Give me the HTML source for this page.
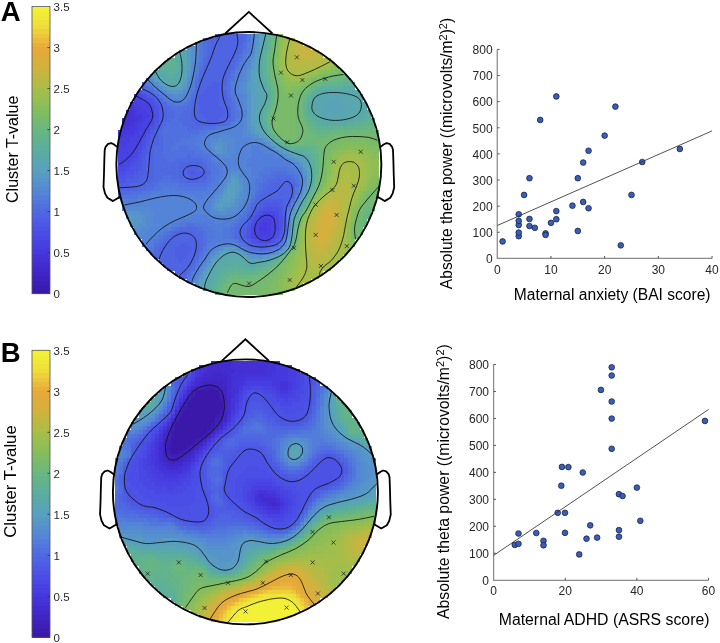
<!DOCTYPE html>
<html><head><meta charset="utf-8"><style>html,body{margin:0;padding:0;background:#fff;}svg{display:block;will-change:transform;}</style></head>
<body><svg width="720" height="643" viewBox="0 0 720 643"><text x="0.8" y="20.9" font-family="'Liberation Sans', sans-serif" font-size="27.5" font-weight="bold" fill="#000">A</text>
<text x="0.8" y="362.1" font-family="'Liberation Sans', sans-serif" font-size="27.5" font-weight="bold" fill="#000">B</text>
<rect x="32" y="289.21" width="18" height="4.99" fill="#3b18a9" shape-rendering="crispEdges"/>
<rect x="32" y="284.72" width="18" height="4.99" fill="#3c1bb0" shape-rendering="crispEdges"/>
<rect x="32" y="280.24" width="18" height="4.99" fill="#3d1eb6" shape-rendering="crispEdges"/>
<rect x="32" y="275.75" width="18" height="4.99" fill="#3f21bd" shape-rendering="crispEdges"/>
<rect x="32" y="271.26" width="18" height="4.99" fill="#4024c4" shape-rendering="crispEdges"/>
<rect x="32" y="266.77" width="18" height="4.99" fill="#4128c9" shape-rendering="crispEdges"/>
<rect x="32" y="262.29" width="18" height="4.99" fill="#432ccf" shape-rendering="crispEdges"/>
<rect x="32" y="257.80" width="18" height="4.99" fill="#4430d5" shape-rendering="crispEdges"/>
<rect x="32" y="253.31" width="18" height="4.99" fill="#4533da" shape-rendering="crispEdges"/>
<rect x="32" y="248.82" width="18" height="4.99" fill="#4638df" shape-rendering="crispEdges"/>
<rect x="32" y="244.34" width="18" height="4.99" fill="#473de0" shape-rendering="crispEdges"/>
<rect x="32" y="239.85" width="18" height="4.99" fill="#4842e2" shape-rendering="crispEdges"/>
<rect x="32" y="235.36" width="18" height="4.99" fill="#4948e4" shape-rendering="crispEdges"/>
<rect x="32" y="230.88" width="18" height="4.99" fill="#4a4de6" shape-rendering="crispEdges"/>
<rect x="32" y="226.39" width="18" height="4.99" fill="#4b52e5" shape-rendering="crispEdges"/>
<rect x="32" y="221.90" width="18" height="4.99" fill="#4c58e4" shape-rendering="crispEdges"/>
<rect x="32" y="217.41" width="18" height="4.99" fill="#4d5ee4" shape-rendering="crispEdges"/>
<rect x="32" y="212.93" width="18" height="4.99" fill="#4e64e3" shape-rendering="crispEdges"/>
<rect x="32" y="208.44" width="18" height="4.99" fill="#4f69e1" shape-rendering="crispEdges"/>
<rect x="32" y="203.95" width="18" height="4.99" fill="#5070df" shape-rendering="crispEdges"/>
<rect x="32" y="199.46" width="18" height="4.99" fill="#5177dc" shape-rendering="crispEdges"/>
<rect x="32" y="194.97" width="18" height="4.99" fill="#537dda" shape-rendering="crispEdges"/>
<rect x="32" y="190.49" width="18" height="4.99" fill="#5484d7" shape-rendering="crispEdges"/>
<rect x="32" y="186.00" width="18" height="4.99" fill="#558ad3" shape-rendering="crispEdges"/>
<rect x="32" y="181.51" width="18" height="4.99" fill="#558fce" shape-rendering="crispEdges"/>
<rect x="32" y="177.02" width="18" height="4.99" fill="#5694c9" shape-rendering="crispEdges"/>
<rect x="32" y="172.54" width="18" height="4.99" fill="#579ac4" shape-rendering="crispEdges"/>
<rect x="32" y="168.05" width="18" height="4.99" fill="#589fc0" shape-rendering="crispEdges"/>
<rect x="32" y="163.56" width="18" height="4.99" fill="#58a3b8" shape-rendering="crispEdges"/>
<rect x="32" y="159.07" width="18" height="4.99" fill="#59a6b2" shape-rendering="crispEdges"/>
<rect x="32" y="154.59" width="18" height="4.99" fill="#59a9aa" shape-rendering="crispEdges"/>
<rect x="32" y="150.10" width="18" height="4.99" fill="#5aaca3" shape-rendering="crispEdges"/>
<rect x="32" y="145.61" width="18" height="4.99" fill="#5caf9c" shape-rendering="crispEdges"/>
<rect x="32" y="141.12" width="18" height="4.99" fill="#5fb196" shape-rendering="crispEdges"/>
<rect x="32" y="136.64" width="18" height="4.99" fill="#62b28e" shape-rendering="crispEdges"/>
<rect x="32" y="132.15" width="18" height="4.99" fill="#65b488" shape-rendering="crispEdges"/>
<rect x="32" y="127.66" width="18" height="4.99" fill="#68b680" shape-rendering="crispEdges"/>
<rect x="32" y="123.17" width="18" height="4.99" fill="#6eb879" shape-rendering="crispEdges"/>
<rect x="32" y="118.69" width="18" height="4.99" fill="#74b971" shape-rendering="crispEdges"/>
<rect x="32" y="114.20" width="18" height="4.99" fill="#7abb69" shape-rendering="crispEdges"/>
<rect x="32" y="109.71" width="18" height="4.99" fill="#80bd61" shape-rendering="crispEdges"/>
<rect x="32" y="105.22" width="18" height="4.99" fill="#87be5a" shape-rendering="crispEdges"/>
<rect x="32" y="100.74" width="18" height="4.99" fill="#8fbe56" shape-rendering="crispEdges"/>
<rect x="32" y="96.25" width="18" height="4.99" fill="#97be52" shape-rendering="crispEdges"/>
<rect x="32" y="91.76" width="18" height="4.99" fill="#9ebe4d" shape-rendering="crispEdges"/>
<rect x="32" y="87.28" width="18" height="4.99" fill="#a6be49" shape-rendering="crispEdges"/>
<rect x="32" y="82.79" width="18" height="4.99" fill="#afbc46" shape-rendering="crispEdges"/>
<rect x="32" y="78.30" width="18" height="4.99" fill="#b7b944" shape-rendering="crispEdges"/>
<rect x="32" y="73.81" width="18" height="4.99" fill="#c0b742" shape-rendering="crispEdges"/>
<rect x="32" y="69.32" width="18" height="4.99" fill="#c8b440" shape-rendering="crispEdges"/>
<rect x="32" y="64.84" width="18" height="4.99" fill="#d0b23e" shape-rendering="crispEdges"/>
<rect x="32" y="60.35" width="18" height="4.99" fill="#d6af3d" shape-rendering="crispEdges"/>
<rect x="32" y="55.86" width="18" height="4.99" fill="#dbad3c" shape-rendering="crispEdges"/>
<rect x="32" y="51.38" width="18" height="4.99" fill="#e1ab3b" shape-rendering="crispEdges"/>
<rect x="32" y="46.89" width="18" height="4.99" fill="#e6a93a" shape-rendering="crispEdges"/>
<rect x="32" y="42.40" width="18" height="4.99" fill="#e9af3a" shape-rendering="crispEdges"/>
<rect x="32" y="37.91" width="18" height="4.99" fill="#eabb3a" shape-rendering="crispEdges"/>
<rect x="32" y="33.43" width="18" height="4.99" fill="#ebc63a" shape-rendering="crispEdges"/>
<rect x="32" y="28.94" width="18" height="4.99" fill="#edd13a" shape-rendering="crispEdges"/>
<rect x="32" y="24.45" width="18" height="4.99" fill="#eedc3a" shape-rendering="crispEdges"/>
<rect x="32" y="19.96" width="18" height="4.99" fill="#efe239" shape-rendering="crispEdges"/>
<rect x="32" y="15.48" width="18" height="4.99" fill="#f0e737" shape-rendering="crispEdges"/>
<rect x="32" y="10.99" width="18" height="4.99" fill="#f1ec36" shape-rendering="crispEdges"/>
<rect x="32" y="6.50" width="18" height="4.99" fill="#f2f135" shape-rendering="crispEdges"/>
<rect x="32" y="6.5" width="18" height="287.2" fill="none" stroke="#555" stroke-width="0.8"/>
<text x="53.6" y="298.30" font-family="'Liberation Sans', sans-serif" font-size="11.5" fill="#2a2a2a">0</text>
<line x1="47.4" y1="252.67" x2="50" y2="252.67" stroke="#333" stroke-width="0.8"/>
<text x="53.6" y="257.27" font-family="'Liberation Sans', sans-serif" font-size="11.5" fill="#2a2a2a">0.5</text>
<line x1="47.4" y1="211.64" x2="50" y2="211.64" stroke="#333" stroke-width="0.8"/>
<text x="53.6" y="216.24" font-family="'Liberation Sans', sans-serif" font-size="11.5" fill="#2a2a2a">1</text>
<line x1="47.4" y1="170.61" x2="50" y2="170.61" stroke="#333" stroke-width="0.8"/>
<text x="53.6" y="175.21" font-family="'Liberation Sans', sans-serif" font-size="11.5" fill="#2a2a2a">1.5</text>
<line x1="47.4" y1="129.59" x2="50" y2="129.59" stroke="#333" stroke-width="0.8"/>
<text x="53.6" y="134.19" font-family="'Liberation Sans', sans-serif" font-size="11.5" fill="#2a2a2a">2</text>
<line x1="47.4" y1="88.56" x2="50" y2="88.56" stroke="#333" stroke-width="0.8"/>
<text x="53.6" y="93.16" font-family="'Liberation Sans', sans-serif" font-size="11.5" fill="#2a2a2a">2.5</text>
<line x1="47.4" y1="47.53" x2="50" y2="47.53" stroke="#333" stroke-width="0.8"/>
<text x="53.6" y="52.13" font-family="'Liberation Sans', sans-serif" font-size="11.5" fill="#2a2a2a">3</text>
<text x="53.6" y="11.10" font-family="'Liberation Sans', sans-serif" font-size="11.5" fill="#2a2a2a">3.5</text>
<text transform="translate(17.6,149.3) rotate(-90)" text-anchor="middle" font-family="'Liberation Sans', sans-serif" font-size="16" fill="#000">Cluster T-value</text>
<rect x="32" y="632.82" width="18" height="4.98" fill="#3b18a9" shape-rendering="crispEdges"/>
<rect x="32" y="628.33" width="18" height="4.98" fill="#3c1bb0" shape-rendering="crispEdges"/>
<rect x="32" y="623.85" width="18" height="4.98" fill="#3d1eb6" shape-rendering="crispEdges"/>
<rect x="32" y="619.36" width="18" height="4.98" fill="#3f21bd" shape-rendering="crispEdges"/>
<rect x="32" y="614.88" width="18" height="4.98" fill="#4024c4" shape-rendering="crispEdges"/>
<rect x="32" y="610.39" width="18" height="4.98" fill="#4128c9" shape-rendering="crispEdges"/>
<rect x="32" y="605.91" width="18" height="4.98" fill="#432ccf" shape-rendering="crispEdges"/>
<rect x="32" y="601.42" width="18" height="4.98" fill="#4430d5" shape-rendering="crispEdges"/>
<rect x="32" y="596.94" width="18" height="4.98" fill="#4533da" shape-rendering="crispEdges"/>
<rect x="32" y="592.46" width="18" height="4.98" fill="#4638df" shape-rendering="crispEdges"/>
<rect x="32" y="587.97" width="18" height="4.98" fill="#473de0" shape-rendering="crispEdges"/>
<rect x="32" y="583.49" width="18" height="4.98" fill="#4842e2" shape-rendering="crispEdges"/>
<rect x="32" y="579.00" width="18" height="4.98" fill="#4948e4" shape-rendering="crispEdges"/>
<rect x="32" y="574.52" width="18" height="4.98" fill="#4a4de6" shape-rendering="crispEdges"/>
<rect x="32" y="570.03" width="18" height="4.98" fill="#4b52e5" shape-rendering="crispEdges"/>
<rect x="32" y="565.55" width="18" height="4.98" fill="#4c58e4" shape-rendering="crispEdges"/>
<rect x="32" y="561.07" width="18" height="4.98" fill="#4d5ee4" shape-rendering="crispEdges"/>
<rect x="32" y="556.58" width="18" height="4.98" fill="#4e64e3" shape-rendering="crispEdges"/>
<rect x="32" y="552.10" width="18" height="4.98" fill="#4f69e1" shape-rendering="crispEdges"/>
<rect x="32" y="547.61" width="18" height="4.98" fill="#5070df" shape-rendering="crispEdges"/>
<rect x="32" y="543.13" width="18" height="4.98" fill="#5177dc" shape-rendering="crispEdges"/>
<rect x="32" y="538.64" width="18" height="4.98" fill="#537dda" shape-rendering="crispEdges"/>
<rect x="32" y="534.16" width="18" height="4.98" fill="#5484d7" shape-rendering="crispEdges"/>
<rect x="32" y="529.67" width="18" height="4.98" fill="#558ad3" shape-rendering="crispEdges"/>
<rect x="32" y="525.19" width="18" height="4.98" fill="#558fce" shape-rendering="crispEdges"/>
<rect x="32" y="520.71" width="18" height="4.98" fill="#5694c9" shape-rendering="crispEdges"/>
<rect x="32" y="516.22" width="18" height="4.98" fill="#579ac4" shape-rendering="crispEdges"/>
<rect x="32" y="511.74" width="18" height="4.98" fill="#589fc0" shape-rendering="crispEdges"/>
<rect x="32" y="507.25" width="18" height="4.98" fill="#58a3b8" shape-rendering="crispEdges"/>
<rect x="32" y="502.77" width="18" height="4.98" fill="#59a6b2" shape-rendering="crispEdges"/>
<rect x="32" y="498.28" width="18" height="4.98" fill="#59a9aa" shape-rendering="crispEdges"/>
<rect x="32" y="493.80" width="18" height="4.98" fill="#5aaca3" shape-rendering="crispEdges"/>
<rect x="32" y="489.32" width="18" height="4.98" fill="#5caf9c" shape-rendering="crispEdges"/>
<rect x="32" y="484.83" width="18" height="4.98" fill="#5fb196" shape-rendering="crispEdges"/>
<rect x="32" y="480.35" width="18" height="4.98" fill="#62b28e" shape-rendering="crispEdges"/>
<rect x="32" y="475.86" width="18" height="4.98" fill="#65b488" shape-rendering="crispEdges"/>
<rect x="32" y="471.38" width="18" height="4.98" fill="#68b680" shape-rendering="crispEdges"/>
<rect x="32" y="466.89" width="18" height="4.98" fill="#6eb879" shape-rendering="crispEdges"/>
<rect x="32" y="462.41" width="18" height="4.98" fill="#74b971" shape-rendering="crispEdges"/>
<rect x="32" y="457.92" width="18" height="4.98" fill="#7abb69" shape-rendering="crispEdges"/>
<rect x="32" y="453.44" width="18" height="4.98" fill="#80bd61" shape-rendering="crispEdges"/>
<rect x="32" y="448.96" width="18" height="4.98" fill="#87be5a" shape-rendering="crispEdges"/>
<rect x="32" y="444.47" width="18" height="4.98" fill="#8fbe56" shape-rendering="crispEdges"/>
<rect x="32" y="439.99" width="18" height="4.98" fill="#97be52" shape-rendering="crispEdges"/>
<rect x="32" y="435.50" width="18" height="4.98" fill="#9ebe4d" shape-rendering="crispEdges"/>
<rect x="32" y="431.02" width="18" height="4.98" fill="#a6be49" shape-rendering="crispEdges"/>
<rect x="32" y="426.53" width="18" height="4.98" fill="#afbc46" shape-rendering="crispEdges"/>
<rect x="32" y="422.05" width="18" height="4.98" fill="#b7b944" shape-rendering="crispEdges"/>
<rect x="32" y="417.57" width="18" height="4.98" fill="#c0b742" shape-rendering="crispEdges"/>
<rect x="32" y="413.08" width="18" height="4.98" fill="#c8b440" shape-rendering="crispEdges"/>
<rect x="32" y="408.60" width="18" height="4.98" fill="#d0b23e" shape-rendering="crispEdges"/>
<rect x="32" y="404.11" width="18" height="4.98" fill="#d6af3d" shape-rendering="crispEdges"/>
<rect x="32" y="399.63" width="18" height="4.98" fill="#dbad3c" shape-rendering="crispEdges"/>
<rect x="32" y="395.14" width="18" height="4.98" fill="#e1ab3b" shape-rendering="crispEdges"/>
<rect x="32" y="390.66" width="18" height="4.98" fill="#e6a93a" shape-rendering="crispEdges"/>
<rect x="32" y="386.18" width="18" height="4.98" fill="#e9af3a" shape-rendering="crispEdges"/>
<rect x="32" y="381.69" width="18" height="4.98" fill="#eabb3a" shape-rendering="crispEdges"/>
<rect x="32" y="377.21" width="18" height="4.98" fill="#ebc63a" shape-rendering="crispEdges"/>
<rect x="32" y="372.72" width="18" height="4.98" fill="#edd13a" shape-rendering="crispEdges"/>
<rect x="32" y="368.24" width="18" height="4.98" fill="#eedc3a" shape-rendering="crispEdges"/>
<rect x="32" y="363.75" width="18" height="4.98" fill="#efe239" shape-rendering="crispEdges"/>
<rect x="32" y="359.27" width="18" height="4.98" fill="#f0e737" shape-rendering="crispEdges"/>
<rect x="32" y="354.78" width="18" height="4.98" fill="#f1ec36" shape-rendering="crispEdges"/>
<rect x="32" y="350.30" width="18" height="4.98" fill="#f2f135" shape-rendering="crispEdges"/>
<rect x="32" y="350.3" width="18" height="286.99999999999994" fill="none" stroke="#555" stroke-width="0.8"/>
<text x="53.6" y="641.90" font-family="'Liberation Sans', sans-serif" font-size="11.5" fill="#2a2a2a">0</text>
<line x1="47.4" y1="596.30" x2="50" y2="596.30" stroke="#333" stroke-width="0.8"/>
<text x="53.6" y="600.90" font-family="'Liberation Sans', sans-serif" font-size="11.5" fill="#2a2a2a">0.5</text>
<line x1="47.4" y1="555.30" x2="50" y2="555.30" stroke="#333" stroke-width="0.8"/>
<text x="53.6" y="559.90" font-family="'Liberation Sans', sans-serif" font-size="11.5" fill="#2a2a2a">1</text>
<line x1="47.4" y1="514.30" x2="50" y2="514.30" stroke="#333" stroke-width="0.8"/>
<text x="53.6" y="518.90" font-family="'Liberation Sans', sans-serif" font-size="11.5" fill="#2a2a2a">1.5</text>
<line x1="47.4" y1="473.30" x2="50" y2="473.30" stroke="#333" stroke-width="0.8"/>
<text x="53.6" y="477.90" font-family="'Liberation Sans', sans-serif" font-size="11.5" fill="#2a2a2a">2</text>
<line x1="47.4" y1="432.30" x2="50" y2="432.30" stroke="#333" stroke-width="0.8"/>
<text x="53.6" y="436.90" font-family="'Liberation Sans', sans-serif" font-size="11.5" fill="#2a2a2a">2.5</text>
<line x1="47.4" y1="391.30" x2="50" y2="391.30" stroke="#333" stroke-width="0.8"/>
<text x="53.6" y="395.90" font-family="'Liberation Sans', sans-serif" font-size="11.5" fill="#2a2a2a">3</text>
<text x="53.6" y="354.90" font-family="'Liberation Sans', sans-serif" font-size="11.5" fill="#2a2a2a">3.5</text>
<text transform="translate(16.0,481.5) rotate(-90)" text-anchor="middle" font-family="'Liberation Sans', sans-serif" font-size="16.8" fill="#000">Cluster T-value</text>
<path d="M497.25,49.40V258.4H712.05" fill="none" stroke="#8a8a8a" stroke-width="1.25"/>
<text x="492.65" y="263.20" text-anchor="end" font-family="'Liberation Sans', sans-serif" font-size="12" fill="#262626">0</text>
<line x1="497.25" y1="232.27" x2="499.65" y2="232.27" stroke="#555" stroke-width="1"/>
<text x="492.65" y="237.07" text-anchor="end" font-family="'Liberation Sans', sans-serif" font-size="12" fill="#262626">100</text>
<line x1="497.25" y1="206.15" x2="499.65" y2="206.15" stroke="#555" stroke-width="1"/>
<text x="492.65" y="210.95" text-anchor="end" font-family="'Liberation Sans', sans-serif" font-size="12" fill="#262626">200</text>
<line x1="497.25" y1="180.02" x2="499.65" y2="180.02" stroke="#555" stroke-width="1"/>
<text x="492.65" y="184.82" text-anchor="end" font-family="'Liberation Sans', sans-serif" font-size="12" fill="#262626">300</text>
<line x1="497.25" y1="153.90" x2="499.65" y2="153.90" stroke="#555" stroke-width="1"/>
<text x="492.65" y="158.70" text-anchor="end" font-family="'Liberation Sans', sans-serif" font-size="12" fill="#262626">400</text>
<line x1="497.25" y1="127.77" x2="499.65" y2="127.77" stroke="#555" stroke-width="1"/>
<text x="492.65" y="132.57" text-anchor="end" font-family="'Liberation Sans', sans-serif" font-size="12" fill="#262626">500</text>
<line x1="497.25" y1="101.65" x2="499.65" y2="101.65" stroke="#555" stroke-width="1"/>
<text x="492.65" y="106.45" text-anchor="end" font-family="'Liberation Sans', sans-serif" font-size="12" fill="#262626">600</text>
<line x1="497.25" y1="75.52" x2="499.65" y2="75.52" stroke="#555" stroke-width="1"/>
<text x="492.65" y="80.32" text-anchor="end" font-family="'Liberation Sans', sans-serif" font-size="12" fill="#262626">700</text>
<line x1="497.25" y1="49.40" x2="499.65" y2="49.40" stroke="#555" stroke-width="1"/>
<text x="492.65" y="54.20" text-anchor="end" font-family="'Liberation Sans', sans-serif" font-size="12" fill="#262626">800</text>
<text x="497.25" y="274.10" text-anchor="middle" font-family="'Liberation Sans', sans-serif" font-size="12" fill="#262626">0</text>
<line x1="550.95" y1="258.4" x2="550.95" y2="255.99999999999997" stroke="#555" stroke-width="1"/>
<text x="550.95" y="274.10" text-anchor="middle" font-family="'Liberation Sans', sans-serif" font-size="12" fill="#262626">10</text>
<line x1="604.65" y1="258.4" x2="604.65" y2="255.99999999999997" stroke="#555" stroke-width="1"/>
<text x="604.65" y="274.10" text-anchor="middle" font-family="'Liberation Sans', sans-serif" font-size="12" fill="#262626">20</text>
<line x1="658.35" y1="258.4" x2="658.35" y2="255.99999999999997" stroke="#555" stroke-width="1"/>
<text x="658.35" y="274.10" text-anchor="middle" font-family="'Liberation Sans', sans-serif" font-size="12" fill="#262626">30</text>
<line x1="712.05" y1="258.4" x2="712.05" y2="255.99999999999997" stroke="#555" stroke-width="1"/>
<text x="712.05" y="274.10" text-anchor="middle" font-family="'Liberation Sans', sans-serif" font-size="12" fill="#262626">40</text>
<circle cx="502.62" cy="241.42" r="2.85" fill="#3a5db8" stroke="#15203f" stroke-width="0.75"/>
<circle cx="518.73" cy="236.19" r="2.85" fill="#3a5db8" stroke="#15203f" stroke-width="0.75"/>
<circle cx="518.73" cy="232.54" r="2.85" fill="#3a5db8" stroke="#15203f" stroke-width="0.75"/>
<circle cx="518.73" cy="224.96" r="2.85" fill="#3a5db8" stroke="#15203f" stroke-width="0.75"/>
<circle cx="518.73" cy="220.78" r="2.85" fill="#3a5db8" stroke="#15203f" stroke-width="0.75"/>
<circle cx="518.73" cy="214.25" r="2.85" fill="#3a5db8" stroke="#15203f" stroke-width="0.75"/>
<circle cx="524.10" cy="194.92" r="2.85" fill="#3a5db8" stroke="#15203f" stroke-width="0.75"/>
<circle cx="529.47" cy="178.20" r="2.85" fill="#3a5db8" stroke="#15203f" stroke-width="0.75"/>
<circle cx="529.47" cy="218.95" r="2.85" fill="#3a5db8" stroke="#15203f" stroke-width="0.75"/>
<circle cx="529.47" cy="226.00" r="2.85" fill="#3a5db8" stroke="#15203f" stroke-width="0.75"/>
<circle cx="534.84" cy="227.83" r="2.85" fill="#3a5db8" stroke="#15203f" stroke-width="0.75"/>
<circle cx="540.21" cy="119.94" r="2.85" fill="#3a5db8" stroke="#15203f" stroke-width="0.75"/>
<circle cx="545.58" cy="233.32" r="2.85" fill="#3a5db8" stroke="#15203f" stroke-width="0.75"/>
<circle cx="545.58" cy="234.89" r="2.85" fill="#3a5db8" stroke="#15203f" stroke-width="0.75"/>
<circle cx="550.95" cy="222.87" r="2.85" fill="#3a5db8" stroke="#15203f" stroke-width="0.75"/>
<circle cx="556.32" cy="96.42" r="2.85" fill="#3a5db8" stroke="#15203f" stroke-width="0.75"/>
<circle cx="556.32" cy="211.11" r="2.85" fill="#3a5db8" stroke="#15203f" stroke-width="0.75"/>
<circle cx="556.32" cy="219.21" r="2.85" fill="#3a5db8" stroke="#15203f" stroke-width="0.75"/>
<circle cx="572.43" cy="205.63" r="2.85" fill="#3a5db8" stroke="#15203f" stroke-width="0.75"/>
<circle cx="577.80" cy="178.20" r="2.85" fill="#3a5db8" stroke="#15203f" stroke-width="0.75"/>
<circle cx="577.80" cy="230.97" r="2.85" fill="#3a5db8" stroke="#15203f" stroke-width="0.75"/>
<circle cx="583.17" cy="162.52" r="2.85" fill="#3a5db8" stroke="#15203f" stroke-width="0.75"/>
<circle cx="583.17" cy="201.97" r="2.85" fill="#3a5db8" stroke="#15203f" stroke-width="0.75"/>
<circle cx="588.54" cy="150.76" r="2.85" fill="#3a5db8" stroke="#15203f" stroke-width="0.75"/>
<circle cx="588.54" cy="208.24" r="2.85" fill="#3a5db8" stroke="#15203f" stroke-width="0.75"/>
<circle cx="604.65" cy="135.61" r="2.85" fill="#3a5db8" stroke="#15203f" stroke-width="0.75"/>
<circle cx="615.39" cy="106.61" r="2.85" fill="#3a5db8" stroke="#15203f" stroke-width="0.75"/>
<circle cx="620.76" cy="245.34" r="2.85" fill="#3a5db8" stroke="#15203f" stroke-width="0.75"/>
<circle cx="631.50" cy="194.92" r="2.85" fill="#3a5db8" stroke="#15203f" stroke-width="0.75"/>
<circle cx="642.24" cy="162.00" r="2.85" fill="#3a5db8" stroke="#15203f" stroke-width="0.75"/>
<circle cx="679.83" cy="148.94" r="2.85" fill="#3a5db8" stroke="#15203f" stroke-width="0.75"/>
<line x1="497.25" y1="225.51" x2="712.05" y2="130.91" stroke="#333" stroke-width="0.85"/>
<text x="612.2" y="299.9" text-anchor="middle" font-family="'Liberation Sans', sans-serif" font-size="15.6" fill="#000">Maternal anxiety (BAI score)</text>
<text transform="translate(452.4,153.5) rotate(-90)" text-anchor="middle" font-family="'Liberation Sans', sans-serif" font-size="15.6" fill="#000">Absolute theta power ((microvolts/m<tspan font-size="10.9" dy="-5">2</tspan><tspan dy="5">)</tspan><tspan font-size="10.9" dy="-5">2</tspan><tspan dy="5">)</tspan></text>
<path d="M493.6,364.49V580.25H708.52" fill="none" stroke="#8a8a8a" stroke-width="1.25"/>
<text x="489.0" y="584.85" text-anchor="end" font-family="'Liberation Sans', sans-serif" font-size="12" fill="#262626">0</text>
<line x1="493.6" y1="553.28" x2="496.0" y2="553.28" stroke="#555" stroke-width="1"/>
<text x="489.0" y="557.88" text-anchor="end" font-family="'Liberation Sans', sans-serif" font-size="12" fill="#262626">100</text>
<line x1="493.6" y1="526.31" x2="496.0" y2="526.31" stroke="#555" stroke-width="1"/>
<text x="489.0" y="530.91" text-anchor="end" font-family="'Liberation Sans', sans-serif" font-size="12" fill="#262626">200</text>
<line x1="493.6" y1="499.34" x2="496.0" y2="499.34" stroke="#555" stroke-width="1"/>
<text x="489.0" y="503.94" text-anchor="end" font-family="'Liberation Sans', sans-serif" font-size="12" fill="#262626">300</text>
<line x1="493.6" y1="472.37" x2="496.0" y2="472.37" stroke="#555" stroke-width="1"/>
<text x="489.0" y="476.97" text-anchor="end" font-family="'Liberation Sans', sans-serif" font-size="12" fill="#262626">400</text>
<line x1="493.6" y1="445.40" x2="496.0" y2="445.40" stroke="#555" stroke-width="1"/>
<text x="489.0" y="450.00" text-anchor="end" font-family="'Liberation Sans', sans-serif" font-size="12" fill="#262626">500</text>
<line x1="493.6" y1="418.43" x2="496.0" y2="418.43" stroke="#555" stroke-width="1"/>
<text x="489.0" y="423.03" text-anchor="end" font-family="'Liberation Sans', sans-serif" font-size="12" fill="#262626">600</text>
<line x1="493.6" y1="391.46" x2="496.0" y2="391.46" stroke="#555" stroke-width="1"/>
<text x="489.0" y="396.06" text-anchor="end" font-family="'Liberation Sans', sans-serif" font-size="12" fill="#262626">700</text>
<line x1="493.6" y1="364.49" x2="496.0" y2="364.49" stroke="#555" stroke-width="1"/>
<text x="489.0" y="369.09" text-anchor="end" font-family="'Liberation Sans', sans-serif" font-size="12" fill="#262626">800</text>
<text x="493.60" y="595.25" text-anchor="middle" font-family="'Liberation Sans', sans-serif" font-size="12" fill="#262626">0</text>
<line x1="565.24" y1="580.25" x2="565.24" y2="577.85" stroke="#555" stroke-width="1"/>
<text x="565.24" y="595.25" text-anchor="middle" font-family="'Liberation Sans', sans-serif" font-size="12" fill="#262626">20</text>
<line x1="636.88" y1="580.25" x2="636.88" y2="577.85" stroke="#555" stroke-width="1"/>
<text x="636.88" y="595.25" text-anchor="middle" font-family="'Liberation Sans', sans-serif" font-size="12" fill="#262626">40</text>
<line x1="708.52" y1="580.25" x2="708.52" y2="577.85" stroke="#555" stroke-width="1"/>
<text x="708.52" y="595.25" text-anchor="middle" font-family="'Liberation Sans', sans-serif" font-size="12" fill="#262626">60</text>
<circle cx="514.81" cy="544.89" r="2.85" fill="#3a5db8" stroke="#15203f" stroke-width="0.75"/>
<circle cx="518.49" cy="543.79" r="2.85" fill="#3a5db8" stroke="#15203f" stroke-width="0.75"/>
<circle cx="518.49" cy="533.51" r="2.85" fill="#3a5db8" stroke="#15203f" stroke-width="0.75"/>
<circle cx="536.30" cy="533.00" r="2.85" fill="#3a5db8" stroke="#15203f" stroke-width="0.75"/>
<circle cx="543.50" cy="540.79" r="2.85" fill="#3a5db8" stroke="#15203f" stroke-width="0.75"/>
<circle cx="543.50" cy="545.30" r="2.85" fill="#3a5db8" stroke="#15203f" stroke-width="0.75"/>
<circle cx="557.72" cy="512.80" r="2.85" fill="#3a5db8" stroke="#15203f" stroke-width="0.75"/>
<circle cx="564.99" cy="512.80" r="2.85" fill="#3a5db8" stroke="#15203f" stroke-width="0.75"/>
<circle cx="564.99" cy="532.81" r="2.85" fill="#3a5db8" stroke="#15203f" stroke-width="0.75"/>
<circle cx="561.30" cy="485.69" r="2.85" fill="#3a5db8" stroke="#15203f" stroke-width="0.75"/>
<circle cx="561.91" cy="466.90" r="2.85" fill="#3a5db8" stroke="#15203f" stroke-width="0.75"/>
<circle cx="568.39" cy="467.11" r="2.85" fill="#3a5db8" stroke="#15203f" stroke-width="0.75"/>
<circle cx="579.21" cy="554.41" r="2.85" fill="#3a5db8" stroke="#15203f" stroke-width="0.75"/>
<circle cx="582.79" cy="472.50" r="2.85" fill="#3a5db8" stroke="#15203f" stroke-width="0.75"/>
<circle cx="586.52" cy="538.69" r="2.85" fill="#3a5db8" stroke="#15203f" stroke-width="0.75"/>
<circle cx="590.21" cy="525.31" r="2.85" fill="#3a5db8" stroke="#15203f" stroke-width="0.75"/>
<circle cx="597.12" cy="537.61" r="2.85" fill="#3a5db8" stroke="#15203f" stroke-width="0.75"/>
<circle cx="600.92" cy="389.90" r="2.85" fill="#3a5db8" stroke="#15203f" stroke-width="0.75"/>
<circle cx="611.70" cy="367.29" r="2.85" fill="#3a5db8" stroke="#15203f" stroke-width="0.75"/>
<circle cx="611.70" cy="375.49" r="2.85" fill="#3a5db8" stroke="#15203f" stroke-width="0.75"/>
<circle cx="611.70" cy="401.49" r="2.85" fill="#3a5db8" stroke="#15203f" stroke-width="0.75"/>
<circle cx="611.70" cy="418.59" r="2.85" fill="#3a5db8" stroke="#15203f" stroke-width="0.75"/>
<circle cx="611.70" cy="448.80" r="2.85" fill="#3a5db8" stroke="#15203f" stroke-width="0.75"/>
<circle cx="618.90" cy="494.19" r="2.85" fill="#3a5db8" stroke="#15203f" stroke-width="0.75"/>
<circle cx="622.55" cy="496.00" r="2.85" fill="#3a5db8" stroke="#15203f" stroke-width="0.75"/>
<circle cx="618.97" cy="530.11" r="2.85" fill="#3a5db8" stroke="#15203f" stroke-width="0.75"/>
<circle cx="618.97" cy="536.69" r="2.85" fill="#3a5db8" stroke="#15203f" stroke-width="0.75"/>
<circle cx="636.88" cy="487.58" r="2.85" fill="#3a5db8" stroke="#15203f" stroke-width="0.75"/>
<circle cx="640.32" cy="520.81" r="2.85" fill="#3a5db8" stroke="#15203f" stroke-width="0.75"/>
<circle cx="704.94" cy="420.91" r="2.85" fill="#3a5db8" stroke="#15203f" stroke-width="0.75"/>
<line x1="493.60" y1="555.41" x2="708.52" y2="409.50" stroke="#333" stroke-width="0.85"/>
<text x="604.1" y="624.8" text-anchor="middle" font-family="'Liberation Sans', sans-serif" font-size="15.8" fill="#000">Maternal ADHD (ASRS score)</text>
<text transform="translate(448.8,481.6) rotate(-90)" text-anchor="middle" font-family="'Liberation Sans', sans-serif" font-size="15.8" fill="#000">Absolute theta power ((microvolts/m<tspan font-size="11.1" dy="-5">2</tspan><tspan dy="5">)</tspan><tspan font-size="11.1" dy="-5">2</tspan><tspan dy="5">)</tspan></text>
<g shape-rendering="crispEdges">
<path fill="#4430d5" d="M122.37 122.34H130.40V126.36H122.37zM122.37 118.33H130.40V122.34H122.37zM126.39 114.31H130.40V118.33H126.39z"/>
<path fill="#4533da" d="M122.37 126.36H130.40V130.37H122.37zM130.40 122.34H134.42V126.36H130.40zM130.40 118.33H138.43V122.34H130.40zM130.40 114.31H134.42V118.33H130.40zM126.39 110.30H134.42V114.31H126.39z"/>
<path fill="#4638df" d="M258.89 226.73H266.92V230.75H258.89zM262.90 222.72H266.92V226.73H262.90zM118.36 134.39H126.39V138.40H118.36zM118.36 130.37H134.42V134.39H118.36zM130.40 126.36H138.43V130.37H130.40zM134.42 122.34H138.43V126.36H134.42zM138.43 118.33H142.45V122.34H138.43zM134.42 114.31H142.45V118.33H134.42zM134.42 110.30H138.43V114.31H134.42zM130.40 106.28H134.42V110.30H130.40z"/>
<path fill="#473de0" d="M258.89 230.75H270.93V234.77H258.89zM266.92 226.73H270.93V230.75H266.92zM258.89 222.72H262.90V226.73H258.89zM266.92 222.72H270.93V226.73H266.92zM262.90 218.70H270.93V222.72H262.90zM118.36 142.42H126.39V146.43H118.36zM118.36 138.40H130.40V142.42H118.36zM126.39 134.39H134.42V138.40H126.39zM134.42 130.37H138.43V134.39H134.42zM138.43 126.36H142.45V130.37H138.43zM138.43 122.34H142.45V126.36H138.43zM142.45 118.33H146.46V122.34H142.45zM142.45 114.31H150.48V118.33H142.45zM138.43 110.30H146.46V114.31H138.43zM134.42 106.28H142.45V110.30H134.42zM130.40 102.27H138.43V106.28H130.40z"/>
<path fill="#4842e2" d="M254.87 234.77H270.93V238.78H254.87zM254.87 230.75H258.89V234.77H254.87zM270.93 230.75H274.95V234.77H270.93zM254.87 226.73H258.89V230.75H254.87zM270.93 226.73H274.95V230.75H270.93zM254.87 222.72H258.89V226.73H254.87zM270.93 222.72H274.95V226.73H270.93zM258.89 218.70H262.90V222.72H258.89zM270.93 218.70H274.95V222.72H270.93zM258.89 214.69H274.95V218.70H258.89zM118.36 162.49H122.37V166.51H118.36zM118.36 158.48H130.40V162.49H118.36zM118.36 154.46H134.42V158.48H118.36zM118.36 150.45H134.42V154.46H118.36zM118.36 146.43H138.43V150.45H118.36zM126.39 142.42H138.43V146.43H126.39zM130.40 138.40H142.45V142.42H130.40zM134.42 134.39H142.45V138.40H134.42zM138.43 130.37H146.46V134.39H138.43zM142.45 126.36H146.46V130.37H142.45zM142.45 122.34H150.48V126.36H142.45zM146.46 118.33H150.48V122.34H146.46zM150.48 114.31H154.49V118.33H150.48zM146.46 110.30H154.49V114.31H146.46zM142.45 106.28H150.48V110.30H142.45zM138.43 102.27H150.48V106.28H138.43zM134.42 98.25H142.45V102.27H134.42zM134.42 94.23H138.43V98.25H134.42z"/>
<path fill="#4948e4" d="M258.89 238.78H270.93V242.80H258.89zM250.86 234.77H254.87V238.78H250.86zM270.93 234.77H274.95V238.78H270.93zM250.86 230.75H254.87V234.77H250.86zM250.86 226.73H254.87V230.75H250.86zM274.95 226.73H278.96V230.75H274.95zM250.86 222.72H254.87V226.73H250.86zM274.95 222.72H278.96V226.73H274.95zM254.87 218.70H258.89V222.72H254.87zM274.95 218.70H278.96V222.72H274.95zM274.95 214.69H278.96V218.70H274.95zM262.90 210.67H274.95V214.69H262.90zM118.36 166.51H126.39V170.52H118.36zM122.37 162.49H130.40V166.51H122.37zM130.40 158.48H134.42V162.49H130.40zM134.42 154.46H138.43V158.48H134.42zM134.42 150.45H138.43V154.46H134.42zM138.43 146.43H142.45V150.45H138.43zM138.43 142.42H142.45V146.43H138.43zM142.45 134.39H146.46V138.40H142.45zM146.46 126.36H150.48V130.37H146.46zM150.48 122.34H154.49V126.36H150.48zM150.48 118.33H154.49V122.34H150.48zM150.48 106.28H154.49V110.30H150.48zM142.45 98.25H146.46V102.27H142.45zM138.43 94.23H142.45V98.25H138.43z"/>
<path fill="#4a4de6" d="M254.87 238.78H258.89V242.80H254.87zM274.95 230.75H278.96V234.77H274.95zM254.87 214.69H258.89V218.70H254.87zM258.89 210.67H262.90V214.69H258.89zM274.95 210.67H278.96V214.69H274.95zM266.92 206.66H270.93V210.67H266.92zM118.36 170.52H126.39V174.54H118.36zM126.39 166.51H130.40V170.52H126.39zM130.40 162.49H134.42V166.51H130.40zM134.42 158.48H138.43V162.49H134.42zM138.43 150.45H142.45V154.46H138.43zM142.45 142.42H146.46V146.43H142.45zM142.45 138.40H146.46V142.42H142.45zM146.46 130.37H150.48V134.39H146.46zM154.49 114.31H158.51V118.33H154.49zM150.48 102.27H154.49V106.28H150.48zM146.46 98.25H150.48V102.27H146.46zM142.45 94.23H146.46V98.25H142.45z"/>
<path fill="#4b52e5" d="M250.86 238.78H254.87V242.80H250.86zM270.93 238.78H274.95V242.80H270.93zM246.84 234.77H250.86V238.78H246.84zM274.95 234.77H278.96V238.78H274.95zM246.84 230.75H250.86V234.77H246.84zM246.84 226.73H250.86V230.75H246.84zM278.96 226.73H282.98V230.75H278.96zM278.96 222.72H282.98V226.73H278.96zM250.86 218.70H254.87V222.72H250.86zM278.96 218.70H282.98V222.72H278.96zM278.96 214.69H282.98V218.70H278.96zM262.90 206.66H266.92V210.67H262.90zM270.93 206.66H278.96V210.67H270.93zM118.36 174.54H126.39V178.55H118.36zM126.39 170.52H134.42V174.54H126.39zM130.40 166.51H138.43V170.52H130.40zM134.42 162.49H138.43V166.51H134.42zM138.43 158.48H142.45V162.49H138.43zM138.43 154.46H142.45V158.48H138.43zM142.45 146.43H146.46V150.45H142.45zM146.46 134.39H150.48V138.40H146.46zM150.48 126.36H154.49V130.37H150.48zM154.49 118.33H158.51V122.34H154.49zM154.49 110.30H158.51V114.31H154.49zM154.49 106.28H158.51V110.30H154.49zM150.48 98.25H154.49V102.27H150.48zM138.43 90.22H142.45V94.23H138.43z"/>
<path fill="#4c58e4" d="M254.87 242.80H266.92V246.81H254.87zM278.96 230.75H282.98V234.77H278.96zM246.84 222.72H250.86V226.73H246.84zM250.86 214.69H254.87V218.70H250.86zM254.87 210.67H258.89V214.69H254.87zM278.96 210.67H282.98V214.69H278.96zM258.89 206.66H262.90V210.67H258.89zM278.96 206.66H282.98V210.67H278.96zM262.90 202.64H278.96V206.66H262.90zM118.36 178.55H126.39V182.57H118.36zM126.39 174.54H134.42V178.55H126.39zM134.42 170.52H138.43V174.54H134.42zM190.63 170.52H194.65V174.54H190.63zM138.43 166.51H142.45V170.52H138.43zM138.43 162.49H142.45V166.51H138.43zM142.45 154.46H146.46V158.48H142.45zM142.45 150.45H146.46V154.46H142.45zM146.46 142.42H150.48V146.43H146.46zM146.46 138.40H150.48V142.42H146.46zM150.48 130.37H154.49V134.39H150.48zM154.49 122.34H158.51V126.36H154.49zM154.49 102.27H158.51V106.28H154.49zM146.46 94.23H150.48V98.25H146.46z"/>
<path fill="#4d5ee4" d="M178.58 258.86H182.60V262.87H178.58zM174.57 254.84H186.62V258.86H174.57zM174.57 250.83H186.62V254.84H174.57zM174.57 246.81H190.63V250.83H174.57zM178.58 242.80H186.62V246.81H178.58zM250.86 242.80H254.87V246.81H250.86zM266.92 242.80H270.93V246.81H266.92zM246.84 238.78H250.86V242.80H246.84zM274.95 238.78H278.96V242.80H274.95zM242.83 234.77H246.84V238.78H242.83zM278.96 234.77H282.98V238.78H278.96zM242.83 230.75H246.84V234.77H242.83zM242.83 226.73H246.84V230.75H242.83zM246.84 218.70H250.86V222.72H246.84zM254.87 206.66H258.89V210.67H254.87zM258.89 202.64H262.90V206.66H258.89zM278.96 202.64H282.98V206.66H278.96zM262.90 198.63H282.98V202.64H262.90zM118.36 182.57H130.40V186.58H118.36zM126.39 178.55H138.43V182.57H126.39zM134.42 174.54H142.45V178.55H134.42zM190.63 174.54H198.66V178.55H190.63zM138.43 170.52H146.46V174.54H138.43zM186.62 170.52H190.63V174.54H186.62zM194.65 170.52H202.68V174.54H194.65zM142.45 166.51H146.46V170.52H142.45zM186.62 166.51H198.66V170.52H186.62zM142.45 162.49H146.46V166.51H142.45zM142.45 158.48H146.46V162.49H142.45zM146.46 150.45H150.48V154.46H146.46zM146.46 146.43H150.48V150.45H146.46zM150.48 138.40H154.49V142.42H150.48zM150.48 134.39H154.49V138.40H150.48zM154.49 126.36H158.51V130.37H154.49zM158.51 118.33H162.52V122.34H158.51zM206.69 118.33H218.74V122.34H206.69zM158.51 114.31H162.52V118.33H158.51zM202.68 114.31H222.75V118.33H202.68zM158.51 110.30H162.52V114.31H158.51zM198.66 110.30H222.75V114.31H198.66zM158.51 106.28H162.52V110.30H158.51zM198.66 106.28H222.75V110.30H198.66zM198.66 102.27H218.74V106.28H198.66zM154.49 98.25H158.51V102.27H154.49zM198.66 98.25H218.74V102.27H198.66zM150.48 94.23H154.49V98.25H150.48zM198.66 94.23H218.74V98.25H198.66zM142.45 90.22H146.46V94.23H142.45zM202.68 90.22H218.74V94.23H202.68zM206.69 86.20H218.74V90.22H206.69zM210.71 82.19H218.74V86.20H210.71z"/>
<path fill="#4e64e3" d="M178.58 274.92H182.60V278.93H178.58zM174.57 270.90H186.62V274.92H174.57zM166.54 266.89H186.62V270.90H166.54zM162.52 262.87H190.63V266.89H162.52zM158.51 258.86H178.58V262.87H158.51zM182.60 258.86H194.65V262.87H182.60zM154.49 254.84H174.57V258.86H154.49zM186.62 254.84H194.65V258.86H186.62zM158.51 250.83H174.57V254.84H158.51zM186.62 250.83H198.66V254.84H186.62zM158.51 246.81H174.57V250.83H158.51zM190.63 246.81H198.66V250.83H190.63zM162.52 242.80H178.58V246.81H162.52zM186.62 242.80H198.66V246.81H186.62zM246.84 242.80H250.86V246.81H246.84zM270.93 242.80H274.95V246.81H270.93zM166.54 238.78H198.66V242.80H166.54zM242.83 238.78H246.84V242.80H242.83zM170.55 234.77H198.66V238.78H170.55zM238.81 234.77H242.83V238.78H238.81zM174.57 230.75H194.65V234.77H174.57zM238.81 230.75H242.83V234.77H238.81zM238.81 226.73H242.83V230.75H238.81zM242.83 222.72H246.84V226.73H242.83zM282.98 222.72H286.99V226.73H282.98zM282.98 218.70H286.99V222.72H282.98zM246.84 214.69H250.86V218.70H246.84zM282.98 214.69H286.99V218.70H282.98zM250.86 210.67H254.87V214.69H250.86zM282.98 210.67H286.99V214.69H282.98zM250.86 206.66H254.87V210.67H250.86zM282.98 206.66H286.99V210.67H282.98zM254.87 202.64H258.89V206.66H254.87zM282.98 202.64H286.99V206.66H282.98zM258.89 198.63H262.90V202.64H258.89zM282.98 198.63H291.01V202.64H282.98zM258.89 194.61H291.01V198.63H258.89zM262.90 190.60H291.01V194.61H262.90zM118.36 186.58H138.43V190.60H118.36zM266.92 186.58H295.02V190.60H266.92zM130.40 182.57H146.46V186.58H130.40zM270.93 182.57H295.02V186.58H270.93zM138.43 178.55H150.48V182.57H138.43zM186.62 178.55H198.66V182.57H186.62zM278.96 178.55H291.01V182.57H278.96zM142.45 174.54H154.49V178.55H142.45zM178.58 174.54H190.63V178.55H178.58zM198.66 174.54H206.69V178.55H198.66zM146.46 170.52H154.49V174.54H146.46zM178.58 170.52H186.62V174.54H178.58zM202.68 170.52H206.69V174.54H202.68zM146.46 166.51H154.49V170.52H146.46zM178.58 166.51H186.62V170.52H178.58zM198.66 166.51H206.69V170.52H198.66zM146.46 162.49H154.49V166.51H146.46zM178.58 162.49H202.68V166.51H178.58zM146.46 158.48H154.49V162.49H146.46zM146.46 154.46H154.49V158.48H146.46zM150.48 150.45H154.49V154.46H150.48zM150.48 146.43H154.49V150.45H150.48zM150.48 142.42H158.51V146.43H150.48zM154.49 138.40H158.51V142.42H154.49zM154.49 134.39H158.51V138.40H154.49zM154.49 130.37H158.51V134.39H154.49zM158.51 126.36H162.52V130.37H158.51zM158.51 122.34H162.52V126.36H158.51zM194.65 122.34H214.72V126.36H194.65zM162.52 118.33H166.54V122.34H162.52zM190.63 118.33H206.69V122.34H190.63zM218.74 118.33H226.77V122.34H218.74zM162.52 114.31H166.54V118.33H162.52zM190.63 114.31H202.68V118.33H190.63zM222.75 114.31H230.78V118.33H222.75zM162.52 110.30H166.54V114.31H162.52zM190.63 110.30H198.66V114.31H190.63zM222.75 110.30H230.78V114.31H222.75zM162.52 106.28H166.54V110.30H162.52zM190.63 106.28H198.66V110.30H190.63zM222.75 106.28H230.78V110.30H222.75zM158.51 102.27H162.52V106.28H158.51zM194.65 102.27H198.66V106.28H194.65zM218.74 102.27H226.77V106.28H218.74zM194.65 98.25H198.66V102.27H194.65zM218.74 98.25H226.77V102.27H218.74zM194.65 94.23H198.66V98.25H194.65zM218.74 94.23H226.77V98.25H218.74zM146.46 90.22H150.48V94.23H146.46zM198.66 90.22H202.68V94.23H198.66zM218.74 90.22H226.77V94.23H218.74zM198.66 86.20H206.69V90.22H198.66zM218.74 86.20H222.75V90.22H218.74zM198.66 82.19H210.71V86.20H198.66zM218.74 82.19H226.77V86.20H218.74zM198.66 78.17H226.77V82.19H198.66zM202.68 74.16H226.77V78.17H202.68zM202.68 70.14H226.77V74.16H202.68zM202.68 66.13H230.78V70.14H202.68zM206.69 62.11H230.78V66.13H206.69zM206.69 58.10H234.80V62.11H206.69zM206.69 54.08H234.80V58.10H206.69zM210.71 50.07H238.81V54.08H210.71zM210.71 46.05H238.81V50.07H210.71zM210.71 42.04H242.83V46.05H210.71zM210.71 38.02H242.83V42.04H210.71zM214.72 34.01H242.83V38.02H214.72z"/>
<path fill="#4f69e1" d="M182.60 274.92H186.62V278.93H182.60zM186.62 266.89H190.63V270.90H186.62zM190.63 262.87H194.65V266.89H190.63zM194.65 254.84H198.66V258.86H194.65zM154.49 250.83H158.51V254.84H154.49zM154.49 246.81H158.51V250.83H154.49zM198.66 246.81H202.68V250.83H198.66zM258.89 246.81H266.92V250.83H258.89zM158.51 242.80H162.52V246.81H158.51zM198.66 242.80H202.68V246.81H198.66zM274.95 242.80H278.96V246.81H274.95zM162.52 238.78H166.54V242.80H162.52zM198.66 238.78H202.68V242.80H198.66zM238.81 238.78H242.83V242.80H238.81zM278.96 238.78H282.98V242.80H278.96zM166.54 234.77H170.55V238.78H166.54zM198.66 234.77H202.68V238.78H198.66zM234.80 234.77H238.81V238.78H234.80zM170.55 230.75H174.57V234.77H170.55zM194.65 230.75H202.68V234.77H194.65zM234.80 230.75H238.81V234.77H234.80zM178.58 226.73H198.66V230.75H178.58zM234.80 226.73H238.81V230.75H234.80zM282.98 226.73H286.99V230.75H282.98zM238.81 222.72H242.83V226.73H238.81zM242.83 218.70H246.84V222.72H242.83zM246.84 210.67H250.86V214.69H246.84zM250.86 202.64H254.87V206.66H250.86zM286.99 202.64H291.01V206.66H286.99zM254.87 198.63H258.89V202.64H254.87zM254.87 194.61H258.89V198.63H254.87zM291.01 194.61H295.02V198.63H291.01zM118.36 190.60H130.40V194.61H118.36zM258.89 190.60H262.90V194.61H258.89zM291.01 190.60H295.02V194.61H291.01zM138.43 186.58H146.46V190.60H138.43zM262.90 186.58H266.92V190.60H262.90zM146.46 182.57H154.49V186.58H146.46zM262.90 182.57H270.93V186.58H262.90zM150.48 178.55H158.51V182.57H150.48zM178.58 178.55H186.62V182.57H178.58zM198.66 178.55H206.69V182.57H198.66zM266.92 178.55H278.96V182.57H266.92zM291.01 178.55H295.02V182.57H291.01zM154.49 174.54H162.52V178.55H154.49zM170.55 174.54H178.58V178.55H170.55zM274.95 174.54H291.01V178.55H274.95zM154.49 170.52H178.58V174.54H154.49zM206.69 170.52H210.71V174.54H206.69zM154.49 166.51H178.58V170.52H154.49zM154.49 162.49H178.58V166.51H154.49zM202.68 162.49H206.69V166.51H202.68zM154.49 158.48H166.54V162.49H154.49zM174.57 158.48H202.68V162.49H174.57zM154.49 154.46H162.52V158.48H154.49zM186.62 154.46H190.63V158.48H186.62zM154.49 150.45H162.52V154.46H154.49zM154.49 146.43H162.52V150.45H154.49zM158.51 142.42H162.52V146.43H158.51zM158.51 138.40H162.52V142.42H158.51zM158.51 134.39H162.52V138.40H158.51zM158.51 130.37H162.52V134.39H158.51zM186.62 126.36H202.68V130.37H186.62zM162.52 122.34H166.54V126.36H162.52zM182.60 122.34H194.65V126.36H182.60zM214.72 122.34H226.77V126.36H214.72zM166.54 118.33H170.55V122.34H166.54zM178.58 118.33H190.63V122.34H178.58zM226.77 118.33H230.78V122.34H226.77zM166.54 114.31H174.57V118.33H166.54zM178.58 114.31H190.63V118.33H178.58zM166.54 110.30H174.57V114.31H166.54zM182.60 110.30H190.63V114.31H182.60zM166.54 106.28H170.55V110.30H166.54zM186.62 106.28H190.63V110.30H186.62zM162.52 102.27H166.54V106.28H162.52zM190.63 102.27H194.65V106.28H190.63zM226.77 102.27H230.78V106.28H226.77zM158.51 98.25H162.52V102.27H158.51zM190.63 98.25H194.65V102.27H190.63zM226.77 98.25H230.78V102.27H226.77zM154.49 94.23H158.51V98.25H154.49zM150.48 90.22H154.49V94.23H150.48zM194.65 90.22H198.66V94.23H194.65zM142.45 86.20H146.46V90.22H142.45zM194.65 86.20H198.66V90.22H194.65zM222.75 86.20H226.77V90.22H222.75zM198.66 74.16H202.68V78.17H198.66zM226.77 74.16H230.78V78.17H226.77zM198.66 70.14H202.68V74.16H198.66zM226.77 70.14H230.78V74.16H226.77zM230.78 66.13H234.80V70.14H230.78zM202.68 62.11H206.69V66.13H202.68zM230.78 62.11H234.80V66.13H230.78zM202.68 58.10H206.69V62.11H202.68zM234.80 58.10H238.81V62.11H234.80zM234.80 54.08H238.81V58.10H234.80zM206.69 50.07H210.71V54.08H206.69zM238.81 50.07H242.83V54.08H238.81zM206.69 46.05H210.71V50.07H206.69zM238.81 46.05H242.83V50.07H238.81zM206.69 42.04H210.71V46.05H206.69zM206.69 38.02H210.71V42.04H206.69zM242.83 38.02H246.84V42.04H242.83zM242.83 34.01H246.84V38.02H242.83z"/>
<path fill="#5070df" d="M186.62 270.90H190.63V274.92H186.62zM190.63 266.89H194.65V270.90H190.63zM194.65 258.86H198.66V262.87H194.65zM150.48 250.83H154.49V254.84H150.48zM198.66 250.83H202.68V254.84H198.66zM250.86 246.81H258.89V250.83H250.86zM266.92 246.81H270.93V250.83H266.92zM154.49 242.80H158.51V246.81H154.49zM202.68 242.80H206.69V246.81H202.68zM242.83 242.80H246.84V246.81H242.83zM158.51 238.78H162.52V242.80H158.51zM202.68 238.78H206.69V242.80H202.68zM162.52 234.77H166.54V238.78H162.52zM202.68 234.77H206.69V238.78H202.68zM230.78 234.77H234.80V238.78H230.78zM166.54 230.75H170.55V234.77H166.54zM202.68 230.75H206.69V234.77H202.68zM230.78 230.75H234.80V234.77H230.78zM282.98 230.75H286.99V234.77H282.98zM174.57 226.73H178.58V230.75H174.57zM198.66 226.73H202.68V230.75H198.66zM230.78 226.73H234.80V230.75H230.78zM186.62 222.72H194.65V226.73H186.62zM234.80 222.72H238.81V226.73H234.80zM238.81 218.70H242.83V222.72H238.81zM242.83 214.69H246.84V218.70H242.83zM246.84 206.66H250.86V210.67H246.84zM250.86 198.63H254.87V202.64H250.86zM118.36 194.61H122.37V198.63H118.36zM130.40 190.60H142.45V194.61H130.40zM254.87 190.60H258.89V194.61H254.87zM146.46 186.58H154.49V190.60H146.46zM258.89 186.58H262.90V190.60H258.89zM154.49 182.57H158.51V186.58H154.49zM178.58 182.57H206.69V186.58H178.58zM258.89 182.57H262.90V186.58H258.89zM295.02 182.57H299.04V186.58H295.02zM158.51 178.55H178.58V182.57H158.51zM206.69 178.55H210.71V182.57H206.69zM262.90 178.55H266.92V182.57H262.90zM162.52 174.54H170.55V178.55H162.52zM206.69 174.54H210.71V178.55H206.69zM262.90 174.54H274.95V178.55H262.90zM291.01 174.54H295.02V178.55H291.01zM270.93 170.52H286.99V174.54H270.93zM206.69 166.51H210.71V170.52H206.69zM206.69 162.49H210.71V166.51H206.69zM166.54 158.48H174.57V162.49H166.54zM202.68 158.48H206.69V162.49H202.68zM162.52 154.46H186.62V158.48H162.52zM190.63 154.46H202.68V158.48H190.63zM162.52 150.45H194.65V154.46H162.52zM162.52 146.43H170.55V150.45H162.52zM178.58 146.43H186.62V150.45H178.58zM162.52 142.42H174.57V146.43H162.52zM162.52 138.40H178.58V142.42H162.52zM162.52 134.39H190.63V138.40H162.52zM162.52 130.37H198.66V134.39H162.52zM162.52 126.36H186.62V130.37H162.52zM202.68 126.36H214.72V130.37H202.68zM166.54 122.34H182.60V126.36H166.54zM226.77 122.34H230.78V126.36H226.77zM170.55 118.33H178.58V122.34H170.55zM230.78 118.33H234.80V122.34H230.78zM174.57 114.31H178.58V118.33H174.57zM230.78 114.31H234.80V118.33H230.78zM174.57 110.30H182.60V114.31H174.57zM230.78 110.30H234.80V114.31H230.78zM170.55 106.28H186.62V110.30H170.55zM230.78 106.28H234.80V110.30H230.78zM186.62 102.27H190.63V106.28H186.62zM230.78 102.27H234.80V106.28H230.78zM190.63 94.23H194.65V98.25H190.63zM226.77 94.23H230.78V98.25H226.77zM226.77 90.22H230.78V94.23H226.77zM146.46 86.20H150.48V90.22H146.46zM226.77 86.20H230.78V90.22H226.77zM142.45 82.19H146.46V86.20H142.45zM194.65 82.19H198.66V86.20H194.65zM226.77 82.19H230.78V86.20H226.77zM194.65 78.17H198.66V82.19H194.65zM226.77 78.17H230.78V82.19H226.77zM230.78 70.14H234.80V74.16H230.78zM198.66 66.13H202.68V70.14H198.66zM234.80 62.11H238.81V66.13H234.80zM202.68 54.08H206.69V58.10H202.68zM238.81 54.08H242.83V58.10H238.81zM202.68 50.07H206.69V54.08H202.68zM202.68 46.05H206.69V50.07H202.68zM242.83 46.05H246.84V50.07H242.83zM202.68 42.04H206.69V46.05H202.68zM242.83 42.04H246.84V46.05H242.83zM202.68 38.02H206.69V42.04H202.68z"/>
<path fill="#5177dc" d="M186.62 278.93H190.63V282.95H186.62zM186.62 274.92H190.63V278.93H186.62zM194.65 262.87H198.66V266.89H194.65zM198.66 254.84H202.68V258.86H198.66zM150.48 246.81H154.49V250.83H150.48zM202.68 246.81H206.69V250.83H202.68zM246.84 246.81H250.86V250.83H246.84zM270.93 246.81H274.95V250.83H270.93zM238.81 242.80H242.83V246.81H238.81zM278.96 242.80H282.98V246.81H278.96zM154.49 238.78H158.51V242.80H154.49zM206.69 238.78H210.71V242.80H206.69zM234.80 238.78H238.81V242.80H234.80zM158.51 234.77H162.52V238.78H158.51zM206.69 234.77H214.72V238.78H206.69zM222.75 234.77H230.78V238.78H222.75zM282.98 234.77H286.99V238.78H282.98zM162.52 230.75H166.54V234.77H162.52zM206.69 230.75H214.72V234.77H206.69zM222.75 230.75H230.78V234.77H222.75zM170.55 226.73H174.57V230.75H170.55zM202.68 226.73H210.71V230.75H202.68zM222.75 226.73H230.78V230.75H222.75zM178.58 222.72H186.62V226.73H178.58zM194.65 222.72H206.69V226.73H194.65zM230.78 222.72H234.80V226.73H230.78zM234.80 218.70H238.81V222.72H234.80zM238.81 214.69H242.83V218.70H238.81zM242.83 210.67H246.84V214.69H242.83zM286.99 206.66H291.01V210.67H286.99zM246.84 202.64H250.86V206.66H246.84zM291.01 198.63H295.02V202.64H291.01zM122.37 194.61H138.43V198.63H122.37zM250.86 194.61H254.87V198.63H250.86zM142.45 190.60H150.48V194.61H142.45zM295.02 190.60H299.04V194.61H295.02zM154.49 186.58H162.52V190.60H154.49zM174.57 186.58H206.69V190.60H174.57zM254.87 186.58H258.89V190.60H254.87zM295.02 186.58H299.04V190.60H295.02zM158.51 182.57H178.58V186.58H158.51zM206.69 182.57H210.71V186.58H206.69zM254.87 182.57H258.89V186.58H254.87zM210.71 178.55H214.72V182.57H210.71zM254.87 178.55H262.90V182.57H254.87zM295.02 178.55H299.04V182.57H295.02zM210.71 174.54H214.72V178.55H210.71zM258.89 174.54H262.90V178.55H258.89zM295.02 174.54H299.04V178.55H295.02zM210.71 170.52H218.74V174.54H210.71zM258.89 170.52H270.93V174.54H258.89zM286.99 170.52H295.02V174.54H286.99zM210.71 166.51H218.74V170.52H210.71zM262.90 166.51H286.99V170.52H262.90zM210.71 162.49H214.72V166.51H210.71zM206.69 158.48H210.71V162.49H206.69zM202.68 154.46H210.71V158.48H202.68zM194.65 150.45H202.68V154.46H194.65zM170.55 146.43H178.58V150.45H170.55zM186.62 146.43H198.66V150.45H186.62zM174.57 142.42H194.65V146.43H174.57zM178.58 138.40H194.65V142.42H178.58zM190.63 134.39H198.66V138.40H190.63zM198.66 130.37H206.69V134.39H198.66zM214.72 126.36H222.75V130.37H214.72zM234.80 114.31H238.81V118.33H234.80zM234.80 110.30H238.81V114.31H234.80zM166.54 102.27H174.57V106.28H166.54zM182.60 102.27H186.62V106.28H182.60zM162.52 98.25H166.54V102.27H162.52zM186.62 98.25H190.63V102.27H186.62zM230.78 98.25H234.80V102.27H230.78zM158.51 94.23H162.52V98.25H158.51zM230.78 94.23H234.80V98.25H230.78zM154.49 90.22H158.51V94.23H154.49zM190.63 90.22H194.65V94.23H190.63zM150.48 86.20H154.49V90.22H150.48zM230.78 78.17H234.80V82.19H230.78zM194.65 74.16H198.66V78.17H194.65zM230.78 74.16H234.80V78.17H230.78zM234.80 66.13H238.81V70.14H234.80zM198.66 62.11H202.68V66.13H198.66zM198.66 58.10H202.68V62.11H198.66zM238.81 58.10H242.83V62.11H238.81zM198.66 54.08H202.68V58.10H198.66zM198.66 50.07H202.68V54.08H198.66zM242.83 50.07H246.84V54.08H242.83zM198.66 46.05H202.68V50.07H198.66zM198.66 42.04H202.68V46.05H198.66zM246.84 38.02H250.86V42.04H246.84zM246.84 34.01H250.86V38.02H246.84z"/>
<path fill="#537dda" d="M190.63 274.92H194.65V278.93H190.63zM190.63 270.90H194.65V274.92H190.63zM194.65 266.89H198.66V270.90H194.65zM198.66 258.86H202.68V262.87H198.66zM202.68 254.84H206.69V258.86H202.68zM202.68 250.83H206.69V254.84H202.68zM254.87 250.83H266.92V254.84H254.87zM146.46 246.81H150.48V250.83H146.46zM206.69 246.81H210.71V250.83H206.69zM242.83 246.81H246.84V250.83H242.83zM274.95 246.81H278.96V250.83H274.95zM146.46 242.80H154.49V246.81H146.46zM206.69 242.80H214.72V246.81H206.69zM150.48 238.78H154.49V242.80H150.48zM210.71 238.78H234.80V242.80H210.71zM154.49 234.77H158.51V238.78H154.49zM214.72 234.77H222.75V238.78H214.72zM158.51 230.75H162.52V234.77H158.51zM214.72 230.75H222.75V234.77H214.72zM162.52 226.73H170.55V230.75H162.52zM210.71 226.73H222.75V230.75H210.71zM170.55 222.72H178.58V226.73H170.55zM206.69 222.72H230.78V226.73H206.69zM178.58 218.70H214.72V222.72H178.58zM222.75 218.70H234.80V222.72H222.75zM190.63 214.69H206.69V218.70H190.63zM234.80 214.69H238.81V218.70H234.80zM238.81 210.67H242.83V214.69H238.81zM286.99 210.67H291.01V214.69H286.99zM242.83 206.66H246.84V210.67H242.83zM122.37 198.63H138.43V202.64H122.37zM246.84 198.63H250.86V202.64H246.84zM138.43 194.61H150.48V198.63H138.43zM194.65 194.61H202.68V198.63H194.65zM295.02 194.61H299.04V198.63H295.02zM150.48 190.60H210.71V194.61H150.48zM250.86 190.60H254.87V194.61H250.86zM162.52 186.58H174.57V190.60H162.52zM206.69 186.58H214.72V190.60H206.69zM250.86 186.58H254.87V190.60H250.86zM210.71 182.57H218.74V186.58H210.71zM250.86 182.57H254.87V186.58H250.86zM299.04 182.57H303.05V186.58H299.04zM214.72 178.55H218.74V182.57H214.72zM250.86 178.55H254.87V182.57H250.86zM299.04 178.55H303.05V182.57H299.04zM214.72 174.54H222.75V178.55H214.72zM250.86 174.54H258.89V178.55H250.86zM218.74 170.52H222.75V174.54H218.74zM250.86 170.52H258.89V174.54H250.86zM295.02 170.52H299.04V174.54H295.02zM218.74 166.51H222.75V170.52H218.74zM250.86 166.51H262.90V170.52H250.86zM286.99 166.51H295.02V170.52H286.99zM214.72 162.49H222.75V166.51H214.72zM246.84 162.49H291.01V166.51H246.84zM210.71 158.48H214.72V162.49H210.71zM246.84 158.48H282.98V162.49H246.84zM210.71 154.46H214.72V158.48H210.71zM250.86 154.46H274.95V158.48H250.86zM202.68 150.45H210.71V154.46H202.68zM250.86 150.45H262.90V154.46H250.86zM198.66 146.43H202.68V150.45H198.66zM250.86 146.43H258.89V150.45H250.86zM194.65 142.42H202.68V146.43H194.65zM194.65 138.40H202.68V142.42H194.65zM198.66 134.39H206.69V138.40H198.66zM206.69 130.37H214.72V134.39H206.69zM222.75 126.36H230.78V130.37H222.75zM230.78 122.34H234.80V126.36H230.78zM234.80 118.33H238.81V122.34H234.80zM238.81 114.31H242.83V118.33H238.81zM238.81 110.30H242.83V114.31H238.81zM234.80 106.28H238.81V110.30H234.80zM174.57 102.27H182.60V106.28H174.57zM234.80 102.27H238.81V106.28H234.80zM166.54 98.25H170.55V102.27H166.54zM234.80 98.25H238.81V102.27H234.80zM162.52 94.23H166.54V98.25H162.52zM186.62 94.23H190.63V98.25H186.62zM230.78 90.22H234.80V94.23H230.78zM190.63 86.20H194.65V90.22H190.63zM230.78 86.20H234.80V90.22H230.78zM146.46 82.19H150.48V86.20H146.46zM190.63 82.19H194.65V86.20H190.63zM230.78 82.19H234.80V86.20H230.78zM234.80 74.16H238.81V78.17H234.80zM194.65 70.14H198.66V74.16H194.65zM234.80 70.14H238.81V74.16H234.80zM194.65 66.13H198.66V70.14H194.65zM238.81 66.13H242.83V70.14H238.81zM194.65 62.11H198.66V66.13H194.65zM238.81 62.11H242.83V66.13H238.81zM242.83 58.10H246.84V62.11H242.83zM242.83 54.08H246.84V58.10H242.83zM246.84 50.07H250.86V54.08H246.84zM246.84 46.05H250.86V50.07H246.84zM246.84 42.04H250.86V46.05H246.84z"/>
<path fill="#5484d7" d="M190.63 278.93H194.65V282.95H190.63zM194.65 270.90H198.66V274.92H194.65zM198.66 262.87H202.68V266.89H198.66zM202.68 258.86H206.69V262.87H202.68zM206.69 250.83H210.71V254.84H206.69zM250.86 250.83H254.87V254.84H250.86zM266.92 250.83H270.93V254.84H266.92zM210.71 246.81H214.72V250.83H210.71zM142.45 242.80H146.46V246.81H142.45zM214.72 242.80H226.77V246.81H214.72zM234.80 242.80H238.81V246.81H234.80zM142.45 238.78H150.48V242.80H142.45zM282.98 238.78H286.99V242.80H282.98zM142.45 234.77H154.49V238.78H142.45zM146.46 230.75H158.51V234.77H146.46zM150.48 226.73H162.52V230.75H150.48zM154.49 222.72H170.55V226.73H154.49zM154.49 218.70H178.58V222.72H154.49zM214.72 218.70H222.75V222.72H214.72zM154.49 214.69H190.63V218.70H154.49zM206.69 214.69H234.80V218.70H206.69zM286.99 214.69H291.01V218.70H286.99zM154.49 210.67H210.71V214.69H154.49zM234.80 210.67H238.81V214.69H234.80zM150.48 206.66H210.71V210.67H150.48zM238.81 206.66H242.83V210.67H238.81zM122.37 202.64H210.71V206.66H122.37zM242.83 202.64H246.84V206.66H242.83zM291.01 202.64H295.02V206.66H291.01zM138.43 198.63H210.71V202.64H138.43zM242.83 198.63H246.84V202.64H242.83zM150.48 194.61H194.65V198.63H150.48zM202.68 194.61H214.72V198.63H202.68zM246.84 194.61H250.86V198.63H246.84zM210.71 190.60H214.72V194.61H210.71zM246.84 190.60H250.86V194.61H246.84zM214.72 186.58H218.74V190.60H214.72zM246.84 186.58H250.86V190.60H246.84zM299.04 186.58H303.05V190.60H299.04zM218.74 182.57H222.75V186.58H218.74zM246.84 182.57H250.86V186.58H246.84zM218.74 178.55H222.75V182.57H218.74zM246.84 178.55H250.86V182.57H246.84zM222.75 174.54H226.77V178.55H222.75zM242.83 174.54H250.86V178.55H242.83zM299.04 174.54H303.05V178.55H299.04zM222.75 170.52H226.77V174.54H222.75zM242.83 170.52H250.86V174.54H242.83zM299.04 170.52H303.05V174.54H299.04zM222.75 166.51H230.78V170.52H222.75zM234.80 166.51H250.86V170.52H234.80zM295.02 166.51H299.04V170.52H295.02zM222.75 162.49H246.84V166.51H222.75zM291.01 162.49H295.02V166.51H291.01zM214.72 158.48H246.84V162.49H214.72zM282.98 158.48H286.99V162.49H282.98zM214.72 154.46H218.74V158.48H214.72zM230.78 154.46H250.86V158.48H230.78zM274.95 154.46H282.98V158.48H274.95zM234.80 150.45H250.86V154.46H234.80zM262.90 150.45H274.95V154.46H262.90zM202.68 146.43H210.71V150.45H202.68zM234.80 146.43H250.86V150.45H234.80zM258.89 146.43H270.93V150.45H258.89zM202.68 142.42H210.71V146.43H202.68zM234.80 142.42H262.90V146.43H234.80zM202.68 138.40H210.71V142.42H202.68zM234.80 138.40H250.86V142.42H234.80zM206.69 134.39H218.74V138.40H206.69zM230.78 134.39H242.83V138.40H230.78zM214.72 130.37H242.83V134.39H214.72zM230.78 126.36H242.83V130.37H230.78zM234.80 122.34H242.83V126.36H234.80zM238.81 118.33H242.83V122.34H238.81zM242.83 114.31H246.84V118.33H242.83zM242.83 110.30H246.84V114.31H242.83zM238.81 106.28H242.83V110.30H238.81zM238.81 102.27H242.83V106.28H238.81zM170.55 98.25H186.62V102.27H170.55zM238.81 98.25H242.83V102.27H238.81zM166.54 94.23H170.55V98.25H166.54zM182.60 94.23H186.62V98.25H182.60zM234.80 94.23H242.83V98.25H234.80zM158.51 90.22H162.52V94.23H158.51zM186.62 90.22H190.63V94.23H186.62zM234.80 90.22H238.81V94.23H234.80zM154.49 86.20H158.51V90.22H154.49zM186.62 86.20H190.63V90.22H186.62zM234.80 86.20H238.81V90.22H234.80zM150.48 82.19H154.49V86.20H150.48zM234.80 82.19H238.81V86.20H234.80zM146.46 78.17H150.48V82.19H146.46zM190.63 78.17H194.65V82.19H190.63zM234.80 78.17H242.83V82.19H234.80zM190.63 74.16H194.65V78.17H190.63zM238.81 74.16H242.83V78.17H238.81zM238.81 70.14H242.83V74.16H238.81zM242.83 66.13H246.84V70.14H242.83zM242.83 62.11H246.84V66.13H242.83zM194.65 58.10H198.66V62.11H194.65zM194.65 54.08H198.66V58.10H194.65zM246.84 54.08H250.86V58.10H246.84zM194.65 50.07H198.66V54.08H194.65zM194.65 46.05H198.66V50.07H194.65zM194.65 42.04H198.66V46.05H194.65zM250.86 42.04H254.87V46.05H250.86zM250.86 38.02H254.87V42.04H250.86zM250.86 34.01H254.87V38.02H250.86z"/>
<path fill="#558ad3" d="M194.65 274.92H198.66V278.93H194.65zM198.66 266.89H202.68V270.90H198.66zM202.68 262.87H206.69V266.89H202.68zM206.69 254.84H210.71V258.86H206.69zM210.71 250.83H214.72V254.84H210.71zM246.84 250.83H250.86V254.84H246.84zM270.93 250.83H274.95V254.84H270.93zM214.72 246.81H218.74V250.83H214.72zM238.81 246.81H242.83V250.83H238.81zM278.96 246.81H282.98V250.83H278.96zM226.77 242.80H234.80V246.81H226.77zM138.43 234.77H142.45V238.78H138.43zM138.43 230.75H146.46V234.77H138.43zM142.45 226.73H150.48V230.75H142.45zM146.46 222.72H154.49V226.73H146.46zM286.99 222.72H291.01V226.73H286.99zM146.46 218.70H154.49V222.72H146.46zM286.99 218.70H291.01V222.72H286.99zM146.46 214.69H154.49V218.70H146.46zM142.45 210.67H154.49V214.69H142.45zM210.71 210.67H218.74V214.69H210.71zM226.77 210.67H234.80V214.69H226.77zM122.37 206.66H150.48V210.67H122.37zM234.80 206.66H238.81V210.67H234.80zM238.81 202.64H242.83V206.66H238.81zM210.71 198.63H214.72V202.64H210.71zM238.81 198.63H242.83V202.64H238.81zM242.83 194.61H246.84V198.63H242.83zM214.72 190.60H218.74V194.61H214.72zM242.83 190.60H246.84V194.61H242.83zM299.04 190.60H303.05V194.61H299.04zM218.74 186.58H222.75V190.60H218.74zM242.83 186.58H246.84V190.60H242.83zM242.83 182.57H246.84V186.58H242.83zM222.75 178.55H226.77V182.57H222.75zM242.83 178.55H246.84V182.57H242.83zM238.81 174.54H242.83V178.55H238.81zM226.77 170.52H230.78V174.54H226.77zM238.81 170.52H242.83V174.54H238.81zM230.78 166.51H234.80V170.52H230.78zM299.04 166.51H303.05V170.52H299.04zM295.02 162.49H299.04V166.51H295.02zM286.99 158.48H291.01V162.49H286.99zM218.74 154.46H230.78V158.48H218.74zM210.71 150.45H214.72V154.46H210.71zM226.77 150.45H234.80V154.46H226.77zM274.95 150.45H278.96V154.46H274.95zM226.77 146.43H234.80V150.45H226.77zM226.77 142.42H234.80V146.43H226.77zM262.90 142.42H266.92V146.43H262.90zM210.71 138.40H218.74V142.42H210.71zM222.75 138.40H234.80V142.42H222.75zM250.86 138.40H258.89V142.42H250.86zM218.74 134.39H230.78V138.40H218.74zM242.83 134.39H250.86V138.40H242.83zM242.83 130.37H246.84V134.39H242.83zM242.83 126.36H246.84V130.37H242.83zM242.83 122.34H246.84V126.36H242.83zM242.83 118.33H246.84V122.34H242.83zM242.83 106.28H246.84V110.30H242.83zM242.83 102.27H246.84V106.28H242.83zM242.83 98.25H246.84V102.27H242.83zM170.55 94.23H174.57V98.25H170.55zM178.58 94.23H182.60V98.25H178.58zM242.83 94.23H246.84V98.25H242.83zM162.52 90.22H166.54V94.23H162.52zM182.60 90.22H186.62V94.23H182.60zM238.81 90.22H242.83V94.23H238.81zM238.81 86.20H242.83V90.22H238.81zM186.62 82.19H190.63V86.20H186.62zM238.81 82.19H242.83V86.20H238.81zM242.83 78.17H246.84V82.19H242.83zM242.83 74.16H246.84V78.17H242.83zM190.63 70.14H194.65V74.16H190.63zM242.83 70.14H246.84V74.16H242.83zM190.63 66.13H194.65V70.14H190.63zM190.63 62.11H194.65V66.13H190.63zM246.84 62.11H250.86V66.13H246.84zM246.84 58.10H250.86V62.11H246.84zM250.86 50.07H254.87V54.08H250.86zM250.86 46.05H254.87V50.07H250.86z"/>
<path fill="#558fce" d="M194.65 278.93H198.66V282.95H194.65zM198.66 270.90H202.68V274.92H198.66zM206.69 258.86H210.71V262.87H206.69zM218.74 246.81H222.75V250.83H218.74zM282.98 242.80H286.99V246.81H282.98zM134.42 230.75H138.43V234.77H134.42zM134.42 226.73H142.45V230.75H134.42zM286.99 226.73H291.01V230.75H286.99zM138.43 222.72H146.46V226.73H138.43zM142.45 218.70H146.46V222.72H142.45zM142.45 214.69H146.46V218.70H142.45zM138.43 210.67H142.45V214.69H138.43zM218.74 210.67H226.77V214.69H218.74zM210.71 206.66H214.72V210.67H210.71zM226.77 206.66H234.80V210.67H226.77zM291.01 206.66H295.02V210.67H291.01zM210.71 202.64H214.72V206.66H210.71zM234.80 202.64H238.81V206.66H234.80zM234.80 198.63H238.81V202.64H234.80zM295.02 198.63H299.04V202.64H295.02zM214.72 194.61H218.74V198.63H214.72zM238.81 194.61H242.83V198.63H238.81zM218.74 190.60H222.75V194.61H218.74zM238.81 190.60H242.83V194.61H238.81zM222.75 182.57H226.77V186.58H222.75zM238.81 178.55H242.83V182.57H238.81zM303.05 178.55H307.07V182.57H303.05zM226.77 174.54H230.78V178.55H226.77zM303.05 174.54H307.07V178.55H303.05zM230.78 170.52H238.81V174.54H230.78zM291.01 158.48H295.02V162.49H291.01zM282.98 154.46H286.99V158.48H282.98zM222.75 150.45H226.77V154.46H222.75zM210.71 146.43H214.72V150.45H210.71zM222.75 146.43H226.77V150.45H222.75zM270.93 146.43H274.95V150.45H270.93zM210.71 142.42H214.72V146.43H210.71zM222.75 142.42H226.77V146.43H222.75zM218.74 138.40H222.75V142.42H218.74zM258.89 138.40H262.90V142.42H258.89zM250.86 134.39H254.87V138.40H250.86zM246.84 130.37H250.86V134.39H246.84zM174.57 94.23H178.58V98.25H174.57zM242.83 90.22H246.84V94.23H242.83zM158.51 86.20H162.52V90.22H158.51zM242.83 86.20H246.84V90.22H242.83zM154.49 82.19H158.51V86.20H154.49zM242.83 82.19H246.84V86.20H242.83zM150.48 78.17H154.49V82.19H150.48zM186.62 78.17H190.63V82.19H186.62zM246.84 66.13H250.86V70.14H246.84zM190.63 58.10H194.65V62.11H190.63zM190.63 54.08H194.65V58.10H190.63zM250.86 54.08H254.87V58.10H250.86zM190.63 50.07H194.65V54.08H190.63zM190.63 46.05H194.65V50.07H190.63zM254.87 34.01H258.89V38.02H254.87z"/>
<path fill="#5694c9" d="M194.65 282.95H198.66V286.96H194.65zM198.66 274.92H202.68V278.93H198.66zM202.68 266.89H206.69V270.90H202.68zM210.71 254.84H214.72V258.86H210.71zM250.86 254.84H262.90V258.86H250.86zM214.72 250.83H218.74V254.84H214.72zM242.83 250.83H246.84V254.84H242.83zM274.95 250.83H278.96V254.84H274.95zM234.80 246.81H238.81V250.83H234.80zM286.99 234.77H291.01V238.78H286.99zM286.99 230.75H291.01V234.77H286.99zM130.40 222.72H138.43V226.73H130.40zM134.42 218.70H142.45V222.72H134.42zM134.42 214.69H142.45V218.70H134.42zM126.39 210.67H138.43V214.69H126.39zM214.72 206.66H218.74V210.67H214.72zM222.75 206.66H226.77V210.67H222.75zM230.78 202.64H234.80V206.66H230.78zM214.72 198.63H218.74V202.64H214.72zM218.74 194.61H222.75V198.63H218.74zM234.80 194.61H238.81V198.63H234.80zM299.04 194.61H303.05V198.63H299.04zM222.75 186.58H226.77V190.60H222.75zM238.81 186.58H242.83V190.60H238.81zM238.81 182.57H242.83V186.58H238.81zM303.05 182.57H307.07V186.58H303.05zM226.77 178.55H230.78V182.57H226.77zM234.80 174.54H238.81V178.55H234.80zM303.05 170.52H307.07V174.54H303.05zM299.04 162.49H303.05V166.51H299.04zM214.72 150.45H222.75V154.46H214.72zM278.96 150.45H282.98V154.46H278.96zM218.74 146.43H222.75V150.45H218.74zM214.72 142.42H222.75V146.43H214.72zM266.92 142.42H270.93V146.43H266.92zM254.87 134.39H258.89V138.40H254.87zM246.84 126.36H250.86V130.37H246.84zM246.84 122.34H250.86V126.36H246.84zM246.84 118.33H250.86V122.34H246.84zM246.84 114.31H250.86V118.33H246.84zM246.84 110.30H250.86V114.31H246.84zM246.84 106.28H250.86V110.30H246.84zM246.84 102.27H250.86V106.28H246.84zM246.84 98.25H250.86V102.27H246.84zM246.84 94.23H250.86V98.25H246.84zM166.54 90.22H170.55V94.23H166.54zM178.58 90.22H182.60V94.23H178.58zM246.84 90.22H250.86V94.23H246.84zM182.60 86.20H186.62V90.22H182.60zM246.84 78.17H250.86V82.19H246.84zM186.62 74.16H190.63V78.17H186.62zM246.84 74.16H250.86V78.17H246.84zM186.62 70.14H190.63V74.16H186.62zM246.84 70.14H250.86V74.16H246.84zM250.86 58.10H254.87V62.11H250.86zM186.62 46.05H190.63V50.07H186.62zM254.87 42.04H258.89V46.05H254.87zM254.87 38.02H258.89V42.04H254.87z"/>
<path fill="#579ac4" d="M206.69 262.87H210.71V266.89H206.69zM246.84 254.84H250.86V258.86H246.84zM262.90 254.84H270.93V258.86H262.90zM222.75 246.81H234.80V250.83H222.75zM130.40 218.70H134.42V222.72H130.40zM126.39 214.69H134.42V218.70H126.39zM291.01 210.67H295.02V214.69H291.01zM218.74 206.66H222.75V210.67H218.74zM214.72 202.64H218.74V206.66H214.72zM222.75 202.64H230.78V206.66H222.75zM295.02 202.64H299.04V206.66H295.02zM218.74 198.63H222.75V202.64H218.74zM230.78 198.63H234.80V202.64H230.78zM222.75 190.60H226.77V194.61H222.75zM234.80 190.60H238.81V194.61H234.80zM234.80 186.58H238.81V190.60H234.80zM303.05 186.58H307.07V190.60H303.05zM226.77 182.57H230.78V186.58H226.77zM234.80 182.57H238.81V186.58H234.80zM234.80 178.55H238.81V182.57H234.80zM230.78 174.54H234.80V178.55H230.78zM303.05 166.51H307.07V170.52H303.05zM295.02 158.48H299.04V162.49H295.02zM286.99 154.46H291.01V158.48H286.99zM214.72 146.43H218.74V150.45H214.72zM262.90 138.40H266.92V142.42H262.90zM250.86 130.37H254.87V134.39H250.86zM250.86 126.36H254.87V130.37H250.86zM170.55 90.22H178.58V94.23H170.55zM162.52 86.20H166.54V90.22H162.52zM246.84 86.20H250.86V90.22H246.84zM182.60 82.19H186.62V86.20H182.60zM246.84 82.19H250.86V86.20H246.84zM186.62 66.13H190.63V70.14H186.62zM250.86 66.13H254.87V70.14H250.86zM186.62 62.11H190.63V66.13H186.62zM250.86 62.11H254.87V66.13H250.86zM186.62 58.10H190.63V62.11H186.62zM186.62 54.08H190.63V58.10H186.62zM186.62 50.07H190.63V54.08H186.62zM254.87 50.07H258.89V54.08H254.87zM254.87 46.05H258.89V50.07H254.87z"/>
<path fill="#589fc0" d="M198.66 278.93H202.68V282.95H198.66zM202.68 270.90H206.69V274.92H202.68zM210.71 258.86H214.72V262.87H210.71zM214.72 254.84H218.74V258.86H214.72zM218.74 250.83H222.75V254.84H218.74zM238.81 250.83H242.83V254.84H238.81zM282.98 246.81H286.99V250.83H282.98zM286.99 238.78H291.01V242.80H286.99zM291.01 214.69H295.02V218.70H291.01zM218.74 202.64H222.75V206.66H218.74zM222.75 198.63H230.78V202.64H222.75zM222.75 194.61H234.80V198.63H222.75zM230.78 190.60H234.80V194.61H230.78zM226.77 186.58H234.80V190.60H226.77zM230.78 182.57H234.80V186.58H230.78zM230.78 178.55H234.80V182.57H230.78zM303.05 162.49H307.07V166.51H303.05zM291.01 154.46H295.02V158.48H291.01zM282.98 150.45H286.99V154.46H282.98zM274.95 146.43H278.96V150.45H274.95zM258.89 134.39H262.90V138.40H258.89zM254.87 130.37H258.89V134.39H254.87zM250.86 122.34H254.87V126.36H250.86zM250.86 118.33H254.87V122.34H250.86zM250.86 114.31H254.87V118.33H250.86zM250.86 110.30H254.87V114.31H250.86zM250.86 106.28H254.87V110.30H250.86zM250.86 102.27H254.87V106.28H250.86zM250.86 98.25H254.87V102.27H250.86zM250.86 94.23H254.87V98.25H250.86zM250.86 90.22H254.87V94.23H250.86zM178.58 86.20H182.60V90.22H178.58zM250.86 86.20H254.87V90.22H250.86zM158.51 82.19H162.52V86.20H158.51zM250.86 82.19H254.87V86.20H250.86zM154.49 78.17H158.51V82.19H154.49zM182.60 78.17H186.62V82.19H182.60zM250.86 78.17H254.87V82.19H250.86zM150.48 74.16H154.49V78.17H150.48zM250.86 74.16H254.87V78.17H250.86zM250.86 70.14H254.87V74.16H250.86zM254.87 54.08H258.89V58.10H254.87zM258.89 34.01H262.90V38.02H258.89z"/>
<path fill="#58a3b8" d="M198.66 282.95H202.68V286.96H198.66zM202.68 274.92H206.69V278.93H202.68zM206.69 266.89H210.71V270.90H206.69zM250.86 258.86H254.87V262.87H250.86zM270.93 254.84H274.95V258.86H270.93zM278.96 250.83H282.98V254.84H278.96zM295.02 206.66H299.04V210.67H295.02zM299.04 198.63H303.05V202.64H299.04zM226.77 190.60H230.78V194.61H226.77zM303.05 190.60H307.07V194.61H303.05zM307.07 178.55H311.08V182.57H307.07zM307.07 174.54H311.08V178.55H307.07zM307.07 170.52H311.08V174.54H307.07zM299.04 158.48H303.05V162.49H299.04zM270.93 142.42H274.95V146.43H270.93zM266.92 138.40H270.93V142.42H266.92zM254.87 126.36H258.89V130.37H254.87zM331.16 110.30H343.21V114.31H331.16zM254.87 106.28H258.89V110.30H254.87zM327.15 106.28H343.21V110.30H327.15zM254.87 102.27H258.89V106.28H254.87zM327.15 102.27H343.21V106.28H327.15zM254.87 98.25H258.89V102.27H254.87zM331.16 98.25H339.19V102.27H331.16zM254.87 94.23H258.89V98.25H254.87zM254.87 90.22H258.89V94.23H254.87zM166.54 86.20H178.58V90.22H166.54zM254.87 86.20H258.89V90.22H254.87zM182.60 74.16H186.62V78.17H182.60zM182.60 70.14H186.62V74.16H182.60zM182.60 66.13H186.62V70.14H182.60zM254.87 66.13H258.89V70.14H254.87zM254.87 62.11H258.89V66.13H254.87zM254.87 58.10H258.89V62.11H254.87zM182.60 54.08H186.62V58.10H182.60zM182.60 50.07H186.62V54.08H182.60zM258.89 42.04H262.90V46.05H258.89zM258.89 38.02H262.90V42.04H258.89z"/>
<path fill="#59a6b2" d="M202.68 282.95H206.69V286.96H202.68zM202.68 278.93H206.69V282.95H202.68zM206.69 270.90H210.71V274.92H206.69zM210.71 262.87H214.72V266.89H210.71zM214.72 258.86H218.74V262.87H214.72zM246.84 258.86H250.86V262.87H246.84zM254.87 258.86H266.92V262.87H254.87zM218.74 254.84H222.75V258.86H218.74zM242.83 254.84H246.84V258.86H242.83zM222.75 250.83H238.81V254.84H222.75zM286.99 242.80H291.01V246.81H286.99zM291.01 218.70H295.02V222.72H291.01zM307.07 182.57H311.08V186.58H307.07zM307.07 166.51H311.08V170.52H307.07zM307.07 162.49H311.08V166.51H307.07zM303.05 158.48H307.07V162.49H303.05zM295.02 154.46H303.05V158.48H295.02zM286.99 150.45H291.01V154.46H286.99zM278.96 146.43H282.98V150.45H278.96zM262.90 134.39H266.92V138.40H262.90zM258.89 130.37H262.90V134.39H258.89zM254.87 122.34H258.89V126.36H254.87zM254.87 118.33H258.89V122.34H254.87zM254.87 114.31H258.89V118.33H254.87zM323.13 114.31H347.22V118.33H323.13zM254.87 110.30H258.89V114.31H254.87zM319.12 110.30H331.16V114.31H319.12zM343.21 110.30H351.24V114.31H343.21zM315.10 106.28H327.15V110.30H315.10zM343.21 106.28H355.25V110.30H343.21zM258.89 102.27H262.90V106.28H258.89zM315.10 102.27H327.15V106.28H315.10zM343.21 102.27H355.25V106.28H343.21zM258.89 98.25H262.90V102.27H258.89zM315.10 98.25H331.16V102.27H315.10zM339.19 98.25H351.24V102.27H339.19zM258.89 94.23H262.90V98.25H258.89zM323.13 94.23H347.22V98.25H323.13zM258.89 90.22H262.90V94.23H258.89zM258.89 86.20H262.90V90.22H258.89zM162.52 82.19H166.54V86.20H162.52zM178.58 82.19H182.60V86.20H178.58zM254.87 82.19H258.89V86.20H254.87zM158.51 78.17H162.52V82.19H158.51zM178.58 78.17H182.60V82.19H178.58zM254.87 78.17H258.89V82.19H254.87zM154.49 74.16H158.51V78.17H154.49zM254.87 74.16H258.89V78.17H254.87zM254.87 70.14H258.89V74.16H254.87zM182.60 62.11H186.62V66.13H182.60zM182.60 58.10H186.62V62.11H182.60zM178.58 50.07H182.60V54.08H178.58zM258.89 50.07H262.90V54.08H258.89zM258.89 46.05H262.90V50.07H258.89z"/>
<path fill="#59a9aa" d="M202.68 286.96H206.69V290.98H202.68zM206.69 282.95H210.71V286.96H206.69zM206.69 278.93H210.71V282.95H206.69zM206.69 274.92H214.72V278.93H206.69zM210.71 270.90H214.72V274.92H210.71zM210.71 266.89H218.74V270.90H210.71zM214.72 262.87H222.75V266.89H214.72zM246.84 262.87H254.87V266.89H246.84zM218.74 258.86H226.77V262.87H218.74zM238.81 258.86H246.84V262.87H238.81zM266.92 258.86H270.93V262.87H266.92zM222.75 254.84H242.83V258.86H222.75zM274.95 254.84H278.96V258.86H274.95zM291.01 222.72H295.02V226.73H291.01zM299.04 202.64H303.05V206.66H299.04zM303.05 194.61H307.07V198.63H303.05zM307.07 186.58H311.08V190.60H307.07zM307.07 158.48H311.08V162.49H307.07zM303.05 154.46H307.07V158.48H303.05zM291.01 150.45H295.02V154.46H291.01zM274.95 142.42H278.96V146.43H274.95zM262.90 130.37H266.92V134.39H262.90zM258.89 126.36H262.90V130.37H258.89zM258.89 122.34H262.90V126.36H258.89zM258.89 118.33H262.90V122.34H258.89zM319.12 118.33H355.25V122.34H319.12zM258.89 114.31H262.90V118.33H258.89zM315.10 114.31H323.13V118.33H315.10zM347.22 114.31H363.28V118.33H347.22zM258.89 110.30H262.90V114.31H258.89zM311.08 110.30H319.12V114.31H311.08zM351.24 110.30H367.30V114.31H351.24zM258.89 106.28H262.90V110.30H258.89zM311.08 106.28H315.10V110.30H311.08zM355.25 106.28H367.30V110.30H355.25zM262.90 102.27H266.92V106.28H262.90zM311.08 102.27H315.10V106.28H311.08zM355.25 102.27H367.30V106.28H355.25zM262.90 98.25H266.92V102.27H262.90zM311.08 98.25H315.10V102.27H311.08zM351.24 98.25H363.28V102.27H351.24zM262.90 94.23H266.92V98.25H262.90zM315.10 94.23H323.13V98.25H315.10zM347.22 94.23H363.28V98.25H347.22zM262.90 90.22H266.92V94.23H262.90zM323.13 90.22H359.27V94.23H323.13zM262.90 86.20H266.92V90.22H262.90zM166.54 82.19H178.58V86.20H166.54zM258.89 82.19H262.90V86.20H258.89zM162.52 78.17H178.58V82.19H162.52zM258.89 78.17H262.90V82.19H258.89zM158.51 74.16H166.54V78.17H158.51zM174.57 74.16H182.60V78.17H174.57zM258.89 74.16H262.90V78.17H258.89zM154.49 70.14H158.51V74.16H154.49zM178.58 70.14H182.60V74.16H178.58zM178.58 66.13H182.60V70.14H178.58zM178.58 62.11H182.60V66.13H178.58zM178.58 58.10H182.60V62.11H178.58zM258.89 58.10H262.90V62.11H258.89zM178.58 54.08H182.60V58.10H178.58zM258.89 54.08H262.90V58.10H258.89zM262.90 38.02H266.92V42.04H262.90zM262.90 34.01H266.92V38.02H262.90z"/>
<path fill="#5aaca3" d="M206.69 286.96H210.71V290.98H206.69zM210.71 278.93H214.72V282.95H210.71zM214.72 270.90H218.74V274.92H214.72zM218.74 266.89H222.75V270.90H218.74zM222.75 262.87H230.78V266.89H222.75zM238.81 262.87H246.84V266.89H238.81zM254.87 262.87H262.90V266.89H254.87zM226.77 258.86H238.81V262.87H226.77zM291.01 226.73H295.02V230.75H291.01zM295.02 210.67H299.04V214.69H295.02zM311.08 166.51H315.10V170.52H311.08zM307.07 154.46H311.08V158.48H307.07zM295.02 150.45H303.05V154.46H295.02zM282.98 146.43H286.99V150.45H282.98zM270.93 138.40H274.95V142.42H270.93zM266.92 134.39H270.93V138.40H266.92zM262.90 126.36H266.92V130.37H262.90zM319.12 122.34H347.22V126.36H319.12zM315.10 118.33H319.12V122.34H315.10zM355.25 118.33H363.28V122.34H355.25zM311.08 114.31H315.10V118.33H311.08zM363.28 114.31H367.30V118.33H363.28zM307.07 110.30H311.08V114.31H307.07zM367.30 110.30H371.31V114.31H367.30zM262.90 106.28H266.92V110.30H262.90zM307.07 106.28H311.08V110.30H307.07zM307.07 102.27H311.08V106.28H307.07zM266.92 94.23H270.93V98.25H266.92zM311.08 94.23H315.10V98.25H311.08zM319.12 90.22H323.13V94.23H319.12zM343.21 86.20H355.25V90.22H343.21zM262.90 82.19H266.92V86.20H262.90zM166.54 74.16H174.57V78.17H166.54zM158.51 70.14H166.54V74.16H158.51zM174.57 70.14H178.58V74.16H174.57zM258.89 70.14H262.90V74.16H258.89zM258.89 66.13H262.90V70.14H258.89zM258.89 62.11H262.90V66.13H258.89zM174.57 58.10H178.58V62.11H174.57zM174.57 54.08H178.58V58.10H174.57zM262.90 46.05H266.92V50.07H262.90zM262.90 42.04H266.92V46.05H262.90z"/>
<path fill="#5caf9c" d="M210.71 286.96H214.72V290.98H210.71zM210.71 282.95H214.72V286.96H210.71zM214.72 278.93H218.74V282.95H214.72zM214.72 274.92H218.74V278.93H214.72zM218.74 270.90H222.75V274.92H218.74zM222.75 266.89H226.77V270.90H222.75zM242.83 266.89H254.87V270.90H242.83zM230.78 262.87H238.81V266.89H230.78zM262.90 262.87H266.92V266.89H262.90zM270.93 258.86H274.95V262.87H270.93zM282.98 250.83H286.99V254.84H282.98zM291.01 230.75H295.02V234.77H291.01zM299.04 206.66H303.05V210.67H299.04zM303.05 198.63H307.07V202.64H303.05zM307.07 190.60H311.08V194.61H307.07zM311.08 178.55H315.10V182.57H311.08zM311.08 174.54H315.10V178.55H311.08zM311.08 170.52H315.10V174.54H311.08zM311.08 162.49H315.10V166.51H311.08zM311.08 158.48H315.10V162.49H311.08zM303.05 150.45H307.07V154.46H303.05zM262.90 122.34H266.92V126.36H262.90zM315.10 122.34H319.12V126.36H315.10zM347.22 122.34H355.25V126.36H347.22zM311.08 118.33H315.10V122.34H311.08zM363.28 118.33H367.30V122.34H363.28zM307.07 114.31H311.08V118.33H307.07zM367.30 114.31H371.31V118.33H367.30zM262.90 110.30H266.92V114.31H262.90zM266.92 98.25H270.93V102.27H266.92zM307.07 98.25H311.08V102.27H307.07zM266.92 90.22H270.93V94.23H266.92zM315.10 90.22H319.12V94.23H315.10zM323.13 86.20H343.21V90.22H323.13zM351.24 82.19H355.25V86.20H351.24zM262.90 78.17H266.92V82.19H262.90zM166.54 70.14H174.57V74.16H166.54zM158.51 66.13H162.52V70.14H158.51zM174.57 66.13H178.58V70.14H174.57zM174.57 62.11H178.58V66.13H174.57zM262.90 50.07H266.92V54.08H262.90z"/>
<path fill="#5fb196" d="M214.72 282.95H218.74V286.96H214.72zM218.74 274.92H222.75V278.93H218.74zM222.75 270.90H226.77V274.92H222.75zM226.77 266.89H242.83V270.90H226.77zM254.87 266.89H258.89V270.90H254.87zM266.92 262.87H270.93V266.89H266.92zM278.96 254.84H282.98V258.86H278.96zM286.99 246.81H291.01V250.83H286.99zM291.01 234.77H295.02V238.78H291.01zM295.02 214.69H299.04V218.70H295.02zM311.08 182.57H315.10V186.58H311.08zM311.08 154.46H315.10V158.48H311.08zM307.07 150.45H311.08V154.46H307.07zM286.99 146.43H291.01V150.45H286.99zM278.96 142.42H282.98V146.43H278.96zM266.92 130.37H270.93V134.39H266.92zM319.12 126.36H335.18V130.37H319.12zM311.08 122.34H315.10V126.36H311.08zM355.25 122.34H363.28V126.36H355.25zM262.90 118.33H266.92V122.34H262.90zM367.30 118.33H375.33V122.34H367.30zM262.90 114.31H266.92V118.33H262.90zM266.92 102.27H270.93V106.28H266.92zM307.07 94.23H311.08V98.25H307.07zM311.08 90.22H315.10V94.23H311.08zM266.92 86.20H270.93V90.22H266.92zM319.12 86.20H323.13V90.22H319.12zM343.21 82.19H351.24V86.20H343.21zM262.90 74.16H266.92V78.17H262.90zM262.90 70.14H266.92V74.16H262.90zM162.52 66.13H174.57V70.14H162.52zM262.90 66.13H266.92V70.14H262.90zM162.52 62.11H166.54V66.13H162.52zM170.55 62.11H174.57V66.13H170.55zM262.90 62.11H266.92V66.13H262.90zM170.55 58.10H174.57V62.11H170.55zM262.90 58.10H266.92V62.11H262.90zM262.90 54.08H266.92V58.10H262.90zM266.92 38.02H270.93V42.04H266.92zM266.92 34.01H270.93V38.02H266.92z"/>
<path fill="#62b28e" d="M214.72 286.96H218.74V290.98H214.72zM218.74 278.93H222.75V282.95H218.74zM222.75 274.92H226.77V278.93H222.75zM226.77 270.90H234.80V274.92H226.77zM238.81 270.90H250.86V274.92H238.81zM258.89 266.89H262.90V270.90H258.89zM274.95 258.86H278.96V262.87H274.95zM291.01 238.78H295.02V242.80H291.01zM303.05 202.64H307.07V206.66H303.05zM307.07 194.61H311.08V198.63H307.07zM311.08 186.58H315.10V190.60H311.08zM311.08 150.45H315.10V154.46H311.08zM291.01 146.43H311.08V150.45H291.01zM274.95 138.40H278.96V142.42H274.95zM270.93 134.39H274.95V138.40H270.93zM315.10 126.36H319.12V130.37H315.10zM335.18 126.36H355.25V130.37H335.18zM363.28 122.34H371.31V126.36H363.28zM307.07 118.33H311.08V122.34H307.07zM303.05 110.30H307.07V114.31H303.05zM266.92 106.28H270.93V110.30H266.92zM303.05 106.28H307.07V110.30H303.05zM303.05 102.27H307.07V106.28H303.05zM315.10 86.20H319.12V90.22H315.10zM266.92 82.19H270.93V86.20H266.92zM331.16 82.19H343.21V86.20H331.16zM166.54 62.11H170.55V66.13H166.54zM166.54 58.10H170.55V62.11H166.54zM266.92 46.05H270.93V50.07H266.92zM266.92 42.04H270.93V46.05H266.92z"/>
<path fill="#65b488" d="M214.72 290.98H218.74V294.99H214.72zM218.74 282.95H222.75V286.96H218.74zM222.75 278.93H226.77V282.95H222.75zM226.77 274.92H230.78V278.93H226.77zM234.80 270.90H238.81V274.92H234.80zM250.86 270.90H258.89V274.92H250.86zM262.90 266.89H266.92V270.90H262.90zM270.93 262.87H274.95V266.89H270.93zM295.02 218.70H299.04V222.72H295.02zM367.30 214.69H371.31V218.70H367.30zM299.04 210.67H303.05V214.69H299.04zM367.30 210.67H371.31V214.69H367.30zM315.10 170.52H319.12V174.54H315.10zM315.10 166.51H319.12V170.52H315.10zM315.10 162.49H319.12V166.51H315.10zM315.10 158.48H319.12V162.49H315.10zM315.10 154.46H319.12V158.48H315.10zM311.08 146.43H315.10V150.45H311.08zM315.10 130.37H331.16V134.39H315.10zM266.92 126.36H270.93V130.37H266.92zM311.08 126.36H315.10V130.37H311.08zM355.25 126.36H367.30V130.37H355.25zM307.07 122.34H311.08V126.36H307.07zM371.31 122.34H375.33V126.36H371.31zM303.05 114.31H307.07V118.33H303.05zM266.92 110.30H270.93V114.31H266.92zM270.93 98.25H274.95V102.27H270.93zM303.05 98.25H307.07V102.27H303.05zM270.93 94.23H274.95V98.25H270.93zM270.93 90.22H274.95V94.23H270.93zM323.13 82.19H331.16V86.20H323.13zM266.92 78.17H270.93V82.19H266.92zM343.21 78.17H351.24V82.19H343.21zM266.92 74.16H270.93V78.17H266.92zM266.92 50.07H270.93V54.08H266.92z"/>
<path fill="#68b680" d="M218.74 290.98H222.75V294.99H218.74zM218.74 286.96H222.75V290.98H218.74zM230.78 274.92H250.86V278.93H230.78zM258.89 270.90H262.90V274.92H258.89zM266.92 266.89H270.93V270.90H266.92zM291.01 242.80H295.02V246.81H291.01zM295.02 222.72H299.04V226.73H295.02zM363.28 222.72H367.30V226.73H363.28zM363.28 218.70H367.30V222.72H363.28zM363.28 214.69H367.30V218.70H363.28zM363.28 210.67H367.30V214.69H363.28zM367.30 206.66H375.33V210.67H367.30zM307.07 198.63H311.08V202.64H307.07zM311.08 190.60H315.10V194.61H311.08zM315.10 178.55H319.12V182.57H315.10zM315.10 174.54H319.12V178.55H315.10zM315.10 150.45H319.12V154.46H315.10zM315.10 146.43H319.12V150.45H315.10zM282.98 142.42H286.99V146.43H282.98zM303.05 142.42H315.10V146.43H303.05zM315.10 134.39H327.15V138.40H315.10zM311.08 130.37H315.10V134.39H311.08zM331.16 130.37H351.24V134.39H331.16zM307.07 126.36H311.08V130.37H307.07zM367.30 126.36H375.33V130.37H367.30zM266.92 122.34H270.93V126.36H266.92zM266.92 118.33H270.93V122.34H266.92zM303.05 118.33H307.07V122.34H303.05zM266.92 114.31H270.93V118.33H266.92zM270.93 102.27H274.95V106.28H270.93zM303.05 94.23H307.07V98.25H303.05zM307.07 90.22H311.08V94.23H307.07zM270.93 86.20H274.95V90.22H270.93zM311.08 86.20H315.10V90.22H311.08zM319.12 82.19H323.13V86.20H319.12zM335.18 78.17H343.21V82.19H335.18zM266.92 70.14H270.93V74.16H266.92zM266.92 66.13H270.93V70.14H266.92zM266.92 62.11H270.93V66.13H266.92zM266.92 58.10H270.93V62.11H266.92zM266.92 54.08H270.93V58.10H266.92zM270.93 38.02H274.95V42.04H270.93zM270.93 34.01H274.95V38.02H270.93z"/>
<path fill="#6eb879" d="M222.75 286.96H226.77V290.98H222.75zM222.75 282.95H226.77V286.96H222.75zM226.77 278.93H234.80V282.95H226.77zM242.83 278.93H246.84V282.95H242.83zM250.86 274.92H258.89V278.93H250.86zM262.90 270.90H266.92V274.92H262.90zM274.95 262.87H278.96V266.89H274.95zM278.96 258.86H282.98V262.87H278.96zM282.98 254.84H286.99V258.86H282.98zM359.27 230.75H363.28V234.77H359.27zM295.02 226.73H299.04V230.75H295.02zM359.27 226.73H363.28V230.75H359.27zM359.27 222.72H363.28V226.73H359.27zM359.27 218.70H363.28V222.72H359.27zM359.27 214.69H363.28V218.70H359.27zM303.05 206.66H307.07V210.67H303.05zM363.28 206.66H367.30V210.67H363.28zM367.30 202.64H375.33V206.66H367.30zM315.10 182.57H319.12V186.58H315.10zM319.12 162.49H323.13V166.51H319.12zM319.12 158.48H323.13V162.49H319.12zM319.12 154.46H323.13V158.48H319.12zM319.12 150.45H323.13V154.46H319.12zM286.99 142.42H303.05V146.43H286.99zM315.10 142.42H319.12V146.43H315.10zM278.96 138.40H282.98V142.42H278.96zM303.05 138.40H323.13V142.42H303.05zM274.95 134.39H278.96V138.40H274.95zM307.07 134.39H315.10V138.40H307.07zM327.15 134.39H335.18V138.40H327.15zM270.93 130.37H274.95V134.39H270.93zM307.07 130.37H311.08V134.39H307.07zM351.24 130.37H379.34V134.39H351.24zM303.05 122.34H307.07V126.36H303.05zM299.04 114.31H303.05V118.33H299.04zM299.04 110.30H303.05V114.31H299.04zM270.93 106.28H274.95V110.30H270.93zM299.04 106.28H303.05V110.30H299.04zM299.04 102.27H303.05V106.28H299.04zM299.04 98.25H303.05V102.27H299.04zM303.05 90.22H307.07V94.23H303.05zM307.07 86.20H311.08V90.22H307.07zM270.93 82.19H274.95V86.20H270.93zM315.10 82.19H319.12V86.20H315.10zM270.93 78.17H274.95V82.19H270.93zM323.13 78.17H335.18V82.19H323.13zM343.21 74.16H347.22V78.17H343.21zM270.93 46.05H274.95V50.07H270.93zM270.93 42.04H274.95V46.05H270.93z"/>
<path fill="#74b971" d="M222.75 290.98H258.89V294.99H222.75zM226.77 286.96H258.89V290.98H226.77zM226.77 282.95H262.90V286.96H226.77zM234.80 278.93H242.83V282.95H234.80zM246.84 278.93H266.92V282.95H246.84zM258.89 274.92H270.93V278.93H258.89zM266.92 270.90H274.95V274.92H266.92zM270.93 266.89H278.96V270.90H270.93zM286.99 250.83H291.01V254.84H286.99zM291.01 246.81H295.02V250.83H291.01zM355.25 234.77H359.27V238.78H355.25zM295.02 230.75H299.04V234.77H295.02zM355.25 230.75H359.27V234.77H355.25zM355.25 226.73H359.27V230.75H355.25zM355.25 222.72H359.27V226.73H355.25zM355.25 218.70H359.27V222.72H355.25zM299.04 214.69H303.05V218.70H299.04zM355.25 214.69H359.27V218.70H355.25zM359.27 210.67H363.28V214.69H359.27zM359.27 206.66H363.28V210.67H359.27zM363.28 202.64H367.30V206.66H363.28zM363.28 198.63H375.33V202.64H363.28zM311.08 194.61H315.10V198.63H311.08zM367.30 194.61H379.34V198.63H367.30zM371.31 190.60H379.34V194.61H371.31zM315.10 186.58H319.12V190.60H315.10zM375.33 186.58H379.34V190.60H375.33zM319.12 174.54H323.13V178.55H319.12zM319.12 170.52H323.13V174.54H319.12zM319.12 166.51H323.13V170.52H319.12zM323.13 150.45H327.15V154.46H323.13zM319.12 146.43H327.15V150.45H319.12zM319.12 142.42H331.16V146.43H319.12zM282.98 138.40H303.05V142.42H282.98zM323.13 138.40H339.19V142.42H323.13zM371.31 138.40H379.34V142.42H371.31zM278.96 134.39H282.98V138.40H278.96zM295.02 134.39H307.07V138.40H295.02zM335.18 134.39H379.34V138.40H335.18zM274.95 130.37H278.96V134.39H274.95zM295.02 130.37H307.07V134.39H295.02zM270.93 126.36H274.95V130.37H270.93zM295.02 126.36H307.07V130.37H295.02zM270.93 122.34H274.95V126.36H270.93zM295.02 122.34H303.05V126.36H295.02zM270.93 118.33H274.95V122.34H270.93zM295.02 118.33H303.05V122.34H295.02zM270.93 114.31H274.95V118.33H270.93zM295.02 114.31H299.04V118.33H295.02zM270.93 110.30H278.96V114.31H270.93zM295.02 110.30H299.04V114.31H295.02zM274.95 106.28H278.96V110.30H274.95zM295.02 106.28H299.04V110.30H295.02zM274.95 102.27H278.96V106.28H274.95zM295.02 102.27H299.04V106.28H295.02zM274.95 98.25H278.96V102.27H274.95zM295.02 98.25H299.04V102.27H295.02zM274.95 94.23H278.96V98.25H274.95zM299.04 94.23H303.05V98.25H299.04zM274.95 90.22H278.96V94.23H274.95zM299.04 90.22H303.05V94.23H299.04zM274.95 86.20H278.96V90.22H274.95zM303.05 86.20H307.07V90.22H303.05zM274.95 82.19H278.96V86.20H274.95zM311.08 82.19H315.10V86.20H311.08zM319.12 78.17H323.13V82.19H319.12zM270.93 74.16H274.95V78.17H270.93zM331.16 74.16H343.21V78.17H331.16zM270.93 70.14H274.95V74.16H270.93zM270.93 66.13H274.95V70.14H270.93zM270.93 62.11H274.95V66.13H270.93zM270.93 58.10H274.95V62.11H270.93zM270.93 54.08H274.95V58.10H270.93zM270.93 50.07H274.95V54.08H270.93z"/>
<path fill="#7abb69" d="M258.89 290.98H270.93V294.99H258.89zM258.89 286.96H270.93V290.98H258.89zM262.90 282.95H270.93V286.96H262.90zM266.92 278.93H274.95V282.95H266.92zM270.93 274.92H278.96V278.93H270.93zM274.95 270.90H278.96V274.92H274.95zM278.96 266.89H282.98V270.90H278.96zM278.96 262.87H282.98V266.89H278.96zM282.98 258.86H286.99V262.87H282.98zM295.02 238.78H299.04V242.80H295.02zM295.02 234.77H299.04V238.78H295.02zM351.24 234.77H355.25V238.78H351.24zM351.24 230.75H355.25V234.77H351.24zM351.24 226.73H355.25V230.75H351.24zM351.24 222.72H355.25V226.73H351.24zM299.04 218.70H303.05V222.72H299.04zM303.05 210.67H307.07V214.69H303.05zM355.25 210.67H359.27V214.69H355.25zM307.07 202.64H311.08V206.66H307.07zM359.27 202.64H363.28V206.66H359.27zM363.28 194.61H367.30V198.63H363.28zM367.30 190.60H371.31V194.61H367.30zM371.31 186.58H375.33V190.60H371.31zM319.12 182.57H323.13V186.58H319.12zM375.33 182.57H379.34V186.58H375.33zM319.12 178.55H323.13V182.57H319.12zM323.13 170.52H327.15V174.54H323.13zM323.13 166.51H327.15V170.52H323.13zM323.13 162.49H327.15V166.51H323.13zM323.13 158.48H327.15V162.49H323.13zM323.13 154.46H327.15V158.48H323.13zM327.15 150.45H331.16V154.46H327.15zM327.15 146.43H335.18V150.45H327.15zM331.16 142.42H343.21V146.43H331.16zM367.30 142.42H379.34V146.43H367.30zM339.19 138.40H371.31V142.42H339.19zM282.98 134.39H295.02V138.40H282.98zM278.96 130.37H295.02V134.39H278.96zM274.95 126.36H295.02V130.37H274.95zM274.95 122.34H295.02V126.36H274.95zM274.95 118.33H295.02V122.34H274.95zM274.95 114.31H295.02V118.33H274.95zM278.96 110.30H295.02V114.31H278.96zM278.96 106.28H295.02V110.30H278.96zM278.96 102.27H295.02V106.28H278.96zM278.96 98.25H295.02V102.27H278.96zM278.96 94.23H299.04V98.25H278.96zM278.96 90.22H282.98V94.23H278.96zM295.02 90.22H299.04V94.23H295.02zM278.96 86.20H282.98V90.22H278.96zM299.04 86.20H303.05V90.22H299.04zM307.07 82.19H311.08V86.20H307.07zM274.95 78.17H278.96V82.19H274.95zM311.08 78.17H319.12V82.19H311.08zM274.95 74.16H278.96V78.17H274.95zM323.13 74.16H331.16V78.17H323.13zM335.18 70.14H343.21V74.16H335.18zM274.95 42.04H278.96V46.05H274.95zM274.95 38.02H278.96V42.04H274.95zM274.95 34.01H278.96V38.02H274.95z"/>
<path fill="#80bd61" d="M270.93 290.98H278.96V294.99H270.93zM270.93 286.96H278.96V290.98H270.93zM270.93 282.95H278.96V286.96H270.93zM274.95 278.93H278.96V282.95H274.95zM278.96 274.92H282.98V278.93H278.96zM278.96 270.90H282.98V274.92H278.96zM282.98 266.89H286.99V270.90H282.98zM282.98 262.87H286.99V266.89H282.98zM286.99 258.86H291.01V262.87H286.99zM286.99 254.84H291.01V258.86H286.99zM291.01 250.83H295.02V254.84H291.01zM295.02 242.80H299.04V246.81H295.02zM351.24 238.78H355.25V242.80H351.24zM299.04 222.72H303.05V226.73H299.04zM351.24 218.70H355.25V222.72H351.24zM355.25 206.66H359.27V210.67H355.25zM359.27 198.63H363.28V202.64H359.27zM315.10 190.60H319.12V194.61H315.10zM363.28 190.60H367.30V194.61H363.28zM319.12 186.58H323.13V190.60H319.12zM367.30 186.58H371.31V190.60H367.30zM371.31 182.57H375.33V186.58H371.31zM323.13 178.55H327.15V182.57H323.13zM375.33 178.55H379.34V182.57H375.33zM323.13 174.54H327.15V178.55H323.13zM327.15 158.48H331.16V162.49H327.15zM327.15 154.46H331.16V158.48H327.15zM331.16 150.45H335.18V154.46H331.16zM375.33 150.45H379.34V154.46H375.33zM335.18 146.43H343.21V150.45H335.18zM367.30 146.43H379.34V150.45H367.30zM343.21 142.42H367.30V146.43H343.21zM282.98 90.22H295.02V94.23H282.98zM282.98 86.20H286.99V90.22H282.98zM291.01 86.20H299.04V90.22H291.01zM278.96 82.19H282.98V86.20H278.96zM303.05 82.19H307.07V86.20H303.05zM278.96 78.17H282.98V82.19H278.96zM319.12 74.16H323.13V78.17H319.12zM274.95 70.14H278.96V74.16H274.95zM331.16 70.14H335.18V74.16H331.16zM274.95 66.13H278.96V70.14H274.95zM274.95 54.08H278.96V58.10H274.95zM274.95 50.07H278.96V54.08H274.95zM274.95 46.05H278.96V50.07H274.95z"/>
<path fill="#87be5a" d="M278.96 290.98H282.98V294.99H278.96zM278.96 286.96H282.98V290.98H278.96zM278.96 282.95H282.98V286.96H278.96zM278.96 278.93H282.98V282.95H278.96zM282.98 274.92H286.99V278.93H282.98zM282.98 270.90H286.99V274.92H282.98zM286.99 266.89H291.01V270.90H286.99zM286.99 262.87H291.01V266.89H286.99zM291.01 254.84H295.02V258.86H291.01zM295.02 246.81H299.04V250.83H295.02zM351.24 242.80H355.25V246.81H351.24zM299.04 226.73H303.05V230.75H299.04zM351.24 214.69H355.25V218.70H351.24zM351.24 210.67H355.25V214.69H351.24zM307.07 206.66H311.08V210.67H307.07zM355.25 202.64H359.27V206.66H355.25zM311.08 198.63H315.10V202.64H311.08zM359.27 194.61H363.28V198.63H359.27zM323.13 182.57H327.15V186.58H323.13zM367.30 182.57H371.31V186.58H367.30zM371.31 178.55H375.33V182.57H371.31zM371.31 174.54H379.34V178.55H371.31zM327.15 170.52H331.16V174.54H327.15zM375.33 170.52H379.34V174.54H375.33zM327.15 166.51H331.16V170.52H327.15zM327.15 162.49H331.16V166.51H327.15zM331.16 154.46H335.18V158.48H331.16zM371.31 154.46H379.34V158.48H371.31zM335.18 150.45H339.19V154.46H335.18zM367.30 150.45H375.33V154.46H367.30zM343.21 146.43H367.30V150.45H343.21zM286.99 86.20H291.01V90.22H286.99zM282.98 82.19H286.99V86.20H282.98zM299.04 82.19H303.05V86.20H299.04zM307.07 78.17H311.08V82.19H307.07zM278.96 74.16H282.98V78.17H278.96zM315.10 74.16H319.12V78.17H315.10zM323.13 70.14H331.16V74.16H323.13zM335.18 66.13H339.19V70.14H335.18zM274.95 62.11H278.96V66.13H274.95zM274.95 58.10H278.96V62.11H274.95zM278.96 34.01H282.98V38.02H278.96z"/>
<path fill="#8fbe56" d="M282.98 286.96H286.99V290.98H282.98zM282.98 282.95H286.99V286.96H282.98zM282.98 278.93H286.99V282.95H282.98zM286.99 270.90H291.01V274.92H286.99zM291.01 262.87H295.02V266.89H291.01zM291.01 258.86H295.02V262.87H291.01zM295.02 250.83H299.04V254.84H295.02zM299.04 238.78H303.05V242.80H299.04zM347.22 238.78H351.24V242.80H347.22zM299.04 234.77H303.05V238.78H299.04zM347.22 234.77H351.24V238.78H347.22zM299.04 230.75H303.05V234.77H299.04zM347.22 230.75H351.24V234.77H347.22zM347.22 226.73H351.24V230.75H347.22zM347.22 222.72H351.24V226.73H347.22zM303.05 214.69H307.07V218.70H303.05zM351.24 206.66H355.25V210.67H351.24zM355.25 198.63H359.27V202.64H355.25zM315.10 194.61H319.12V198.63H315.10zM319.12 190.60H323.13V194.61H319.12zM359.27 190.60H363.28V194.61H359.27zM363.28 186.58H367.30V190.60H363.28zM327.15 178.55H331.16V182.57H327.15zM367.30 178.55H371.31V182.57H367.30zM327.15 174.54H331.16V178.55H327.15zM371.31 170.52H375.33V174.54H371.31zM371.31 166.51H379.34V170.52H371.31zM371.31 162.49H379.34V166.51H371.31zM331.16 158.48H335.18V162.49H331.16zM371.31 158.48H379.34V162.49H371.31zM335.18 154.46H339.19V158.48H335.18zM367.30 154.46H371.31V158.48H367.30zM339.19 150.45H347.22V154.46H339.19zM355.25 150.45H367.30V154.46H355.25zM286.99 82.19H299.04V86.20H286.99zM282.98 78.17H286.99V82.19H282.98zM303.05 78.17H307.07V82.19H303.05zM311.08 74.16H315.10V78.17H311.08zM278.96 70.14H282.98V74.16H278.96zM319.12 70.14H323.13V74.16H319.12zM331.16 66.13H335.18V70.14H331.16zM278.96 46.05H282.98V50.07H278.96zM278.96 42.04H282.98V46.05H278.96zM278.96 38.02H282.98V42.04H278.96z"/>
<path fill="#97be52" d="M286.99 286.96H291.01V290.98H286.99zM286.99 282.95H291.01V286.96H286.99zM286.99 278.93H291.01V282.95H286.99zM286.99 274.92H291.01V278.93H286.99zM291.01 270.90H295.02V274.92H291.01zM291.01 266.89H295.02V270.90H291.01zM295.02 262.87H299.04V266.89H295.02zM295.02 258.86H299.04V262.87H295.02zM295.02 254.84H299.04V258.86H295.02zM299.04 250.83H303.05V254.84H299.04zM299.04 246.81H303.05V250.83H299.04zM347.22 246.81H351.24V250.83H347.22zM299.04 242.80H303.05V246.81H299.04zM347.22 242.80H351.24V246.81H347.22zM303.05 218.70H307.07V222.72H303.05zM347.22 218.70H351.24V222.72H347.22zM311.08 202.64H315.10V206.66H311.08zM351.24 202.64H355.25V206.66H351.24zM355.25 194.61H359.27V198.63H355.25zM323.13 186.58H327.15V190.60H323.13zM359.27 186.58H363.28V190.60H359.27zM327.15 182.57H331.16V186.58H327.15zM363.28 182.57H367.30V186.58H363.28zM363.28 178.55H367.30V182.57H363.28zM367.30 174.54H371.31V178.55H367.30zM331.16 170.52H335.18V174.54H331.16zM367.30 170.52H371.31V174.54H367.30zM331.16 166.51H335.18V170.52H331.16zM367.30 166.51H371.31V170.52H367.30zM331.16 162.49H335.18V166.51H331.16zM367.30 162.49H371.31V166.51H367.30zM335.18 158.48H339.19V162.49H335.18zM363.28 158.48H371.31V162.49H363.28zM339.19 154.46H343.21V158.48H339.19zM359.27 154.46H367.30V158.48H359.27zM347.22 150.45H355.25V154.46H347.22zM286.99 78.17H291.01V82.19H286.99zM299.04 78.17H303.05V82.19H299.04zM282.98 74.16H286.99V78.17H282.98zM307.07 74.16H311.08V78.17H307.07zM278.96 66.13H282.98V70.14H278.96zM327.15 66.13H331.16V70.14H327.15zM278.96 62.11H282.98V66.13H278.96zM278.96 58.10H282.98V62.11H278.96zM278.96 54.08H282.98V58.10H278.96zM278.96 50.07H282.98V54.08H278.96z"/>
<path fill="#9ebe4d" d="M291.01 278.93H295.02V282.95H291.01zM291.01 274.92H295.02V278.93H291.01zM295.02 270.90H299.04V274.92H295.02zM295.02 266.89H299.04V270.90H295.02zM299.04 262.87H303.05V266.89H299.04zM299.04 258.86H303.05V262.87H299.04zM299.04 254.84H303.05V258.86H299.04zM343.21 246.81H347.22V250.83H343.21zM343.21 242.80H347.22V246.81H343.21zM343.21 238.78H347.22V242.80H343.21zM343.21 234.77H347.22V238.78H343.21zM303.05 222.72H307.07V226.73H303.05zM347.22 214.69H351.24V218.70H347.22zM307.07 210.67H311.08V214.69H307.07zM347.22 210.67H351.24V214.69H347.22zM315.10 198.63H319.12V202.64H315.10zM351.24 198.63H355.25V202.64H351.24zM319.12 194.61H323.13V198.63H319.12zM323.13 190.60H327.15V194.61H323.13zM355.25 190.60H359.27V194.61H355.25zM327.15 186.58H331.16V190.60H327.15zM359.27 182.57H363.28V186.58H359.27zM331.16 178.55H335.18V182.57H331.16zM331.16 174.54H335.18V178.55H331.16zM363.28 174.54H367.30V178.55H363.28zM363.28 170.52H367.30V174.54H363.28zM363.28 166.51H367.30V170.52H363.28zM335.18 162.49H339.19V166.51H335.18zM363.28 162.49H367.30V166.51H363.28zM339.19 158.48H343.21V162.49H339.19zM359.27 158.48H363.28V162.49H359.27zM343.21 154.46H359.27V158.48H343.21zM291.01 78.17H299.04V82.19H291.01zM286.99 74.16H291.01V78.17H286.99zM303.05 74.16H307.07V78.17H303.05zM282.98 70.14H286.99V74.16H282.98zM311.08 70.14H319.12V74.16H311.08zM323.13 66.13H327.15V70.14H323.13zM331.16 62.11H335.18V66.13H331.16zM282.98 46.05H286.99V50.07H282.98zM282.98 42.04H286.99V46.05H282.98zM282.98 38.02H286.99V42.04H282.98z"/>
<path fill="#a6be49" d="M291.01 286.96H295.02V290.98H291.01zM291.01 282.95H303.05V286.96H291.01zM295.02 278.93H311.08V282.95H295.02zM295.02 274.92H319.12V278.93H295.02zM299.04 270.90H323.13V274.92H299.04zM299.04 266.89H311.08V270.90H299.04zM319.12 266.89H331.16V270.90H319.12zM303.05 262.87H307.07V266.89H303.05zM323.13 262.87H335.18V266.89H323.13zM303.05 258.86H307.07V262.87H303.05zM327.15 258.86H339.19V262.87H327.15zM303.05 254.84H307.07V258.86H303.05zM331.16 254.84H343.21V258.86H331.16zM303.05 250.83H307.07V254.84H303.05zM335.18 250.83H347.22V254.84H335.18zM303.05 246.81H307.07V250.83H303.05zM339.19 246.81H343.21V250.83H339.19zM303.05 242.80H307.07V246.81H303.05zM339.19 242.80H343.21V246.81H339.19zM303.05 238.78H307.07V242.80H303.05zM339.19 238.78H343.21V242.80H339.19zM303.05 234.77H307.07V238.78H303.05zM303.05 230.75H307.07V234.77H303.05zM343.21 230.75H347.22V234.77H343.21zM303.05 226.73H307.07V230.75H303.05zM343.21 226.73H347.22V230.75H343.21zM343.21 222.72H347.22V226.73H343.21zM343.21 218.70H347.22V222.72H343.21zM307.07 214.69H311.08V218.70H307.07zM311.08 206.66H315.10V210.67H311.08zM347.22 206.66H351.24V210.67H347.22zM347.22 202.64H351.24V206.66H347.22zM351.24 194.61H355.25V198.63H351.24zM351.24 190.60H355.25V194.61H351.24zM331.16 186.58H335.18V190.60H331.16zM351.24 186.58H359.27V190.60H351.24zM331.16 182.57H335.18V186.58H331.16zM351.24 182.57H359.27V186.58H351.24zM335.18 178.55H339.19V182.57H335.18zM355.25 178.55H363.28V182.57H355.25zM335.18 174.54H343.21V178.55H335.18zM351.24 174.54H363.28V178.55H351.24zM335.18 170.52H343.21V174.54H335.18zM351.24 170.52H363.28V174.54H351.24zM335.18 166.51H363.28V170.52H335.18zM339.19 162.49H363.28V166.51H339.19zM343.21 158.48H359.27V162.49H343.21zM291.01 74.16H303.05V78.17H291.01zM286.99 70.14H295.02V74.16H286.99zM303.05 70.14H311.08V74.16H303.05zM282.98 66.13H286.99V70.14H282.98zM315.10 66.13H323.13V70.14H315.10zM282.98 62.11H286.99V66.13H282.98zM323.13 62.11H331.16V66.13H323.13zM282.98 58.10H286.99V62.11H282.98zM327.15 58.10H331.16V62.11H327.15zM282.98 54.08H286.99V58.10H282.98zM282.98 50.07H286.99V54.08H282.98zM286.99 38.02H291.01V42.04H286.99z"/>
<path fill="#afbc46" d="M311.08 266.89H319.12V270.90H311.08zM307.07 262.87H323.13V266.89H307.07zM307.07 258.86H311.08V262.87H307.07zM323.13 258.86H327.15V262.87H323.13zM307.07 254.84H311.08V258.86H307.07zM327.15 254.84H331.16V258.86H327.15zM307.07 250.83H311.08V254.84H307.07zM331.16 250.83H335.18V254.84H331.16zM335.18 246.81H339.19V250.83H335.18zM335.18 242.80H339.19V246.81H335.18zM339.19 234.77H343.21V238.78H339.19zM339.19 230.75H343.21V234.77H339.19zM307.07 218.70H311.08V222.72H307.07zM343.21 214.69H347.22V218.70H343.21zM311.08 210.67H315.10V214.69H311.08zM343.21 210.67H347.22V214.69H343.21zM343.21 206.66H347.22V210.67H343.21zM315.10 202.64H319.12V206.66H315.10zM343.21 202.64H347.22V206.66H343.21zM319.12 198.63H323.13V202.64H319.12zM343.21 198.63H351.24V202.64H343.21zM323.13 194.61H327.15V198.63H323.13zM347.22 194.61H351.24V198.63H347.22zM327.15 190.60H335.18V194.61H327.15zM347.22 190.60H351.24V194.61H347.22zM347.22 186.58H351.24V190.60H347.22zM335.18 182.57H339.19V186.58H335.18zM347.22 182.57H351.24V186.58H347.22zM339.19 178.55H355.25V182.57H339.19zM343.21 174.54H351.24V178.55H343.21zM343.21 170.52H351.24V174.54H343.21zM295.02 70.14H303.05V74.16H295.02zM286.99 66.13H315.10V70.14H286.99zM286.99 62.11H291.01V66.13H286.99zM319.12 62.11H323.13V66.13H319.12zM286.99 58.10H291.01V62.11H286.99zM323.13 58.10H327.15V62.11H323.13zM286.99 54.08H291.01V58.10H286.99zM286.99 50.07H291.01V54.08H286.99zM286.99 46.05H291.01V50.07H286.99zM286.99 42.04H291.01V46.05H286.99zM291.01 38.02H295.02V42.04H291.01z"/>
<path fill="#b7b944" d="M311.08 258.86H323.13V262.87H311.08zM311.08 254.84H315.10V258.86H311.08zM319.12 254.84H327.15V258.86H319.12zM311.08 250.83H315.10V254.84H311.08zM327.15 250.83H331.16V254.84H327.15zM307.07 246.81H311.08V250.83H307.07zM327.15 246.81H335.18V250.83H327.15zM307.07 242.80H311.08V246.81H307.07zM331.16 242.80H335.18V246.81H331.16zM307.07 238.78H311.08V242.80H307.07zM335.18 238.78H339.19V242.80H335.18zM307.07 234.77H311.08V238.78H307.07zM335.18 234.77H339.19V238.78H335.18zM307.07 230.75H311.08V234.77H307.07zM307.07 226.73H311.08V230.75H307.07zM339.19 226.73H343.21V230.75H339.19zM307.07 222.72H311.08V226.73H307.07zM339.19 222.72H343.21V226.73H339.19zM339.19 218.70H343.21V222.72H339.19zM311.08 214.69H315.10V218.70H311.08zM339.19 214.69H343.21V218.70H339.19zM339.19 210.67H343.21V214.69H339.19zM315.10 206.66H319.12V210.67H315.10zM339.19 206.66H343.21V210.67H339.19zM319.12 202.64H323.13V206.66H319.12zM339.19 202.64H343.21V206.66H339.19zM323.13 198.63H327.15V202.64H323.13zM339.19 198.63H343.21V202.64H339.19zM327.15 194.61H331.16V198.63H327.15zM339.19 194.61H347.22V198.63H339.19zM335.18 190.60H347.22V194.61H335.18zM335.18 186.58H347.22V190.60H335.18zM339.19 182.57H347.22V186.58H339.19zM291.01 62.11H319.12V66.13H291.01zM291.01 58.10H295.02V62.11H291.01zM315.10 58.10H323.13V62.11H315.10zM291.01 54.08H295.02V58.10H291.01zM319.12 54.08H323.13V58.10H319.12zM291.01 50.07H295.02V54.08H291.01zM291.01 46.05H295.02V50.07H291.01zM291.01 42.04H295.02V46.05H291.01z"/>
<path fill="#c0b742" d="M315.10 254.84H319.12V258.86H315.10zM315.10 250.83H327.15V254.84H315.10zM311.08 246.81H315.10V250.83H311.08zM323.13 246.81H327.15V250.83H323.13zM311.08 242.80H315.10V246.81H311.08zM327.15 242.80H331.16V246.81H327.15zM331.16 238.78H335.18V242.80H331.16zM331.16 234.77H335.18V238.78H331.16zM335.18 230.75H339.19V234.77H335.18zM311.08 226.73H315.10V230.75H311.08zM335.18 226.73H339.19V230.75H335.18zM311.08 222.72H315.10V226.73H311.08zM335.18 222.72H339.19V226.73H335.18zM311.08 218.70H315.10V222.72H311.08zM335.18 218.70H339.19V222.72H335.18zM315.10 214.69H319.12V218.70H315.10zM315.10 210.67H319.12V214.69H315.10zM319.12 206.66H323.13V210.67H319.12zM335.18 198.63H339.19V202.64H335.18zM331.16 194.61H339.19V198.63H331.16zM295.02 58.10H315.10V62.11H295.02zM295.02 54.08H299.04V58.10H295.02zM311.08 54.08H319.12V58.10H311.08zM295.02 50.07H299.04V54.08H295.02zM311.08 50.07H319.12V54.08H311.08zM295.02 46.05H299.04V50.07H295.02zM295.02 42.04H303.05V46.05H295.02z"/>
<path fill="#c8b440" d="M315.10 246.81H323.13V250.83H315.10zM315.10 242.80H319.12V246.81H315.10zM323.13 242.80H327.15V246.81H323.13zM311.08 238.78H315.10V242.80H311.08zM327.15 238.78H331.16V242.80H327.15zM311.08 234.77H315.10V238.78H311.08zM311.08 230.75H315.10V234.77H311.08zM331.16 230.75H335.18V234.77H331.16zM331.16 226.73H335.18V230.75H331.16zM315.10 222.72H319.12V226.73H315.10zM315.10 218.70H319.12V222.72H315.10zM335.18 214.69H339.19V218.70H335.18zM319.12 210.67H323.13V214.69H319.12zM335.18 210.67H339.19V214.69H335.18zM335.18 206.66H339.19V210.67H335.18zM323.13 202.64H327.15V206.66H323.13zM331.16 202.64H339.19V206.66H331.16zM327.15 198.63H335.18V202.64H327.15zM299.04 54.08H311.08V58.10H299.04zM299.04 50.07H311.08V54.08H299.04zM299.04 46.05H311.08V50.07H299.04z"/>
<path fill="#d0b23e" d="M319.12 242.80H323.13V246.81H319.12zM315.10 238.78H327.15V242.80H315.10zM315.10 234.77H319.12V238.78H315.10zM327.15 234.77H331.16V238.78H327.15zM315.10 230.75H319.12V234.77H315.10zM327.15 230.75H331.16V234.77H327.15zM315.10 226.73H319.12V230.75H315.10zM327.15 226.73H331.16V230.75H327.15zM319.12 222.72H323.13V226.73H319.12zM331.16 222.72H335.18V226.73H331.16zM319.12 218.70H323.13V222.72H319.12zM331.16 218.70H335.18V222.72H331.16zM319.12 214.69H323.13V218.70H319.12zM331.16 214.69H335.18V218.70H331.16zM331.16 210.67H335.18V214.69H331.16zM323.13 206.66H335.18V210.67H323.13zM327.15 202.64H331.16V206.66H327.15z"/>
<path fill="#d6af3d" d="M319.12 234.77H327.15V238.78H319.12zM319.12 230.75H327.15V234.77H319.12zM319.12 226.73H327.15V230.75H319.12zM323.13 222.72H331.16V226.73H323.13zM323.13 218.70H331.16V222.72H323.13zM323.13 214.69H331.16V218.70H323.13zM323.13 210.67H331.16V214.69H323.13z"/>
</g>
<g fill="none" stroke="#111" stroke-width="0.85">
<path d="M155.6,72.0C157.0,74.3 158.2,77.0 159.8,79.0C161.4,81.0 163.4,82.7 165.4,83.9C167.4,85.1 169.8,86.2 171.7,86.4C173.6,86.6 175.2,86.3 176.6,85.3C178.0,84.3 179.2,82.6 180.1,80.4C181.0,78.2 181.6,74.8 181.9,72.0C182.2,69.2 182.1,66.2 181.9,63.6C181.7,61.0 181.2,58.5 180.8,56.6C180.4,54.7 180.1,53.8 179.7,52.4"/>
<path d="M147.9,79.7C150.5,82.3 152.9,85.0 155.6,87.4C158.3,89.9 161.4,92.3 164.0,94.4C166.6,96.5 168.9,98.7 171.0,100.0C173.1,101.3 174.7,102.0 176.6,102.1C178.5,102.2 180.6,101.8 182.2,100.7C183.8,99.7 185.0,98.2 186.4,95.8C187.8,93.3 189.4,89.5 190.6,86.0C191.8,82.5 192.6,78.8 193.4,74.8C194.2,70.8 195.0,66.2 195.5,62.2C196.0,58.2 196.0,54.0 196.2,51.0C196.4,48.0 196.4,46.3 196.5,44.0"/>
<path d="M136.0,95.8C138.1,97.0 140.2,98.0 142.3,99.3C144.4,100.6 147.0,101.8 148.6,103.5C150.2,105.2 151.1,107.3 151.7,109.8C152.3,112.2 153.3,115.1 152.4,118.2C151.5,121.3 148.6,125.0 146.5,128.7C144.4,132.4 142.3,136.4 140.0,140.5C137.7,144.6 135.0,149.7 132.5,153.0C130.0,156.3 127.2,158.6 125.0,160.5C122.8,162.4 121.1,163.1 119.2,164.4"/>
<path d="M142.3,88.8C145.1,90.2 148.1,91.2 150.7,93.0C153.3,94.8 156.1,96.8 158.0,99.3C159.9,101.8 161.4,104.5 162.2,107.7C163.0,110.9 163.6,114.7 162.9,118.2C162.2,121.7 159.8,125.2 158.2,128.7C156.6,132.2 154.9,135.7 153.6,139.2C152.3,142.7 151.2,146.6 150.5,149.7C149.8,152.8 149.8,154.6 149.5,158.0C149.2,161.4 149.0,166.2 148.5,170.0C148.0,173.8 147.9,177.9 146.5,180.5C145.1,183.1 142.8,184.6 140.0,185.7C137.2,186.8 133.5,186.8 130.0,187.2C126.5,187.5 122.8,187.6 119.2,187.8"/>
<path d="M220.0,36.3C218.6,39.1 217.4,40.9 215.8,44.7C214.2,48.6 212.6,54.1 210.5,59.4C208.4,64.7 205.3,71.0 203.2,76.2C201.1,81.5 199.3,86.0 197.9,90.9C196.5,95.8 195.3,101.4 194.8,105.6C194.3,109.8 194.1,113.5 194.8,116.1C195.5,118.7 196.6,120.1 199.0,121.3C201.4,122.5 205.7,123.2 209.5,123.4C213.3,123.6 219.1,123.3 222.1,122.4C225.1,121.5 226.4,120.3 227.3,118.2C228.2,116.1 227.8,112.6 227.3,109.8C226.8,107.0 225.1,104.6 224.2,101.4C223.3,98.2 222.3,94.8 222.1,90.9C221.9,87.1 222.0,82.5 223.1,78.3C224.2,74.1 226.5,69.9 228.4,65.7C230.3,61.5 233.1,57.0 234.7,53.1C236.3,49.2 237.5,45.9 237.8,42.6C238.2,39.3 237.1,36.3 236.8,33.2"/>
<path d="M254.3,33.6C254.0,36.1 254.0,37.8 253.5,41.0C253.0,44.2 252.1,50.2 251.2,53.1C250.3,56.0 249.2,56.2 247.9,58.3C246.6,60.4 244.8,62.4 243.1,65.7C241.4,69.0 239.1,74.1 237.8,78.3C236.5,82.5 234.9,87.1 235.1,90.9C235.3,94.8 237.8,97.9 238.9,101.4C240.1,104.9 241.7,108.8 242.0,111.9C242.3,115.1 242.2,117.8 241.0,120.3C239.8,122.8 237.8,124.8 234.7,126.6C231.5,128.3 226.3,129.4 222.1,130.8C217.9,132.2 212.4,133.3 209.5,135.0C206.6,136.7 205.6,139.0 204.9,141.0C204.2,143.0 204.3,144.8 205.6,147.0C206.9,149.2 210.0,151.7 212.6,154.0C215.2,156.3 218.7,158.7 221.0,161.0C223.3,163.3 225.7,165.7 226.6,168.0C227.5,170.3 227.5,172.4 226.6,175.0C225.7,177.6 223.1,180.6 221.0,183.4C218.9,186.2 216.3,189.0 214.0,191.8C211.7,194.6 208.8,197.6 207.0,200.2C205.2,202.8 203.5,205.1 203.5,207.2C203.5,209.3 205.2,211.1 207.0,212.8C208.8,214.6 211.2,216.6 214.0,217.7C216.8,218.8 220.5,219.2 223.8,219.1C227.1,219.0 230.6,218.5 233.6,217.0C236.6,215.5 239.7,212.8 242.0,210.0C244.3,207.2 246.3,203.7 247.6,200.2C248.9,196.7 249.6,192.3 249.7,189.0C249.8,185.7 249.4,183.2 248.3,180.6C247.2,178.0 244.9,175.9 243.4,173.6C241.9,171.3 240.0,169.2 239.2,166.6C238.4,164.0 238.0,161.2 238.5,158.2C239.0,155.2 240.5,150.7 242.0,148.4C243.5,146.1 245.5,145.2 247.6,144.2C249.7,143.2 252.3,142.5 254.6,142.5C256.9,142.5 259.0,143.1 261.6,144.2C264.2,145.3 267.2,147.5 270.0,149.1C272.8,150.7 275.8,152.2 278.4,154.0C281.0,155.8 283.1,158.1 285.4,159.6C287.7,161.1 290.0,161.5 292.0,163.0C294.0,164.5 295.7,166.3 297.3,168.5C298.9,170.7 300.6,173.6 301.5,176.0C302.4,178.4 302.7,180.5 302.5,183.2C302.3,185.9 301.5,189.2 300.5,192.0C299.5,194.8 298.0,197.5 296.7,200.0C295.4,202.5 294.0,204.4 292.8,207.1C291.6,209.8 290.5,213.0 289.7,216.4C288.9,219.8 288.6,223.7 288.1,227.3C287.6,230.9 287.4,235.1 286.5,238.2C285.6,241.3 284.6,243.8 282.7,246.0C280.8,248.2 278.0,250.1 274.9,251.4C271.8,252.7 267.6,253.5 264.0,253.8C260.4,254.1 256.3,253.6 253.1,253.0C249.9,252.4 247.7,251.7 245.0,250.5C242.3,249.3 239.5,247.0 236.8,245.9C234.1,244.8 231.8,243.9 228.8,243.8C225.8,243.7 222.0,244.4 219.0,245.5C216.0,246.6 212.9,248.3 210.6,250.6C208.3,252.8 206.9,256.2 205.0,259.0C203.1,261.8 200.9,264.4 199.0,267.4C197.1,270.4 194.6,274.8 193.4,277.2C192.2,279.6 192.5,280.1 192.0,281.5"/>
<path d="M265.8,33.6C264.8,38.0 263.8,42.1 262.7,46.8C261.6,51.4 260.0,56.6 259.5,61.5C259.0,66.4 258.8,71.7 259.5,76.2C260.2,80.8 262.5,85.7 263.7,88.8C264.9,91.9 266.7,92.6 266.9,95.1C267.1,97.5 265.9,100.7 264.8,103.5C263.8,106.3 261.5,109.1 260.6,111.9C259.7,114.7 259.0,117.1 259.5,120.3C260.0,123.5 261.9,127.8 263.7,130.8C265.5,133.8 267.9,136.1 270.5,138.5C273.1,140.9 276.1,143.5 279.0,145.5C281.9,147.5 284.8,149.0 288.0,150.5C291.2,152.0 295.2,153.2 298.0,154.3C300.8,155.4 302.8,155.4 304.7,157.0C306.6,158.6 308.4,161.1 309.5,163.6C310.6,166.1 311.4,168.7 311.6,172.0C311.9,175.3 311.7,179.7 311.0,183.2C310.3,186.7 309.0,189.9 307.5,193.0C306.0,196.1 303.7,199.0 302.0,202.0C300.3,205.0 298.8,208.1 297.5,211.0C296.2,213.9 294.8,216.5 294.0,219.5C293.2,222.5 293.3,225.3 292.8,228.9C292.3,232.5 292.0,237.9 291.2,241.3C290.4,244.7 289.8,246.8 288.1,249.1C286.4,251.4 284.1,253.5 281.1,255.3C278.1,257.1 273.8,258.8 270.2,260.0C266.6,261.2 262.7,261.8 259.3,262.3C255.9,262.8 253.1,264.2 250.0,263.1C246.9,262.0 243.8,257.3 241.0,255.5C238.2,253.7 235.8,252.3 233.0,252.2C230.2,252.1 227.2,253.2 224.4,255.0C221.6,256.8 218.5,259.6 216.0,262.8C213.5,266.0 211.1,270.6 209.3,274.0C207.5,277.4 206.1,280.4 205.3,283.0C204.5,285.6 204.8,287.3 204.5,289.5"/>
<path d="M276.8,34.8C276.0,40.2 275.1,46.5 274.5,51.0C273.9,55.5 272.9,57.8 273.0,62.0C273.1,66.2 274.2,71.5 275.0,76.0C275.8,80.5 277.3,84.8 277.8,88.8C278.3,92.8 278.2,96.3 277.8,100.0C277.4,103.7 276.2,107.7 275.3,111.0C274.4,114.3 272.7,117.0 272.3,120.0C271.9,123.0 272.0,125.8 273.2,128.7C274.4,131.5 277.2,134.8 279.5,137.1C281.8,139.4 284.8,141.8 287.0,142.8C289.2,143.9 291.0,143.8 293.0,143.4C295.0,143.0 297.4,142.0 299.0,140.5C300.6,139.0 301.7,136.3 302.3,134.2C302.9,132.1 303.1,130.7 302.5,128.0C301.9,125.3 299.3,121.4 298.5,118.2C297.7,115.0 297.7,112.0 297.8,109.0C297.9,106.0 298.4,102.8 299.2,100.0C300.0,97.2 300.9,94.4 302.5,92.0C304.1,89.6 306.4,87.4 309.0,85.5C311.6,83.6 314.2,82.0 318.0,80.5C321.8,79.0 327.8,77.2 332.0,76.2C336.2,75.2 339.7,75.1 343.5,74.5"/>
<path d="M290.0,38.0C288.9,42.3 287.5,46.7 286.8,51.0C286.1,55.3 285.5,60.1 285.8,63.6C286.1,67.1 287.0,70.0 288.9,72.0C290.8,74.0 294.0,75.8 297.3,75.8C300.6,75.8 305.0,73.5 308.9,72.0C312.8,70.5 316.9,68.4 320.4,66.7C323.9,65.0 326.7,63.5 329.9,61.9"/>
<path d="M312.0,105.6C312.4,103.1 312.9,99.3 315.2,97.2C317.5,95.1 321.1,93.7 325.7,93.0C330.2,92.3 337.2,92.3 342.5,93.0C347.8,93.7 354.1,95.3 357.2,97.2C360.3,99.1 361.2,101.7 361.4,104.5C361.6,107.3 360.6,111.5 358.2,114.0C355.8,116.5 351.1,118.2 346.7,119.2C342.3,120.2 336.6,120.7 332.0,120.3C327.4,119.9 322.5,118.5 319.4,117.1C316.2,115.7 314.3,113.8 313.1,111.9C311.9,110.0 311.6,108.0 312.0,105.6Z"/>
<path d="M377.6,140.3C374.8,139.4 372.5,138.1 369.2,137.5C365.9,136.9 361.7,136.6 358.0,136.5C354.3,136.4 350.3,136.4 346.8,136.8C343.3,137.2 339.8,138.0 337.0,138.9C334.2,139.8 332.0,140.9 330.0,142.4C328.0,143.9 326.2,145.7 325.1,148.0C324.1,150.3 324.1,153.4 323.7,156.4C323.3,159.4 323.4,162.9 323.0,166.2C322.6,169.5 322.3,172.7 321.6,176.0C320.9,179.3 320.2,182.3 318.8,185.8C317.4,189.3 315.2,193.0 313.2,197.0C311.1,201.0 308.5,206.4 306.5,210.0C304.5,213.6 302.4,215.4 301.0,218.4C299.6,221.4 298.9,224.9 298.1,228.2C297.3,231.5 296.9,235.3 296.3,238.0C295.7,240.7 295.1,242.9 294.5,244.5C293.9,246.1 293.9,245.9 292.5,247.8C291.1,249.8 288.6,253.2 286.2,256.2C283.8,259.2 280.8,263.0 277.8,266.0C274.8,269.0 271.3,271.8 268.0,274.4C264.7,277.0 261.2,279.4 258.2,281.4C255.2,283.4 252.4,285.6 249.8,286.3C247.2,287.0 245.1,286.1 242.8,285.6C240.5,285.1 237.7,283.6 235.8,283.5C233.9,283.4 233.0,283.4 231.6,284.9C230.2,286.4 228.8,290.0 227.4,292.6"/>
<path d="M296.4,287.0C297.8,285.1 299.2,283.5 300.6,281.4C302.0,279.3 303.8,277.0 304.8,274.4C305.9,271.8 306.7,269.0 306.9,266.0C307.1,263.0 306.4,259.7 306.2,256.2C306.0,252.7 305.6,249.2 305.5,245.0C305.4,240.8 305.1,235.2 305.5,231.0C305.9,226.8 306.6,223.3 307.6,219.8C308.7,216.3 310.4,212.6 311.8,210.0C313.2,207.4 314.1,206.2 316.0,204.0C317.9,201.8 320.4,199.3 323.0,197.0C325.6,194.7 329.2,192.1 331.4,190.0C333.6,187.9 335.1,186.7 336.3,184.4C337.5,182.1 337.8,178.6 338.4,176.0C339.0,173.4 339.0,171.1 339.8,169.0C340.6,166.9 341.8,164.6 343.3,163.4C344.8,162.2 347.0,161.7 348.9,161.6C350.8,161.5 352.9,161.7 354.5,162.7C356.1,163.7 357.9,165.4 358.7,167.6C359.5,169.8 359.6,173.2 359.4,176.0C359.2,178.8 358.2,181.6 357.3,184.4C356.4,187.2 354.9,190.0 353.8,192.8C352.8,195.6 351.8,198.3 351.0,201.2C350.2,204.1 349.6,207.1 348.9,210.0C348.2,212.9 347.5,215.1 346.8,218.4C346.1,221.7 345.4,226.1 344.7,229.6C344.0,233.1 343.7,235.9 342.6,239.4C341.6,242.9 340.3,247.1 338.4,250.6C336.5,254.1 333.7,257.8 331.4,260.4C329.1,263.0 326.3,264.1 324.4,266.0C322.5,267.9 321.0,270.0 320.2,271.6C319.4,273.2 319.7,274.3 319.5,275.6"/>
<path d="M379.5,185.8C376.5,189.1 373.2,192.6 370.6,195.6C368.0,198.6 365.5,201.6 363.6,204.0C361.7,206.4 360.6,207.6 359.4,210.0C358.2,212.4 357.4,215.4 356.6,218.4C355.8,221.4 354.7,224.7 354.5,228.2C354.3,231.7 355.2,235.7 355.5,239.5"/>
<path d="M183.2,172.4C183.4,170.7 184.7,168.3 186.4,167.2C188.2,166.0 191.3,165.5 193.7,165.5C196.1,165.5 199.2,166.1 201.0,167.2C202.8,168.3 204.2,170.4 204.2,172.0C204.2,173.6 202.9,175.5 201.0,176.7C199.1,177.9 195.3,179.3 192.7,179.4C190.1,179.5 186.9,178.5 185.3,177.3C183.7,176.1 183.0,174.1 183.2,172.4Z"/>
<path d="M124.4,205.0C129.7,203.9 134.8,203.0 140.2,201.8C145.6,200.6 151.4,198.7 157.0,197.6C162.6,196.5 168.9,195.5 173.8,195.5C178.7,195.5 182.9,196.4 186.4,197.6C189.9,198.8 193.1,201.1 194.8,202.9C196.5,204.7 196.7,207.0 196.5,208.5C196.3,210.0 195.3,210.8 193.4,212.1C191.5,213.4 188.0,214.9 185.0,216.3C182.0,217.7 178.7,218.8 175.2,220.5C171.7,222.2 167.5,224.4 164.0,226.8C160.5,229.2 157.2,232.3 154.2,235.2C151.2,238.1 148.6,241.3 145.8,244.3"/>
<path d="M159.1,259.0C160.3,256.2 161.1,253.4 162.6,250.6C164.1,247.8 166.1,244.6 168.2,242.2C170.3,239.8 172.6,237.4 175.2,235.9C177.8,234.4 181.0,233.3 183.6,233.1C186.2,232.9 188.6,233.4 190.6,234.5C192.6,235.6 194.6,237.2 195.5,239.4C196.4,241.6 196.5,244.8 196.2,247.8C195.8,250.8 194.8,254.3 193.4,257.6C192.0,260.9 190.1,264.4 187.8,267.4C185.5,270.4 182.2,272.9 179.4,275.6"/>
<path d="M287.1,181.5C288.4,181.7 290.4,182.9 291.3,184.6C292.2,186.3 292.6,189.3 292.5,191.6C292.4,193.9 291.5,196.2 290.6,198.6C289.7,201.0 287.9,203.4 287.0,206.0C286.1,208.6 285.8,211.5 285.5,214.0C285.2,216.5 285.1,218.6 285.0,221.2C284.9,223.8 285.2,226.8 284.8,229.6C284.4,232.4 283.9,235.7 282.7,238.0C281.5,240.3 280.0,242.2 277.8,243.6C275.6,245.0 272.4,245.8 269.4,246.4C266.4,247.0 262.9,247.3 259.6,247.1C256.3,246.9 252.6,246.3 249.8,245.0C247.0,243.7 244.4,241.5 242.8,239.4C241.2,237.3 240.0,234.7 240.0,232.4C240.0,230.1 241.2,227.7 242.8,225.4C244.4,223.1 247.9,221.0 249.8,218.4C251.8,215.8 253.1,212.6 254.5,210.0C255.9,207.4 256.2,205.1 258.4,202.8C260.6,200.6 264.4,198.5 267.5,196.5C270.6,194.5 274.3,193.2 277.0,191.0C279.7,188.8 281.9,184.8 283.6,183.2C285.3,181.6 285.8,181.3 287.1,181.5Z"/>
<path d="M254.7,231.0C254.4,228.4 255.3,224.9 256.5,222.5C257.7,220.1 260.0,217.9 262.0,216.7C264.0,215.5 266.4,214.9 268.3,215.2C270.2,215.4 272.4,216.5 273.5,218.2C274.6,219.9 274.9,223.0 275.1,225.6C275.3,228.2 275.2,231.4 274.5,233.6C273.8,235.8 272.6,237.7 270.9,238.8C269.2,240.0 266.4,240.6 264.3,240.5C262.2,240.4 259.6,239.7 258.0,238.1C256.4,236.5 254.9,233.6 254.7,231.0Z"/>
</g>
<path d="M294.9,55.3l4,4m0,-4l-4,4M279.0,70.6l4,4m0,-4l-4,4M300.4,78.0l4,4m0,-4l-4,4M323.3,76.9l4,4m0,-4l-4,4M289.0,93.5l4,4m0,-4l-4,4M271.6,116.6l4,4m0,-4l-4,4M285.3,140.3l4,4m0,-4l-4,4M358.7,149.8l4,4m0,-4l-4,4M331.7,159.8l4,4m0,-4l-4,4M330.4,188.0l4,4m0,-4l-4,4M351.8,183.8l4,4m0,-4l-4,4M313.7,202.7l4,4m0,-4l-4,4M334.6,212.9l4,4m0,-4l-4,4M313.7,232.9l4,4m0,-4l-4,4M344.8,244.1l4,4m0,-4l-4,4M318.9,264.0l4,4m0,-4l-4,4M247.1,281.5l4,4m0,-4l-4,4M287.7,278.0l4,4m0,-4l-4,4M292.0,245.9l4,4m0,-4l-4,4" stroke="#222" stroke-width="0.8" fill="none"/>
<g shape-rendering="crispEdges">
<path fill="#3b18a9" d="M171.12 449.74H179.15V453.76H171.12zM171.12 445.73H187.18V449.74H171.12zM171.12 441.71H191.20V445.73H171.12zM171.12 437.70H195.21V441.71H171.12zM175.13 433.68H203.24V437.70H175.13zM175.13 429.67H207.26V433.68H175.13zM175.13 425.65H211.27V429.67H175.13zM175.13 421.63H211.27V425.65H175.13zM179.15 417.62H215.29V421.63H179.15zM183.17 413.60H215.29V417.62H183.17zM183.17 409.59H219.30V413.60H183.17zM187.18 405.57H223.32V409.59H187.18zM187.18 401.56H223.32V405.57H187.18zM191.20 397.54H219.30V401.56H191.20zM195.21 393.53H219.30V397.54H195.21zM195.21 389.51H219.30V393.53H195.21z"/>
<path fill="#3c1bb0" d="M179.15 449.74H183.17V453.76H179.15zM167.10 445.73H171.12V449.74H167.10zM191.20 441.71H195.21V445.73H191.20zM195.21 437.70H199.23V441.71H195.21zM171.12 433.68H175.13V437.70H171.12zM171.12 429.67H175.13V433.68H171.12zM211.27 421.63H215.29V425.65H211.27zM179.15 413.60H183.17V417.62H179.15zM215.29 413.60H219.30V417.62H215.29zM219.30 409.59H223.32V413.60H219.30zM183.17 405.57H187.18V409.59H183.17zM219.30 397.54H223.32V401.56H219.30zM191.20 393.53H195.21V397.54H191.20zM207.26 385.50H215.29V389.51H207.26z"/>
<path fill="#3d1eb6" d="M171.12 453.76H179.15V457.77H171.12zM167.10 449.74H171.12V453.76H167.10zM183.17 449.74H187.18V453.76H183.17zM187.18 445.73H191.20V449.74H187.18zM167.10 441.71H171.12V445.73H167.10zM167.10 437.70H171.12V441.71H167.10zM199.23 437.70H203.24V441.71H199.23zM203.24 433.68H207.26V437.70H203.24zM207.26 429.67H211.27V433.68H207.26zM171.12 425.65H175.13V429.67H171.12zM211.27 425.65H215.29V429.67H211.27zM175.13 417.62H179.15V421.63H175.13zM215.29 417.62H219.30V421.63H215.29zM219.30 413.60H223.32V417.62H219.30zM179.15 409.59H183.17V413.60H179.15zM187.18 397.54H191.20V401.56H187.18zM219.30 393.53H223.32V397.54H219.30zM203.24 385.50H207.26V389.51H203.24zM215.29 385.50H219.30V389.51H215.29z"/>
<path fill="#3f21bd" d="M167.10 457.77H179.15V461.79H167.10zM167.10 453.76H171.12V457.77H167.10zM179.15 453.76H183.17V457.77H179.15zM187.18 449.74H191.20V453.76H187.18zM191.20 445.73H195.21V449.74H191.20zM195.21 441.71H199.23V445.73H195.21zM167.10 433.68H171.12V437.70H167.10zM171.12 421.63H175.13V425.65H171.12zM215.29 421.63H219.30V425.65H215.29zM219.30 417.62H223.32V421.63H219.30zM183.17 401.56H187.18V405.57H183.17zM191.20 389.51H195.21V393.53H191.20zM219.30 389.51H223.32V393.53H219.30zM199.23 385.50H203.24V389.51H199.23z"/>
<path fill="#4024c4" d="M171.12 461.79H175.13V465.80H171.12zM179.15 457.77H183.17V461.79H179.15zM163.09 453.76H167.10V457.77H163.09zM183.17 453.76H187.18V457.77H183.17zM163.09 449.74H167.10V453.76H163.09zM163.09 445.73H167.10V449.74H163.09zM195.21 445.73H199.23V449.74H195.21zM163.09 441.71H167.10V445.73H163.09zM199.23 441.71H203.24V445.73H199.23zM163.09 437.70H167.10V441.71H163.09zM203.24 437.70H207.26V441.71H203.24zM207.26 433.68H211.27V437.70H207.26zM167.10 429.67H171.12V433.68H167.10zM211.27 429.67H215.29V433.68H211.27zM215.29 425.65H219.30V429.67H215.29zM219.30 421.63H223.32V425.65H219.30zM175.13 413.60H179.15V417.62H175.13zM223.32 413.60H227.33V417.62H223.32zM223.32 409.59H227.33V413.60H223.32zM179.15 405.57H183.17V409.59H179.15zM223.32 405.57H227.33V409.59H223.32zM223.32 401.56H227.33V405.57H223.32zM223.32 397.54H227.33V401.56H223.32zM187.18 393.53H191.20V397.54H187.18zM223.32 393.53H227.33V397.54H223.32zM223.32 389.51H227.33V393.53H223.32zM195.21 385.50H199.23V389.51H195.21zM219.30 385.50H227.33V389.51H219.30zM203.24 381.48H223.32V385.50H203.24z"/>
<path fill="#4128c9" d="M271.50 501.94H275.51V505.95H271.50zM167.10 461.79H171.12V465.80H167.10zM175.13 461.79H183.17V465.80H175.13zM163.09 457.77H167.10V461.79H163.09zM183.17 457.77H187.18V461.79H183.17zM187.18 453.76H191.20V457.77H187.18zM191.20 449.74H195.21V453.76H191.20zM163.09 433.68H167.10V437.70H163.09zM167.10 425.65H171.12V429.67H167.10zM223.32 417.62H227.33V421.63H223.32zM183.17 397.54H187.18V401.56H183.17zM191.20 385.50H195.21V389.51H191.20zM199.23 381.48H203.24V385.50H199.23zM223.32 381.48H227.33V385.50H223.32zM203.24 377.47H227.33V381.48H203.24zM211.27 373.45H223.32V377.47H211.27z"/>
<path fill="#432ccf" d="M267.48 501.94H271.50V505.95H267.48zM275.51 501.94H279.53V505.95H275.51zM263.47 497.92H275.51V501.94H263.47zM259.45 493.91H263.47V497.92H259.45zM167.10 465.80H179.15V469.82H167.10zM163.09 461.79H167.10V465.80H163.09zM159.07 457.77H163.09V461.79H159.07zM187.18 457.77H191.20V461.79H187.18zM159.07 453.76H163.09V457.77H159.07zM191.20 453.76H195.21V457.77H191.20zM159.07 449.74H163.09V453.76H159.07zM159.07 445.73H163.09V449.74H159.07zM159.07 441.71H163.09V445.73H159.07zM163.09 429.67H167.10V433.68H163.09zM219.30 425.65H223.32V429.67H219.30zM171.12 417.62H175.13V421.63H171.12zM175.13 409.59H179.15V413.60H175.13zM227.33 409.59H231.35V413.60H227.33zM227.33 405.57H231.35V409.59H227.33zM179.15 401.56H183.17V405.57H179.15zM227.33 401.56H231.35V405.57H227.33zM227.33 397.54H231.35V401.56H227.33zM227.33 393.53H231.35V397.54H227.33zM187.18 389.51H191.20V393.53H187.18zM227.33 389.51H231.35V393.53H227.33zM227.33 385.50H231.35V389.51H227.33zM195.21 381.48H199.23V385.50H195.21zM227.33 381.48H231.35V385.50H227.33zM199.23 377.47H203.24V381.48H199.23zM227.33 377.47H231.35V381.48H227.33zM203.24 373.45H211.27V377.47H203.24zM223.32 373.45H231.35V377.47H223.32zM207.26 369.44H235.36V373.45H207.26zM207.26 365.42H231.35V369.44H207.26zM211.27 361.41H231.35V365.42H211.27z"/>
<path fill="#4430d5" d="M271.50 505.95H279.53V509.97H271.50zM263.47 501.94H267.48V505.95H263.47zM259.45 497.92H263.47V501.94H259.45zM275.51 497.92H279.53V501.94H275.51zM263.47 493.91H271.50V497.92H263.47zM163.09 465.80H167.10V469.82H163.09zM179.15 465.80H183.17V469.82H179.15zM159.07 461.79H163.09V465.80H159.07zM183.17 461.79H187.18V465.80H183.17zM195.21 449.74H199.23V453.76H195.21zM199.23 445.73H203.24V449.74H199.23zM203.24 441.71H207.26V445.73H203.24zM159.07 437.70H163.09V441.71H159.07zM207.26 437.70H211.27V441.71H207.26zM211.27 433.68H215.29V437.70H211.27zM215.29 429.67H219.30V433.68H215.29zM167.10 421.63H171.12V425.65H167.10zM223.32 421.63H227.33V425.65H223.32zM227.33 413.60H231.35V417.62H227.33zM183.17 393.53H187.18V397.54H183.17zM231.35 393.53H235.36V397.54H231.35zM231.35 389.51H235.36V393.53H231.35zM231.35 385.50H235.36V389.51H231.35zM231.35 381.48H235.36V385.50H231.35zM195.21 377.47H199.23V381.48H195.21zM231.35 377.47H239.38V381.48H231.35zM199.23 373.45H203.24V377.47H199.23zM231.35 373.45H243.39V377.47H231.35zM203.24 369.44H207.26V373.45H203.24zM235.36 369.44H267.48V373.45H235.36zM203.24 365.42H207.26V369.44H203.24zM231.35 365.42H267.48V369.44H231.35zM231.35 361.41H267.48V365.42H231.35z"/>
<path fill="#4533da" d="M267.48 505.95H271.50V509.97H267.48zM259.45 501.94H263.47V505.95H259.45zM279.53 501.94H283.54V505.95H279.53zM255.44 497.92H259.45V501.94H255.44zM255.44 493.91H259.45V497.92H255.44zM271.50 493.91H275.51V497.92H271.50zM259.45 489.89H267.48V493.91H259.45zM163.09 469.82H183.17V473.83H163.09zM159.07 465.80H163.09V469.82H159.07zM183.17 465.80H187.18V469.82H183.17zM155.06 461.79H159.07V465.80H155.06zM187.18 461.79H191.20V465.80H187.18zM155.06 457.77H159.07V461.79H155.06zM191.20 457.77H195.21V461.79H191.20zM155.06 453.76H159.07V457.77H155.06zM155.06 449.74H159.07V453.76H155.06zM155.06 445.73H159.07V449.74H155.06zM155.06 441.71H159.07V445.73H155.06zM159.07 433.68H163.09V437.70H159.07zM163.09 425.65H167.10V429.67H163.09zM227.33 417.62H231.35V421.63H227.33zM231.35 405.57H235.36V409.59H231.35zM231.35 401.56H235.36V405.57H231.35zM231.35 397.54H235.36V401.56H231.35zM235.36 389.51H239.38V393.53H235.36zM187.18 385.50H191.20V389.51H187.18zM235.36 385.50H239.38V389.51H235.36zM279.53 385.50H287.56V389.51H279.53zM191.20 381.48H195.21V385.50H191.20zM235.36 381.48H243.39V385.50H235.36zM279.53 381.48H287.56V385.50H279.53zM239.38 377.47H247.41V381.48H239.38zM243.39 373.45H271.50V377.47H243.39zM199.23 369.44H203.24V373.45H199.23zM267.48 369.44H275.51V373.45H267.48zM199.23 365.42H203.24V369.44H199.23zM267.48 365.42H275.51V369.44H267.48zM267.48 361.41H279.53V365.42H267.48z"/>
<path fill="#4638df" d="M267.48 509.97H279.53V513.98H267.48zM263.47 505.95H267.48V509.97H263.47zM279.53 505.95H283.54V509.97H279.53zM255.44 501.94H259.45V505.95H255.44zM279.53 497.92H283.54V501.94H279.53zM275.51 493.91H279.53V497.92H275.51zM255.44 489.89H259.45V493.91H255.44zM267.48 489.89H275.51V493.91H267.48zM163.09 473.83H179.15V477.85H163.09zM159.07 469.82H163.09V473.83H159.07zM183.17 469.82H187.18V473.83H183.17zM155.06 465.80H159.07V469.82H155.06zM187.18 465.80H191.20V469.82H187.18zM151.04 461.79H155.06V465.80H151.04zM151.04 457.77H155.06V461.79H151.04zM151.04 453.76H155.06V457.77H151.04zM195.21 453.76H199.23V457.77H195.21zM151.04 449.74H155.06V453.76H151.04zM199.23 449.74H203.24V453.76H199.23zM203.24 445.73H207.26V449.74H203.24zM155.06 437.70H159.07V441.71H155.06zM159.07 429.67H163.09V433.68H159.07zM219.30 429.67H223.32V433.68H219.30zM223.32 425.65H227.33V429.67H223.32zM171.12 413.60H175.13V417.62H171.12zM231.35 409.59H235.36V413.60H231.35zM175.13 405.57H179.15V409.59H175.13zM179.15 397.54H183.17V401.56H179.15zM235.36 397.54H239.38V401.56H235.36zM235.36 393.53H239.38V397.54H235.36zM183.17 389.51H187.18V393.53H183.17zM279.53 389.51H287.56V393.53H279.53zM239.38 385.50H243.39V389.51H239.38zM275.51 385.50H279.53V389.51H275.51zM287.56 385.50H291.57V389.51H287.56zM243.39 381.48H247.41V385.50H243.39zM271.50 381.48H279.53V385.50H271.50zM287.56 381.48H291.57V385.50H287.56zM247.41 377.47H287.56V381.48H247.41zM195.21 373.45H199.23V377.47H195.21zM271.50 373.45H287.56V377.47H271.50zM195.21 369.44H199.23V373.45H195.21zM275.51 369.44H287.56V373.45H275.51zM275.51 365.42H287.56V369.44H275.51z"/>
<path fill="#473de0" d="M263.47 509.97H267.48V513.98H263.47zM279.53 509.97H283.54V513.98H279.53zM259.45 505.95H263.47V509.97H259.45zM283.54 505.95H287.56V509.97H283.54zM283.54 501.94H287.56V505.95H283.54zM251.42 497.92H255.44V501.94H251.42zM283.54 497.92H287.56V501.94H283.54zM251.42 493.91H255.44V497.92H251.42zM279.53 493.91H283.54V497.92H279.53zM251.42 489.89H255.44V493.91H251.42zM275.51 489.89H279.53V493.91H275.51zM255.44 485.88H271.50V489.89H255.44zM159.07 477.85H179.15V481.86H159.07zM155.06 473.83H163.09V477.85H155.06zM179.15 473.83H187.18V477.85H179.15zM151.04 469.82H159.07V473.83H151.04zM187.18 469.82H191.20V473.83H187.18zM151.04 465.80H155.06V469.82H151.04zM147.03 461.79H151.04V465.80H147.03zM191.20 461.79H195.21V465.80H191.20zM147.03 457.77H151.04V461.79H147.03zM195.21 457.77H199.23V461.79H195.21zM147.03 453.76H151.04V457.77H147.03zM151.04 445.73H155.06V449.74H151.04zM151.04 441.71H155.06V445.73H151.04zM207.26 441.71H211.27V445.73H207.26zM211.27 437.70H215.29V441.71H211.27zM155.06 433.68H159.07V437.70H155.06zM215.29 433.68H219.30V437.70H215.29zM227.33 421.63H231.35V425.65H227.33zM167.10 417.62H171.12V421.63H167.10zM231.35 413.60H235.36V417.62H231.35zM235.36 405.57H239.38V409.59H235.36zM235.36 401.56H239.38V405.57H235.36zM279.53 393.53H287.56V397.54H279.53zM239.38 389.51H243.39V393.53H239.38zM275.51 389.51H279.53V393.53H275.51zM287.56 389.51H291.57V393.53H287.56zM271.50 385.50H275.51V389.51H271.50zM291.57 385.50H295.59V389.51H291.57zM187.18 381.48H191.20V385.50H187.18zM247.41 381.48H271.50V385.50H247.41zM291.57 381.48H295.59V385.50H291.57zM191.20 377.47H195.21V381.48H191.20zM287.56 377.47H295.59V381.48H287.56zM287.56 373.45H295.59V377.47H287.56zM287.56 369.44H295.59V373.45H287.56zM287.56 365.42H291.57V369.44H287.56z"/>
<path fill="#4842e2" d="M267.48 513.98H283.54V518.00H267.48zM259.45 509.97H263.47V513.98H259.45zM283.54 509.97H287.56V513.98H283.54zM255.44 505.95H259.45V509.97H255.44zM251.42 501.94H255.44V505.95H251.42zM287.56 501.94H291.57V505.95H287.56zM247.41 497.92H251.42V501.94H247.41zM287.56 497.92H291.57V501.94H287.56zM247.41 493.91H251.42V497.92H247.41zM283.54 493.91H287.56V497.92H283.54zM247.41 489.89H251.42V493.91H247.41zM279.53 489.89H287.56V493.91H279.53zM167.10 485.88H175.13V489.89H167.10zM251.42 485.88H255.44V489.89H251.42zM271.50 485.88H279.53V489.89H271.50zM155.06 481.86H183.17V485.88H155.06zM255.44 481.86H271.50V485.88H255.44zM151.04 477.85H159.07V481.86H151.04zM179.15 477.85H187.18V481.86H179.15zM147.03 473.83H155.06V477.85H147.03zM187.18 473.83H191.20V477.85H187.18zM147.03 469.82H151.04V473.83H147.03zM143.01 465.80H151.04V469.82H143.01zM191.20 465.80H195.21V469.82H191.20zM143.01 461.79H147.03V465.80H143.01zM143.01 457.77H147.03V461.79H143.01zM199.23 453.76H203.24V457.77H199.23zM147.03 449.74H151.04V453.76H147.03zM147.03 445.73H151.04V449.74H147.03zM151.04 437.70H155.06V441.71H151.04zM159.07 425.65H163.09V429.67H159.07zM163.09 421.63H167.10V425.65H163.09zM231.35 417.62H235.36V421.63H231.35zM235.36 409.59H239.38V413.60H235.36zM175.13 401.56H179.15V405.57H175.13zM239.38 397.54H243.39V401.56H239.38zM283.54 397.54H287.56V401.56H283.54zM179.15 393.53H183.17V397.54H179.15zM239.38 393.53H243.39V397.54H239.38zM275.51 393.53H279.53V397.54H275.51zM287.56 393.53H295.59V397.54H287.56zM271.50 389.51H275.51V393.53H271.50zM291.57 389.51H295.59V393.53H291.57zM183.17 385.50H187.18V389.51H183.17zM243.39 385.50H251.42V389.51H243.39zM263.47 385.50H271.50V389.51H263.47zM295.59 385.50H299.60V389.51H295.59zM295.59 381.48H299.60V385.50H295.59zM295.59 377.47H299.60V381.48H295.59zM191.20 373.45H195.21V377.47H191.20zM295.59 373.45H299.60V377.47H295.59zM191.20 369.44H195.21V373.45H191.20zM295.59 369.44H299.60V373.45H295.59z"/>
<path fill="#4948e4" d="M271.50 518.00H283.54V522.01H271.50zM263.47 513.98H267.48V518.00H263.47zM283.54 513.98H287.56V518.00H283.54zM255.44 509.97H259.45V513.98H255.44zM287.56 509.97H291.57V513.98H287.56zM251.42 505.95H255.44V509.97H251.42zM287.56 505.95H291.57V509.97H287.56zM247.41 501.94H251.42V505.95H247.41zM291.57 501.94H295.59V505.95H291.57zM243.39 497.92H247.41V501.94H243.39zM291.57 497.92H295.59V501.94H291.57zM243.39 493.91H247.41V497.92H243.39zM287.56 493.91H295.59V497.92H287.56zM155.06 489.89H183.17V493.91H155.06zM243.39 489.89H247.41V493.91H243.39zM287.56 489.89H291.57V493.91H287.56zM147.03 485.88H167.10V489.89H147.03zM175.13 485.88H187.18V489.89H175.13zM243.39 485.88H251.42V489.89H243.39zM279.53 485.88H283.54V489.89H279.53zM143.01 481.86H155.06V485.88H143.01zM183.17 481.86H191.20V485.88H183.17zM243.39 481.86H255.44V485.88H243.39zM271.50 481.86H275.51V485.88H271.50zM139.00 477.85H151.04V481.86H139.00zM187.18 477.85H191.20V481.86H187.18zM247.41 477.85H271.50V481.86H247.41zM139.00 473.83H147.03V477.85H139.00zM191.20 473.83H195.21V477.85H191.20zM139.00 469.82H147.03V473.83H139.00zM191.20 469.82H195.21V473.83H191.20zM139.00 465.80H143.01V469.82H139.00zM139.00 461.79H143.01V465.80H139.00zM195.21 461.79H199.23V465.80H195.21zM139.00 457.77H143.01V461.79H139.00zM143.01 453.76H147.03V457.77H143.01zM143.01 449.74H147.03V453.76H143.01zM203.24 449.74H207.26V453.76H203.24zM207.26 445.73H211.27V449.74H207.26zM147.03 441.71H151.04V445.73H147.03zM211.27 441.71H215.29V445.73H211.27zM151.04 433.68H155.06V437.70H151.04zM219.30 433.68H223.32V437.70H219.30zM155.06 429.67H159.07V433.68H155.06zM223.32 429.67H227.33V433.68H223.32zM227.33 425.65H231.35V429.67H227.33zM231.35 421.63H235.36V425.65H231.35zM235.36 413.60H239.38V417.62H235.36zM171.12 409.59H175.13V413.60H171.12zM239.38 405.57H243.39V409.59H239.38zM239.38 401.56H243.39V405.57H239.38zM279.53 401.56H291.57V405.57H279.53zM175.13 397.54H179.15V401.56H175.13zM275.51 397.54H283.54V401.56H275.51zM287.56 397.54H299.60V401.56H287.56zM271.50 393.53H275.51V397.54H271.50zM295.59 393.53H299.60V397.54H295.59zM179.15 389.51H183.17V393.53H179.15zM243.39 389.51H247.41V393.53H243.39zM263.47 389.51H271.50V393.53H263.47zM295.59 389.51H303.62V393.53H295.59zM251.42 385.50H263.47V389.51H251.42zM299.60 385.50H303.62V389.51H299.60zM299.60 381.48H303.62V385.50H299.60zM187.18 377.47H191.20V381.48H187.18zM299.60 377.47H303.62V381.48H299.60zM299.60 373.45H303.62V377.47H299.60z"/>
<path fill="#4a4de6" d="M271.50 522.01H287.56V526.03H271.50zM263.47 518.00H271.50V522.01H263.47zM283.54 518.00H291.57V522.01H283.54zM259.45 513.98H263.47V518.00H259.45zM287.56 513.98H295.59V518.00H287.56zM251.42 509.97H255.44V513.98H251.42zM291.57 509.97H295.59V513.98H291.57zM247.41 505.95H251.42V509.97H247.41zM291.57 505.95H299.60V509.97H291.57zM167.10 501.94H191.20V505.95H167.10zM243.39 501.94H247.41V505.95H243.39zM295.59 501.94H299.60V505.95H295.59zM151.04 497.92H195.21V501.94H151.04zM239.38 497.92H243.39V501.94H239.38zM295.59 497.92H299.60V501.94H295.59zM143.01 493.91H195.21V497.92H143.01zM235.36 493.91H243.39V497.92H235.36zM295.59 493.91H299.60V497.92H295.59zM139.00 489.89H155.06V493.91H139.00zM183.17 489.89H195.21V493.91H183.17zM235.36 489.89H243.39V493.91H235.36zM291.57 489.89H299.60V493.91H291.57zM134.98 485.88H147.03V489.89H134.98zM187.18 485.88H195.21V489.89H187.18zM235.36 485.88H243.39V489.89H235.36zM283.54 485.88H295.59V489.89H283.54zM130.97 481.86H143.01V485.88H130.97zM191.20 481.86H199.23V485.88H191.20zM235.36 481.86H243.39V485.88H235.36zM275.51 481.86H283.54V485.88H275.51zM126.95 477.85H139.00V481.86H126.95zM191.20 477.85H199.23V481.86H191.20zM235.36 477.85H247.41V481.86H235.36zM271.50 477.85H275.51V481.86H271.50zM126.95 473.83H139.00V477.85H126.95zM195.21 473.83H199.23V477.85H195.21zM239.38 473.83H271.50V477.85H239.38zM130.97 469.82H139.00V473.83H130.97zM195.21 469.82H199.23V473.83H195.21zM243.39 469.82H267.48V473.83H243.39zM130.97 465.80H139.00V469.82H130.97zM195.21 465.80H199.23V469.82H195.21zM247.41 465.80H259.45V469.82H247.41zM130.97 461.79H139.00V465.80H130.97zM134.98 457.77H139.00V461.79H134.98zM199.23 457.77H203.24V461.79H199.23zM134.98 453.76H143.01V457.77H134.98zM203.24 453.76H207.26V457.77H203.24zM139.00 449.74H143.01V453.76H139.00zM143.01 445.73H147.03V449.74H143.01zM143.01 441.71H147.03V445.73H143.01zM147.03 437.70H151.04V441.71H147.03zM215.29 437.70H219.30V441.71H215.29zM151.04 429.67H155.06V433.68H151.04zM155.06 425.65H159.07V429.67H155.06zM159.07 421.63H163.09V425.65H159.07zM163.09 417.62H167.10V421.63H163.09zM235.36 417.62H239.38V421.63H235.36zM167.10 413.60H171.12V417.62H167.10zM239.38 413.60H243.39V417.62H239.38zM239.38 409.59H243.39V413.60H239.38zM283.54 409.59H295.59V413.60H283.54zM171.12 405.57H175.13V409.59H171.12zM279.53 405.57H303.62V409.59H279.53zM271.50 401.56H279.53V405.57H271.50zM291.57 401.56H303.62V405.57H291.57zM243.39 397.54H247.41V401.56H243.39zM267.48 397.54H275.51V401.56H267.48zM299.60 397.54H307.63V401.56H299.60zM243.39 393.53H247.41V397.54H243.39zM263.47 393.53H271.50V397.54H263.47zM299.60 393.53H307.63V397.54H299.60zM247.41 389.51H251.42V393.53H247.41zM255.44 389.51H263.47V393.53H255.44zM303.62 389.51H307.63V393.53H303.62zM303.62 385.50H307.63V389.51H303.62zM183.17 381.48H187.18V385.50H183.17zM303.62 381.48H307.63V385.50H303.62zM303.62 377.47H307.63V381.48H303.62zM187.18 373.45H191.20V377.47H187.18zM303.62 373.45H307.63V377.47H303.62z"/>
<path fill="#4b52e5" d="M275.51 526.03H283.54V530.04H275.51zM263.47 522.01H271.50V526.03H263.47zM287.56 522.01H291.57V526.03H287.56zM183.17 518.00H207.26V522.01H183.17zM255.44 518.00H263.47V522.01H255.44zM291.57 518.00H295.59V522.01H291.57zM175.13 513.98H211.27V518.00H175.13zM251.42 513.98H259.45V518.00H251.42zM295.59 513.98H299.60V518.00H295.59zM163.09 509.97H211.27V513.98H163.09zM243.39 509.97H251.42V513.98H243.39zM295.59 509.97H299.60V513.98H295.59zM151.04 505.95H211.27V509.97H151.04zM235.36 505.95H247.41V509.97H235.36zM299.60 505.95H303.62V509.97H299.60zM139.00 501.94H167.10V505.95H139.00zM191.20 501.94H207.26V505.95H191.20zM231.35 501.94H243.39V505.95H231.35zM299.60 501.94H303.62V505.95H299.60zM130.97 497.92H151.04V501.94H130.97zM195.21 497.92H207.26V501.94H195.21zM227.33 497.92H239.38V501.94H227.33zM299.60 497.92H307.63V501.94H299.60zM126.95 493.91H143.01V497.92H126.95zM195.21 493.91H207.26V497.92H195.21zM227.33 493.91H235.36V497.92H227.33zM299.60 493.91H311.65V497.92H299.60zM126.95 489.89H139.00V493.91H126.95zM195.21 489.89H207.26V493.91H195.21zM223.32 489.89H235.36V493.91H223.32zM299.60 489.89H311.65V493.91H299.60zM126.95 485.88H134.98V489.89H126.95zM195.21 485.88H203.24V489.89H195.21zM223.32 485.88H235.36V489.89H223.32zM295.59 485.88H319.68V489.89H295.59zM122.94 481.86H130.97V485.88H122.94zM199.23 481.86H203.24V485.88H199.23zM227.33 481.86H235.36V485.88H227.33zM283.54 481.86H327.71V485.88H283.54zM122.94 477.85H126.95V481.86H122.94zM199.23 477.85H203.24V481.86H199.23zM227.33 477.85H235.36V481.86H227.33zM275.51 477.85H287.56V481.86H275.51zM295.59 477.85H335.74V481.86H295.59zM199.23 473.83H203.24V477.85H199.23zM227.33 473.83H239.38V477.85H227.33zM271.50 473.83H279.53V477.85H271.50zM303.62 473.83H339.76V477.85H303.62zM126.95 469.82H130.97V473.83H126.95zM199.23 469.82H203.24V473.83H199.23zM227.33 469.82H243.39V473.83H227.33zM267.48 469.82H275.51V473.83H267.48zM311.65 469.82H343.77V473.83H311.65zM126.95 465.80H130.97V469.82H126.95zM199.23 465.80H203.24V469.82H199.23zM227.33 465.80H247.41V469.82H227.33zM259.45 465.80H271.50V469.82H259.45zM315.67 465.80H339.76V469.82H315.67zM126.95 461.79H130.97V465.80H126.95zM199.23 461.79H203.24V465.80H199.23zM231.35 461.79H267.48V465.80H231.35zM319.68 461.79H339.76V465.80H319.68zM130.97 457.77H134.98V461.79H130.97zM203.24 457.77H207.26V461.79H203.24zM235.36 457.77H267.48V461.79H235.36zM323.70 457.77H335.74V461.79H323.70zM239.38 453.76H263.47V457.77H239.38zM134.98 449.74H139.00V453.76H134.98zM207.26 449.74H211.27V453.76H207.26zM243.39 449.74H259.45V453.76H243.39zM139.00 445.73H143.01V449.74H139.00zM211.27 445.73H215.29V449.74H211.27zM139.00 441.71H143.01V445.73H139.00zM215.29 441.71H219.30V445.73H215.29zM143.01 437.70H147.03V441.71H143.01zM219.30 437.70H223.32V441.71H219.30zM147.03 433.68H151.04V437.70H147.03zM223.32 433.68H227.33V437.70H223.32zM227.33 429.67H231.35V433.68H227.33zM231.35 425.65H235.36V429.67H231.35zM235.36 421.63H239.38V425.65H235.36zM239.38 417.62H243.39V421.63H239.38zM279.53 417.62H303.62V421.63H279.53zM275.51 413.60H307.63V417.62H275.51zM243.39 409.59H247.41V413.60H243.39zM271.50 409.59H283.54V413.60H271.50zM295.59 409.59H307.63V413.60H295.59zM243.39 405.57H247.41V409.59H243.39zM267.48 405.57H279.53V409.59H267.48zM303.62 405.57H307.63V409.59H303.62zM243.39 401.56H251.42V405.57H243.39zM263.47 401.56H271.50V405.57H263.47zM303.62 401.56H311.65V405.57H303.62zM247.41 397.54H267.48V401.56H247.41zM307.63 397.54H311.65V401.56H307.63zM175.13 393.53H179.15V397.54H175.13zM247.41 393.53H263.47V397.54H247.41zM307.63 393.53H311.65V397.54H307.63zM251.42 389.51H255.44V393.53H251.42zM307.63 389.51H311.65V393.53H307.63zM179.15 385.50H183.17V389.51H179.15zM307.63 385.50H311.65V389.51H307.63zM179.15 381.48H183.17V385.50H179.15zM307.63 381.48H311.65V385.50H307.63zM183.17 377.47H187.18V381.48H183.17zM307.63 377.47H311.65V381.48H307.63zM183.17 373.45H187.18V377.47H183.17z"/>
<path fill="#4c58e4" d="M267.48 526.03H275.51V530.04H267.48zM283.54 526.03H287.56V530.04H283.54zM191.20 522.01H203.24V526.03H191.20zM259.45 522.01H263.47V526.03H259.45zM291.57 522.01H295.59V526.03H291.57zM179.15 518.00H183.17V522.01H179.15zM207.26 518.00H211.27V522.01H207.26zM251.42 518.00H255.44V522.01H251.42zM167.10 513.98H175.13V518.00H167.10zM211.27 513.98H215.29V518.00H211.27zM243.39 513.98H251.42V518.00H243.39zM155.06 509.97H163.09V513.98H155.06zM211.27 509.97H215.29V513.98H211.27zM235.36 509.97H243.39V513.98H235.36zM299.60 509.97H303.62V513.98H299.60zM139.00 505.95H151.04V509.97H139.00zM211.27 505.95H215.29V509.97H211.27zM227.33 505.95H235.36V509.97H227.33zM130.97 501.94H139.00V505.95H130.97zM207.26 501.94H211.27V505.95H207.26zM227.33 501.94H231.35V505.95H227.33zM303.62 501.94H307.63V505.95H303.62zM126.95 497.92H130.97V501.94H126.95zM207.26 497.92H211.27V501.94H207.26zM223.32 497.92H227.33V501.94H223.32zM307.63 497.92H311.65V501.94H307.63zM207.26 493.91H211.27V497.92H207.26zM223.32 493.91H227.33V497.92H223.32zM122.94 489.89H126.95V493.91H122.94zM207.26 489.89H211.27V493.91H207.26zM311.65 489.89H315.67V493.91H311.65zM122.94 485.88H126.95V489.89H122.94zM203.24 485.88H207.26V489.89H203.24zM319.68 485.88H327.71V489.89H319.68zM203.24 481.86H207.26V485.88H203.24zM223.32 481.86H227.33V485.88H223.32zM327.71 481.86H335.74V485.88H327.71zM203.24 477.85H207.26V481.86H203.24zM223.32 477.85H227.33V481.86H223.32zM287.56 477.85H295.59V481.86H287.56zM335.74 477.85H339.76V481.86H335.74zM122.94 473.83H126.95V477.85H122.94zM203.24 473.83H207.26V477.85H203.24zM223.32 473.83H227.33V477.85H223.32zM279.53 473.83H287.56V477.85H279.53zM299.60 473.83H303.62V477.85H299.60zM339.76 473.83H343.77V477.85H339.76zM122.94 469.82H126.95V473.83H122.94zM203.24 469.82H207.26V473.83H203.24zM223.32 469.82H227.33V473.83H223.32zM275.51 469.82H279.53V473.83H275.51zM307.63 469.82H311.65V473.83H307.63zM203.24 465.80H207.26V469.82H203.24zM271.50 465.80H275.51V469.82H271.50zM311.65 465.80H315.67V469.82H311.65zM339.76 465.80H343.77V469.82H339.76zM203.24 461.79H207.26V465.80H203.24zM227.33 461.79H231.35V465.80H227.33zM267.48 461.79H271.50V465.80H267.48zM315.67 461.79H319.68V465.80H315.67zM339.76 461.79H343.77V465.80H339.76zM227.33 457.77H235.36V461.79H227.33zM267.48 457.77H271.50V461.79H267.48zM319.68 457.77H323.70V461.79H319.68zM335.74 457.77H339.76V461.79H335.74zM130.97 453.76H134.98V457.77H130.97zM207.26 453.76H211.27V457.77H207.26zM231.35 453.76H239.38V457.77H231.35zM263.47 453.76H267.48V457.77H263.47zM323.70 453.76H331.73V457.77H323.70zM211.27 449.74H215.29V453.76H211.27zM235.36 449.74H243.39V453.76H235.36zM259.45 449.74H263.47V453.76H259.45zM134.98 445.73H139.00V449.74H134.98zM215.29 445.73H219.30V449.74H215.29zM239.38 445.73H263.47V449.74H239.38zM134.98 441.71H139.00V445.73H134.98zM219.30 441.71H223.32V445.73H219.30zM139.00 437.70H143.01V441.71H139.00zM143.01 433.68H147.03V437.70H143.01zM227.33 433.68H231.35V437.70H227.33zM147.03 429.67H151.04V433.68H147.03zM231.35 429.67H235.36V433.68H231.35zM151.04 425.65H155.06V429.67H151.04zM235.36 425.65H239.38V429.67H235.36zM239.38 421.63H243.39V425.65H239.38zM279.53 421.63H299.60V425.65H279.53zM275.51 417.62H279.53V421.63H275.51zM303.62 417.62H307.63V421.63H303.62zM163.09 413.60H167.10V417.62H163.09zM243.39 413.60H247.41V417.62H243.39zM267.48 413.60H275.51V417.62H267.48zM167.10 409.59H171.12V413.60H167.10zM247.41 409.59H251.42V413.60H247.41zM263.47 409.59H271.50V413.60H263.47zM307.63 409.59H311.65V413.60H307.63zM247.41 405.57H267.48V409.59H247.41zM307.63 405.57H311.65V409.59H307.63zM171.12 401.56H175.13V405.57H171.12zM251.42 401.56H263.47V405.57H251.42zM175.13 389.51H179.15V393.53H175.13zM311.65 381.48H315.67V385.50H311.65zM179.15 377.47H183.17V381.48H179.15zM311.65 377.47H315.67V381.48H311.65z"/>
<path fill="#4d5ee4" d="M263.47 526.03H267.48V530.04H263.47zM287.56 526.03H291.57V530.04H287.56zM183.17 522.01H191.20V526.03H183.17zM203.24 522.01H211.27V526.03H203.24zM255.44 522.01H259.45V526.03H255.44zM175.13 518.00H179.15V522.01H175.13zM211.27 518.00H215.29V522.01H211.27zM243.39 518.00H251.42V522.01H243.39zM295.59 518.00H299.60V522.01H295.59zM159.07 513.98H167.10V518.00H159.07zM215.29 513.98H219.30V518.00H215.29zM231.35 513.98H243.39V518.00H231.35zM143.01 509.97H155.06V513.98H143.01zM215.29 509.97H235.36V513.98H215.29zM130.97 505.95H139.00V509.97H130.97zM215.29 505.95H227.33V509.97H215.29zM303.62 505.95H307.63V509.97H303.62zM126.95 501.94H130.97V505.95H126.95zM211.27 501.94H215.29V505.95H211.27zM223.32 501.94H227.33V505.95H223.32zM122.94 497.92H126.95V501.94H122.94zM122.94 493.91H126.95V497.92H122.94zM219.30 493.91H223.32V497.92H219.30zM311.65 493.91H315.67V497.92H311.65zM211.27 489.89H215.29V493.91H211.27zM219.30 489.89H223.32V493.91H219.30zM315.67 489.89H319.68V493.91H315.67zM207.26 485.88H211.27V489.89H207.26zM219.30 485.88H223.32V489.89H219.30zM327.71 485.88H331.73V489.89H327.71zM207.26 481.86H211.27V485.88H207.26zM335.74 481.86H339.76V485.88H335.74zM207.26 477.85H211.27V481.86H207.26zM339.76 477.85H343.77V481.86H339.76zM287.56 473.83H299.60V477.85H287.56zM279.53 469.82H283.54V473.83H279.53zM303.62 469.82H307.63V473.83H303.62zM343.77 469.82H347.79V473.83H343.77zM122.94 465.80H126.95V469.82H122.94zM223.32 465.80H227.33V469.82H223.32zM275.51 465.80H279.53V469.82H275.51zM307.63 465.80H311.65V469.82H307.63zM343.77 465.80H347.79V469.82H343.77zM223.32 461.79H227.33V465.80H223.32zM271.50 461.79H275.51V465.80H271.50zM311.65 461.79H315.67V465.80H311.65zM126.95 457.77H130.97V461.79H126.95zM207.26 457.77H211.27V461.79H207.26zM223.32 457.77H227.33V461.79H223.32zM315.67 457.77H319.68V461.79H315.67zM211.27 453.76H215.29V457.77H211.27zM223.32 453.76H231.35V457.77H223.32zM267.48 453.76H271.50V457.77H267.48zM319.68 453.76H323.70V457.77H319.68zM331.73 453.76H335.74V457.77H331.73zM130.97 449.74H134.98V453.76H130.97zM215.29 449.74H235.36V453.76H215.29zM263.47 449.74H267.48V453.76H263.47zM130.97 445.73H134.98V449.74H130.97zM219.30 445.73H223.32V449.74H219.30zM235.36 445.73H239.38V449.74H235.36zM263.47 445.73H267.48V449.74H263.47zM239.38 441.71H259.45V445.73H239.38zM223.32 437.70H227.33V441.71H223.32zM231.35 433.68H235.36V437.70H231.35zM235.36 429.67H239.38V433.68H235.36zM155.06 421.63H159.07V425.65H155.06zM271.50 421.63H279.53V425.65H271.50zM299.60 421.63H303.62V425.65H299.60zM159.07 417.62H163.09V421.63H159.07zM243.39 417.62H247.41V421.63H243.39zM267.48 417.62H275.51V421.63H267.48zM247.41 413.60H255.44V417.62H247.41zM263.47 413.60H267.48V417.62H263.47zM307.63 413.60H311.65V417.62H307.63zM251.42 409.59H263.47V413.60H251.42zM167.10 405.57H171.12V409.59H167.10zM311.65 401.56H315.67V405.57H311.65zM171.12 397.54H175.13V401.56H171.12zM311.65 397.54H315.67V401.56H311.65zM311.65 393.53H315.67V397.54H311.65zM311.65 389.51H315.67V393.53H311.65zM175.13 385.50H179.15V389.51H175.13zM311.65 385.50H315.67V389.51H311.65zM175.13 381.48H179.15V385.50H175.13zM175.13 377.47H179.15V381.48H175.13z"/>
<path fill="#4e64e3" d="M271.50 530.04H283.54V534.06H271.50zM195.21 526.03H207.26V530.04H195.21zM259.45 526.03H263.47V530.04H259.45zM179.15 522.01H183.17V526.03H179.15zM211.27 522.01H215.29V526.03H211.27zM247.41 522.01H255.44V526.03H247.41zM171.12 518.00H175.13V522.01H171.12zM215.29 518.00H243.39V522.01H215.29zM151.04 513.98H159.07V518.00H151.04zM219.30 513.98H231.35V518.00H219.30zM299.60 513.98H303.62V518.00H299.60zM134.98 509.97H143.01V513.98H134.98zM126.95 505.95H130.97V509.97H126.95zM122.94 501.94H126.95V505.95H122.94zM215.29 501.94H223.32V505.95H215.29zM307.63 501.94H311.65V505.95H307.63zM118.92 497.92H122.94V501.94H118.92zM211.27 497.92H215.29V501.94H211.27zM219.30 497.92H223.32V501.94H219.30zM311.65 497.92H315.67V501.94H311.65zM118.92 493.91H122.94V497.92H118.92zM211.27 493.91H215.29V497.92H211.27zM315.67 493.91H319.68V497.92H315.67zM215.29 489.89H219.30V493.91H215.29zM319.68 489.89H323.70V493.91H319.68zM211.27 485.88H219.30V489.89H211.27zM331.73 485.88H335.74V489.89H331.73zM118.92 481.86H122.94V485.88H118.92zM211.27 481.86H215.29V485.88H211.27zM219.30 481.86H223.32V485.88H219.30zM118.92 477.85H122.94V481.86H118.92zM118.92 473.83H122.94V477.85H118.92zM207.26 473.83H211.27V477.85H207.26zM219.30 473.83H223.32V477.85H219.30zM343.77 473.83H347.79V477.85H343.77zM207.26 469.82H211.27V473.83H207.26zM219.30 469.82H223.32V473.83H219.30zM283.54 469.82H287.56V473.83H283.54zM295.59 469.82H303.62V473.83H295.59zM207.26 465.80H211.27V469.82H207.26zM219.30 465.80H223.32V469.82H219.30zM303.62 465.80H307.63V469.82H303.62zM122.94 461.79H126.95V465.80H122.94zM207.26 461.79H211.27V465.80H207.26zM275.51 461.79H279.53V465.80H275.51zM343.77 461.79H347.79V465.80H343.77zM271.50 457.77H275.51V461.79H271.50zM311.65 457.77H315.67V461.79H311.65zM339.76 457.77H343.77V461.79H339.76zM215.29 453.76H223.32V457.77H215.29zM315.67 453.76H319.68V457.77H315.67zM335.74 453.76H339.76V457.77H335.74zM267.48 449.74H271.50V453.76H267.48zM323.70 449.74H331.73V453.76H323.70zM223.32 445.73H235.36V449.74H223.32zM267.48 445.73H271.50V449.74H267.48zM130.97 441.71H134.98V445.73H130.97zM223.32 441.71H227.33V445.73H223.32zM235.36 441.71H239.38V445.73H235.36zM259.45 441.71H267.48V445.73H259.45zM134.98 437.70H139.00V441.71H134.98zM227.33 437.70H231.35V441.71H227.33zM235.36 437.70H263.47V441.71H235.36zM139.00 433.68H143.01V437.70H139.00zM235.36 433.68H239.38V437.70H235.36zM143.01 429.67H147.03V433.68H143.01zM147.03 425.65H151.04V429.67H147.03zM239.38 425.65H243.39V429.67H239.38zM271.50 425.65H299.60V429.67H271.50zM243.39 421.63H247.41V425.65H243.39zM267.48 421.63H271.50V425.65H267.48zM303.62 421.63H307.63V425.65H303.62zM247.41 417.62H251.42V421.63H247.41zM263.47 417.62H267.48V421.63H263.47zM307.63 417.62H311.65V421.63H307.63zM255.44 413.60H263.47V417.62H255.44zM311.65 409.59H315.67V413.60H311.65zM311.65 405.57H315.67V409.59H311.65zM171.12 393.53H175.13V397.54H171.12zM315.67 385.50H319.68V389.51H315.67zM315.67 381.48H319.68V385.50H315.67z"/>
<path fill="#4f69e1" d="M267.48 530.04H271.50V534.06H267.48zM283.54 530.04H287.56V534.06H283.54zM187.18 526.03H195.21V530.04H187.18zM207.26 526.03H215.29V530.04H207.26zM255.44 526.03H259.45V530.04H255.44zM175.13 522.01H179.15V526.03H175.13zM215.29 522.01H247.41V526.03H215.29zM295.59 522.01H299.60V526.03H295.59zM159.07 518.00H171.12V522.01H159.07zM139.00 513.98H151.04V518.00H139.00zM122.94 509.97H134.98V513.98H122.94zM303.62 509.97H307.63V513.98H303.62zM114.91 505.95H126.95V509.97H114.91zM114.91 501.94H122.94V505.95H114.91zM114.91 497.92H118.92V501.94H114.91zM215.29 497.92H219.30V501.94H215.29zM114.91 493.91H118.92V497.92H114.91zM215.29 493.91H219.30V497.92H215.29zM118.92 489.89H122.94V493.91H118.92zM323.70 489.89H327.71V493.91H323.70zM118.92 485.88H122.94V489.89H118.92zM335.74 485.88H339.76V489.89H335.74zM215.29 481.86H219.30V485.88H215.29zM339.76 481.86H343.77V485.88H339.76zM211.27 477.85H215.29V481.86H211.27zM219.30 477.85H223.32V481.86H219.30zM343.77 477.85H347.79V481.86H343.77zM211.27 473.83H219.30V477.85H211.27zM211.27 469.82H219.30V473.83H211.27zM287.56 469.82H295.59V473.83H287.56zM347.79 469.82H351.80V473.83H347.79zM211.27 465.80H219.30V469.82H211.27zM279.53 465.80H283.54V469.82H279.53zM347.79 465.80H351.80V469.82H347.79zM219.30 461.79H223.32V465.80H219.30zM307.63 461.79H311.65V465.80H307.63zM211.27 457.77H215.29V461.79H211.27zM219.30 457.77H223.32V461.79H219.30zM343.77 457.77H347.79V461.79H343.77zM271.50 453.76H275.51V457.77H271.50zM339.76 453.76H343.77V457.77H339.76zM271.50 449.74H275.51V453.76H271.50zM319.68 449.74H323.70V453.76H319.68zM331.73 449.74H335.74V453.76H331.73zM227.33 441.71H235.36V445.73H227.33zM267.48 441.71H271.50V445.73H267.48zM130.97 437.70H134.98V441.71H130.97zM231.35 437.70H235.36V441.71H231.35zM263.47 437.70H271.50V441.71H263.47zM239.38 433.68H275.51V437.70H239.38zM239.38 429.67H243.39V433.68H239.38zM267.48 429.67H287.56V433.68H267.48zM267.48 425.65H271.50V429.67H267.48zM299.60 425.65H307.63V429.67H299.60zM151.04 421.63H155.06V425.65H151.04zM247.41 421.63H251.42V425.65H247.41zM263.47 421.63H267.48V425.65H263.47zM307.63 421.63H311.65V425.65H307.63zM251.42 417.62H263.47V421.63H251.42zM159.07 413.60H163.09V417.62H159.07zM311.65 413.60H315.67V417.62H311.65zM163.09 409.59H167.10V413.60H163.09zM167.10 401.56H171.12V405.57H167.10zM315.67 393.53H319.68V397.54H315.67zM171.12 389.51H175.13V393.53H171.12zM315.67 389.51H319.68V393.53H315.67zM171.12 381.48H175.13V385.50H171.12z"/>
<path fill="#5070df" d="M199.23 530.04H211.27V534.06H199.23zM263.47 530.04H267.48V534.06H263.47zM179.15 526.03H187.18V530.04H179.15zM215.29 526.03H227.33V530.04H215.29zM247.41 526.03H255.44V530.04H247.41zM291.57 526.03H295.59V530.04H291.57zM147.03 518.00H159.07V522.01H147.03zM299.60 518.00H303.62V522.01H299.60zM122.94 513.98H139.00V518.00H122.94zM114.91 509.97H122.94V513.98H114.91zM307.63 505.95H311.65V509.97H307.63zM319.68 493.91H323.70V497.92H319.68zM114.91 489.89H118.92V493.91H114.91zM327.71 489.89H331.73V493.91H327.71zM339.76 485.88H343.77V489.89H339.76zM114.91 481.86H118.92V485.88H114.91zM343.77 481.86H347.79V485.88H343.77zM114.91 477.85H118.92V481.86H114.91zM215.29 477.85H219.30V481.86H215.29zM347.79 477.85H351.80V481.86H347.79zM347.79 473.83H351.80V477.85H347.79zM118.92 469.82H122.94V473.83H118.92zM118.92 465.80H122.94V469.82H118.92zM283.54 465.80H287.56V469.82H283.54zM299.60 465.80H303.62V469.82H299.60zM211.27 461.79H219.30V465.80H211.27zM279.53 461.79H283.54V465.80H279.53zM347.79 461.79H351.80V465.80H347.79zM122.94 457.77H126.95V461.79H122.94zM215.29 457.77H219.30V461.79H215.29zM275.51 457.77H279.53V461.79H275.51zM307.63 457.77H311.65V461.79H307.63zM311.65 453.76H315.67V457.77H311.65zM315.67 449.74H319.68V453.76H315.67zM335.74 449.74H339.76V453.76H335.74zM126.95 445.73H130.97V449.74H126.95zM271.50 445.73H275.51V449.74H271.50zM319.68 445.73H331.73V449.74H319.68zM126.95 441.71H130.97V445.73H126.95zM271.50 441.71H275.51V445.73H271.50zM126.95 437.70H130.97V441.71H126.95zM271.50 437.70H275.51V441.71H271.50zM134.98 433.68H139.00V437.70H134.98zM275.51 433.68H283.54V437.70H275.51zM243.39 429.67H267.48V433.68H243.39zM287.56 429.67H299.60V433.68H287.56zM243.39 425.65H251.42V429.67H243.39zM263.47 425.65H267.48V429.67H263.47zM307.63 425.65H311.65V429.67H307.63zM251.42 421.63H255.44V425.65H251.42zM259.45 421.63H263.47V425.65H259.45zM311.65 421.63H315.67V425.65H311.65zM155.06 417.62H159.07V421.63H155.06zM311.65 417.62H315.67V421.63H311.65zM315.67 405.57H319.68V409.59H315.67zM315.67 401.56H319.68V405.57H315.67zM315.67 397.54H319.68V401.56H315.67zM171.12 385.50H175.13V389.51H171.12zM319.68 385.50H323.70V389.51H319.68z"/>
<path fill="#5177dc" d="M187.18 530.04H199.23V534.06H187.18zM211.27 530.04H227.33V534.06H211.27zM259.45 530.04H263.47V534.06H259.45zM287.56 530.04H291.57V534.06H287.56zM227.33 526.03H247.41V530.04H227.33zM151.04 522.01H167.10V526.03H151.04zM171.12 522.01H175.13V526.03H171.12zM114.91 518.00H118.92V522.01H114.91zM126.95 518.00H147.03V522.01H126.95zM114.91 513.98H122.94V518.00H114.91zM303.62 513.98H307.63V518.00H303.62zM311.65 501.94H315.67V505.95H311.65zM315.67 497.92H319.68V501.94H315.67zM323.70 493.91H327.71V497.92H323.70zM331.73 489.89H335.74V493.91H331.73zM114.91 485.88H118.92V489.89H114.91zM114.91 473.83H118.92V477.85H114.91zM351.80 473.83H355.82V477.85H351.80zM351.80 469.82H355.82V473.83H351.80zM287.56 465.80H299.60V469.82H287.56zM351.80 465.80H355.82V469.82H351.80zM118.92 461.79H122.94V465.80H118.92zM303.62 461.79H307.63V465.80H303.62zM347.79 457.77H351.80V461.79H347.79zM126.95 453.76H130.97V457.77H126.95zM275.51 453.76H279.53V457.77H275.51zM343.77 453.76H347.79V457.77H343.77zM126.95 449.74H130.97V453.76H126.95zM275.51 449.74H279.53V453.76H275.51zM311.65 449.74H315.67V453.76H311.65zM339.76 449.74H343.77V453.76H339.76zM122.94 445.73H126.95V449.74H122.94zM275.51 445.73H279.53V449.74H275.51zM315.67 445.73H319.68V449.74H315.67zM331.73 445.73H335.74V449.74H331.73zM122.94 441.71H126.95V445.73H122.94zM275.51 441.71H279.53V445.73H275.51zM319.68 441.71H327.71V445.73H319.68zM122.94 437.70H126.95V441.71H122.94zM275.51 437.70H279.53V441.71H275.51zM126.95 433.68H134.98V437.70H126.95zM283.54 433.68H287.56V437.70H283.54zM139.00 429.67H143.01V433.68H139.00zM299.60 429.67H311.65V433.68H299.60zM143.01 425.65H147.03V429.67H143.01zM251.42 425.65H263.47V429.67H251.42zM311.65 425.65H315.67V429.67H311.65zM255.44 421.63H259.45V425.65H255.44zM315.67 417.62H319.68V421.63H315.67zM315.67 413.60H319.68V417.62H315.67zM315.67 409.59H319.68V413.60H315.67zM163.09 405.57H167.10V409.59H163.09zM167.10 397.54H171.12V401.56H167.10zM319.68 389.51H323.70V393.53H319.68z"/>
<path fill="#537dda" d="M199.23 534.06H227.33V538.07H199.23zM267.48 534.06H283.54V538.07H267.48zM183.17 530.04H187.18V534.06H183.17zM227.33 530.04H243.39V534.06H227.33zM247.41 530.04H259.45V534.06H247.41zM175.13 526.03H179.15V530.04H175.13zM114.91 522.01H118.92V526.03H114.91zM143.01 522.01H151.04V526.03H143.01zM167.10 522.01H171.12V526.03H167.10zM118.92 518.00H126.95V522.01H118.92zM319.68 497.92H323.70V501.94H319.68zM327.71 493.91H331.73V497.92H327.71zM335.74 489.89H339.76V493.91H335.74zM343.77 485.88H347.79V489.89H343.77zM347.79 481.86H351.80V485.88H347.79zM351.80 477.85H355.82V481.86H351.80zM114.91 469.82H118.92V473.83H114.91zM114.91 465.80H118.92V469.82H114.91zM114.91 461.79H118.92V465.80H114.91zM283.54 461.79H287.56V465.80H283.54zM299.60 461.79H303.62V465.80H299.60zM351.80 461.79H355.82V465.80H351.80zM114.91 457.77H122.94V461.79H114.91zM279.53 457.77H283.54V461.79H279.53zM351.80 457.77H355.82V461.79H351.80zM122.94 453.76H126.95V457.77H122.94zM307.63 453.76H311.65V457.77H307.63zM347.79 453.76H351.80V457.77H347.79zM122.94 449.74H126.95V453.76H122.94zM343.77 449.74H347.79V453.76H343.77zM118.92 445.73H122.94V449.74H118.92zM311.65 445.73H315.67V449.74H311.65zM335.74 445.73H339.76V449.74H335.74zM311.65 441.71H319.68V445.73H311.65zM327.71 441.71H335.74V445.73H327.71zM279.53 437.70H283.54V441.71H279.53zM311.65 437.70H323.70V441.71H311.65zM287.56 433.68H319.68V437.70H287.56zM126.95 429.67H130.97V433.68H126.95zM134.98 429.67H139.00V433.68H134.98zM311.65 429.67H319.68V433.68H311.65zM315.67 425.65H319.68V429.67H315.67zM147.03 421.63H151.04V425.65H147.03zM315.67 421.63H319.68V425.65H315.67zM155.06 413.60H159.07V417.62H155.06zM159.07 409.59H163.09V413.60H159.07zM319.68 401.56H323.70V405.57H319.68zM319.68 397.54H323.70V401.56H319.68zM167.10 393.53H171.12V397.54H167.10zM319.68 393.53H323.70V397.54H319.68zM323.70 385.50H327.71V389.51H323.70z"/>
<path fill="#5484d7" d="M207.26 538.07H227.33V542.09H207.26zM191.20 534.06H199.23V538.07H191.20zM227.33 534.06H235.36V538.07H227.33zM259.45 534.06H267.48V538.07H259.45zM175.13 530.04H183.17V534.06H175.13zM243.39 530.04H247.41V534.06H243.39zM143.01 526.03H175.13V530.04H143.01zM295.59 526.03H299.60V530.04H295.59zM118.92 522.01H143.01V526.03H118.92zM299.60 522.01H303.62V526.03H299.60zM307.63 509.97H311.65V513.98H307.63zM311.65 505.95H315.67V509.97H311.65zM315.67 501.94H319.68V505.95H315.67zM331.73 493.91H335.74V497.92H331.73zM339.76 489.89H343.77V493.91H339.76zM347.79 485.88H351.80V489.89H347.79zM351.80 481.86H355.82V485.88H351.80zM355.82 477.85H359.83V481.86H355.82zM355.82 473.83H359.83V477.85H355.82zM355.82 469.82H359.83V473.83H355.82zM355.82 465.80H359.83V469.82H355.82zM355.82 461.79H359.83V465.80H355.82zM303.62 457.77H307.63V461.79H303.62zM118.92 453.76H122.94V457.77H118.92zM279.53 453.76H283.54V457.77H279.53zM351.80 453.76H355.82V457.77H351.80zM118.92 449.74H122.94V453.76H118.92zM279.53 449.74H283.54V453.76H279.53zM307.63 449.74H311.65V453.76H307.63zM347.79 449.74H351.80V453.76H347.79zM279.53 445.73H283.54V449.74H279.53zM307.63 445.73H311.65V449.74H307.63zM339.76 445.73H343.77V449.74H339.76zM279.53 441.71H283.54V445.73H279.53zM307.63 441.71H311.65V445.73H307.63zM335.74 441.71H339.76V445.73H335.74zM283.54 437.70H287.56V441.71H283.54zM307.63 437.70H311.65V441.71H307.63zM323.70 437.70H331.73V441.71H323.70zM319.68 433.68H327.71V437.70H319.68zM130.97 429.67H134.98V433.68H130.97zM319.68 429.67H323.70V433.68H319.68zM139.00 425.65H143.01V429.67H139.00zM319.68 425.65H323.70V429.67H319.68zM319.68 421.63H323.70V425.65H319.68zM151.04 417.62H155.06V421.63H151.04zM319.68 417.62H323.70V421.63H319.68zM319.68 413.60H323.70V417.62H319.68zM319.68 409.59H323.70V413.60H319.68zM319.68 405.57H323.70V409.59H319.68zM163.09 401.56H167.10V405.57H163.09zM167.10 389.51H171.12V393.53H167.10zM323.70 389.51H327.71V393.53H323.70z"/>
<path fill="#558ad3" d="M207.26 542.09H227.33V546.10H207.26zM199.23 538.07H207.26V542.09H199.23zM227.33 538.07H235.36V542.09H227.33zM183.17 534.06H191.20V538.07H183.17zM235.36 534.06H243.39V538.07H235.36zM255.44 534.06H259.45V538.07H255.44zM283.54 534.06H287.56V538.07H283.54zM143.01 530.04H175.13V534.06H143.01zM291.57 530.04H295.59V534.06H291.57zM118.92 526.03H143.01V530.04H118.92zM303.62 518.00H307.63V522.01H303.62zM323.70 497.92H327.71V501.94H323.70zM335.74 493.91H339.76V497.92H335.74zM343.77 489.89H347.79V493.91H343.77zM351.80 485.88H355.82V489.89H351.80zM355.82 481.86H359.83V485.88H355.82zM359.83 477.85H363.85V481.86H359.83zM359.83 473.83H363.85V477.85H359.83zM359.83 469.82H363.85V473.83H359.83zM359.83 465.80H363.85V469.82H359.83zM287.56 461.79H299.60V465.80H287.56zM359.83 461.79H363.85V465.80H359.83zM283.54 457.77H287.56V461.79H283.54zM355.82 457.77H359.83V461.79H355.82zM303.62 453.76H307.63V457.77H303.62zM355.82 453.76H359.83V457.77H355.82zM351.80 449.74H355.82V453.76H351.80zM343.77 445.73H347.79V449.74H343.77zM283.54 441.71H287.56V445.73H283.54zM339.76 441.71H343.77V445.73H339.76zM287.56 437.70H291.57V441.71H287.56zM299.60 437.70H307.63V441.71H299.60zM331.73 437.70H335.74V441.71H331.73zM327.71 433.68H331.73V437.70H327.71zM323.70 429.67H327.71V433.68H323.70zM134.98 425.65H139.00V429.67H134.98zM143.01 421.63H147.03V425.65H143.01zM159.07 405.57H163.09V409.59H159.07zM323.70 393.53H327.71V397.54H323.70zM167.10 385.50H171.12V389.51H167.10z"/>
<path fill="#558fce" d="M207.26 546.10H231.35V550.12H207.26zM203.24 542.09H207.26V546.10H203.24zM227.33 542.09H235.36V546.10H227.33zM191.20 538.07H199.23V542.09H191.20zM235.36 538.07H239.38V542.09H235.36zM267.48 538.07H279.53V542.09H267.48zM143.01 534.06H183.17V538.07H143.01zM243.39 534.06H255.44V538.07H243.39zM287.56 534.06H291.57V538.07H287.56zM118.92 530.04H143.01V534.06H118.92zM307.63 513.98H311.65V518.00H307.63zM311.65 509.97H315.67V513.98H311.65zM315.67 505.95H319.68V509.97H315.67zM319.68 501.94H323.70V505.95H319.68zM327.71 497.92H335.74V501.94H327.71zM339.76 493.91H347.79V497.92H339.76zM347.79 489.89H355.82V493.91H347.79zM355.82 485.88H359.83V489.89H355.82zM359.83 481.86H363.85V485.88H359.83zM363.85 477.85H367.86V481.86H363.85zM363.85 473.83H371.88V477.85H363.85zM363.85 469.82H371.88V473.83H363.85zM363.85 465.80H371.88V469.82H363.85zM363.85 461.79H367.86V465.80H363.85zM299.60 457.77H303.62V461.79H299.60zM359.83 457.77H363.85V461.79H359.83zM283.54 453.76H287.56V457.77H283.54zM359.83 453.76H363.85V457.77H359.83zM303.62 449.74H307.63V453.76H303.62zM355.82 449.74H359.83V453.76H355.82zM283.54 445.73H287.56V449.74H283.54zM303.62 445.73H307.63V449.74H303.62zM347.79 445.73H351.80V449.74H347.79zM303.62 441.71H307.63V445.73H303.62zM343.77 441.71H347.79V445.73H343.77zM291.57 437.70H299.60V441.71H291.57zM335.74 437.70H339.76V441.71H335.74zM331.73 433.68H335.74V437.70H331.73zM327.71 429.67H331.73V433.68H327.71zM130.97 425.65H134.98V429.67H130.97zM323.70 425.65H327.71V429.67H323.70zM139.00 421.63H143.01V425.65H139.00zM323.70 421.63H327.71V425.65H323.70zM147.03 417.62H151.04V421.63H147.03zM323.70 417.62H327.71V421.63H323.70zM151.04 413.60H155.06V417.62H151.04zM323.70 413.60H327.71V417.62H323.70zM155.06 409.59H159.07V413.60H155.06zM323.70 409.59H327.71V413.60H323.70zM323.70 405.57H327.71V409.59H323.70zM323.70 401.56H327.71V405.57H323.70zM163.09 397.54H167.10V401.56H163.09zM323.70 397.54H327.71V401.56H323.70z"/>
<path fill="#5694c9" d="M219.30 558.15H231.35V562.17H219.30zM211.27 554.13H235.36V558.15H211.27zM207.26 550.12H235.36V554.13H207.26zM203.24 546.10H207.26V550.12H203.24zM231.35 546.10H239.38V550.12H231.35zM195.21 542.09H203.24V546.10H195.21zM235.36 542.09H239.38V546.10H235.36zM143.01 538.07H163.09V542.09H143.01zM179.15 538.07H191.20V542.09H179.15zM239.38 538.07H247.41V542.09H239.38zM255.44 538.07H267.48V542.09H255.44zM279.53 538.07H283.54V542.09H279.53zM118.92 534.06H122.94V538.07H118.92zM126.95 534.06H143.01V538.07H126.95zM295.59 530.04H299.60V534.06H295.59zM299.60 526.03H303.62V530.04H299.60zM323.70 501.94H327.71V505.95H323.70zM335.74 497.92H339.76V501.94H335.74zM347.79 493.91H355.82V497.92H347.79zM355.82 489.89H363.85V493.91H355.82zM359.83 485.88H367.86V489.89H359.83zM363.85 481.86H371.88V485.88H363.85zM367.86 477.85H375.89V481.86H367.86zM371.88 473.83H375.89V477.85H371.88zM371.88 469.82H375.89V473.83H371.88zM371.88 465.80H375.89V469.82H371.88zM367.86 461.79H375.89V465.80H367.86zM287.56 457.77H291.57V461.79H287.56zM295.59 457.77H299.60V461.79H295.59zM363.85 457.77H371.88V461.79H363.85zM363.85 453.76H367.86V457.77H363.85zM283.54 449.74H287.56V453.76H283.54zM359.83 449.74H363.85V453.76H359.83zM351.80 445.73H359.83V449.74H351.80zM287.56 441.71H291.57V445.73H287.56zM299.60 441.71H303.62V445.73H299.60zM347.79 441.71H351.80V445.73H347.79zM339.76 437.70H343.77V441.71H339.76zM335.74 433.68H339.76V437.70H335.74zM331.73 429.67H335.74V433.68H331.73zM327.71 425.65H331.73V429.67H327.71zM134.98 421.63H139.00V425.65H134.98zM327.71 421.63H331.73V425.65H327.71zM143.01 417.62H147.03V421.63H143.01zM147.03 413.60H151.04V417.62H147.03zM159.07 401.56H163.09V405.57H159.07zM163.09 393.53H167.10V397.54H163.09zM327.71 389.51H331.73V393.53H327.71z"/>
<path fill="#579ac4" d="M219.30 566.18H231.35V570.20H219.30zM211.27 562.17H235.36V566.18H211.27zM207.26 558.15H219.30V562.17H207.26zM231.35 558.15H239.38V562.17H231.35zM203.24 554.13H211.27V558.15H203.24zM235.36 554.13H239.38V558.15H235.36zM199.23 550.12H207.26V554.13H199.23zM235.36 550.12H243.39V554.13H235.36zM195.21 546.10H203.24V550.12H195.21zM239.38 546.10H243.39V550.12H239.38zM187.18 542.09H195.21V546.10H187.18zM239.38 542.09H247.41V546.10H239.38zM126.95 538.07H143.01V542.09H126.95zM163.09 538.07H179.15V542.09H163.09zM247.41 538.07H255.44V542.09H247.41zM283.54 538.07H287.56V542.09H283.54zM122.94 534.06H126.95V538.07H122.94zM291.57 534.06H295.59V538.07H291.57zM303.62 522.01H307.63V526.03H303.62zM307.63 518.00H311.65V522.01H307.63zM311.65 513.98H315.67V518.00H311.65zM315.67 509.97H319.68V513.98H315.67zM319.68 505.95H323.70V509.97H319.68zM327.71 501.94H335.74V505.95H327.71zM339.76 497.92H347.79V501.94H339.76zM355.82 493.91H363.85V497.92H355.82zM363.85 489.89H371.88V493.91H363.85zM367.86 485.88H375.89V489.89H367.86zM371.88 481.86H375.89V485.88H371.88zM291.57 457.77H295.59V461.79H291.57zM371.88 457.77H375.89V461.79H371.88zM299.60 453.76H303.62V457.77H299.60zM367.86 453.76H371.88V457.77H367.86zM299.60 449.74H303.62V453.76H299.60zM363.85 449.74H371.88V453.76H363.85zM287.56 445.73H291.57V449.74H287.56zM299.60 445.73H303.62V449.74H299.60zM359.83 445.73H363.85V449.74H359.83zM291.57 441.71H299.60V445.73H291.57zM351.80 441.71H359.83V445.73H351.80zM343.77 437.70H347.79V441.71H343.77zM339.76 433.68H343.77V437.70H339.76zM335.74 429.67H339.76V433.68H335.74zM331.73 425.65H335.74V429.67H331.73zM130.97 421.63H134.98V425.65H130.97zM134.98 417.62H143.01V421.63H134.98zM327.71 417.62H331.73V421.63H327.71zM143.01 413.60H147.03V417.62H143.01zM327.71 413.60H331.73V417.62H327.71zM151.04 409.59H155.06V413.60H151.04zM327.71 409.59H331.73V413.60H327.71zM155.06 405.57H159.07V409.59H155.06zM159.07 397.54H163.09V401.56H159.07zM327.71 397.54H331.73V401.56H327.71zM327.71 393.53H331.73V397.54H327.71zM163.09 389.51H167.10V393.53H163.09zM163.09 385.50H167.10V389.51H163.09z"/>
<path fill="#589fc0" d="M215.29 566.18H219.30V570.20H215.29zM231.35 566.18H235.36V570.20H231.35zM207.26 562.17H211.27V566.18H207.26zM235.36 562.17H239.38V566.18H235.36zM203.24 558.15H207.26V562.17H203.24zM239.38 558.15H243.39V562.17H239.38zM199.23 554.13H203.24V558.15H199.23zM239.38 554.13H243.39V558.15H239.38zM195.21 550.12H199.23V554.13H195.21zM187.18 546.10H195.21V550.12H187.18zM243.39 546.10H247.41V550.12H243.39zM134.98 542.09H187.18V546.10H134.98zM247.41 542.09H275.51V546.10H247.41zM122.94 538.07H126.95V542.09H122.94zM287.56 538.07H291.57V542.09H287.56zM323.70 505.95H327.71V509.97H323.70zM335.74 501.94H339.76V505.95H335.74zM347.79 497.92H359.83V501.94H347.79zM363.85 493.91H371.88V497.92H363.85zM371.88 489.89H375.89V493.91H371.88zM287.56 453.76H291.57V457.77H287.56zM287.56 449.74H291.57V453.76H287.56zM363.85 445.73H367.86V449.74H363.85zM347.79 437.70H351.80V441.71H347.79zM339.76 429.67H343.77V433.68H339.76zM335.74 425.65H339.76V429.67H335.74zM331.73 421.63H335.74V425.65H331.73zM331.73 417.62H335.74V421.63H331.73zM139.00 413.60H143.01V417.62H139.00zM147.03 409.59H151.04V413.60H147.03zM327.71 405.57H331.73V409.59H327.71zM155.06 401.56H159.07V405.57H155.06zM327.71 401.56H331.73V405.57H327.71zM159.07 393.53H163.09V397.54H159.07zM159.07 389.51H163.09V393.53H159.07z"/>
<path fill="#58a3b8" d="M219.30 570.20H227.33V574.21H219.30zM211.27 566.18H215.29V570.20H211.27zM191.20 550.12H195.21V554.13H191.20zM243.39 550.12H247.41V554.13H243.39zM155.06 546.10H163.09V550.12H155.06zM179.15 546.10H187.18V550.12H179.15zM247.41 546.10H251.42V550.12H247.41zM122.94 542.09H134.98V546.10H122.94zM275.51 542.09H279.53V546.10H275.51zM295.59 534.06H299.60V538.07H295.59zM299.60 530.04H303.62V534.06H299.60zM303.62 526.03H307.63V530.04H303.62zM307.63 522.01H311.65V526.03H307.63zM311.65 518.00H315.67V522.01H311.65zM315.67 513.98H319.68V518.00H315.67zM319.68 509.97H323.70V513.98H319.68zM327.71 505.95H331.73V509.97H327.71zM339.76 501.94H347.79V505.95H339.76zM359.83 497.92H363.85V501.94H359.83zM371.88 493.91H375.89V497.92H371.88zM295.59 453.76H299.60V457.77H295.59zM291.57 445.73H299.60V449.74H291.57zM367.86 445.73H371.88V449.74H367.86zM359.83 441.71H363.85V445.73H359.83zM351.80 437.70H355.82V441.71H351.80zM343.77 433.68H347.79V437.70H343.77zM335.74 421.63H339.76V425.65H335.74zM331.73 413.60H335.74V417.62H331.73zM139.00 409.59H147.03V413.60H139.00zM151.04 405.57H155.06V409.59H151.04zM155.06 397.54H159.07V401.56H155.06zM155.06 393.53H159.07V397.54H155.06zM331.73 393.53H335.74V397.54H331.73z"/>
<path fill="#59a6b2" d="M215.29 570.20H219.30V574.21H215.29zM227.33 570.20H231.35V574.21H227.33zM235.36 566.18H239.38V570.20H235.36zM239.38 562.17H243.39V566.18H239.38zM199.23 558.15H203.24V562.17H199.23zM195.21 554.13H199.23V558.15H195.21zM243.39 554.13H247.41V558.15H243.39zM187.18 550.12H191.20V554.13H187.18zM247.41 550.12H251.42V554.13H247.41zM139.00 546.10H155.06V550.12H139.00zM163.09 546.10H179.15V550.12H163.09zM251.42 546.10H259.45V550.12H251.42zM279.53 542.09H283.54V546.10H279.53zM323.70 509.97H327.71V513.98H323.70zM331.73 505.95H335.74V509.97H331.73zM347.79 501.94H355.82V505.95H347.79zM363.85 497.92H371.88V501.94H363.85zM291.57 453.76H295.59V457.77H291.57zM295.59 449.74H299.60V453.76H295.59zM355.82 437.70H359.83V441.71H355.82zM339.76 425.65H343.77V429.67H339.76zM331.73 409.59H335.74V413.60H331.73zM331.73 405.57H335.74V409.59H331.73zM331.73 401.56H335.74V405.57H331.73zM331.73 397.54H335.74V401.56H331.73z"/>
<path fill="#59a9aa" d="M231.35 570.20H235.36V574.21H231.35zM207.26 566.18H211.27V570.20H207.26zM203.24 562.17H207.26V566.18H203.24zM243.39 558.15H247.41V562.17H243.39zM191.20 554.13H195.21V558.15H191.20zM159.07 550.12H187.18V554.13H159.07zM251.42 550.12H255.44V554.13H251.42zM134.98 546.10H139.00V550.12H134.98zM259.45 546.10H271.50V550.12H259.45zM283.54 542.09H287.56V546.10H283.54zM291.57 538.07H295.59V542.09H291.57zM335.74 505.95H343.77V509.97H335.74zM355.82 501.94H359.83V505.95H355.82zM371.88 497.92H375.89V501.94H371.88zM291.57 449.74H295.59V453.76H291.57zM363.85 441.71H367.86V445.73H363.85zM343.77 429.67H347.79V433.68H343.77zM335.74 417.62H339.76V421.63H335.74zM147.03 405.57H151.04V409.59H147.03zM151.04 401.56H155.06V405.57H151.04zM151.04 397.54H155.06V401.56H151.04z"/>
<path fill="#5aaca3" d="M211.27 570.20H215.29V574.21H211.27zM239.38 566.18H243.39V570.20H239.38zM195.21 558.15H199.23V562.17H195.21zM183.17 554.13H191.20V558.15H183.17zM247.41 554.13H251.42V558.15H247.41zM139.00 550.12H159.07V554.13H139.00zM255.44 550.12H259.45V554.13H255.44zM126.95 546.10H134.98V550.12H126.95zM271.50 546.10H275.51V550.12H271.50zM299.60 534.06H303.62V538.07H299.60zM303.62 530.04H307.63V534.06H303.62zM307.63 526.03H311.65V530.04H307.63zM315.67 518.00H319.68V522.01H315.67zM319.68 513.98H323.70V518.00H319.68zM327.71 509.97H331.73V513.98H327.71zM343.77 505.95H347.79V509.97H343.77zM359.83 501.94H367.86V505.95H359.83zM359.83 437.70H363.85V441.71H359.83zM347.79 433.68H351.80V437.70H347.79zM343.77 425.65H347.79V429.67H343.77zM339.76 421.63H343.77V425.65H339.76zM335.74 413.60H339.76V417.62H335.74zM335.74 409.59H339.76V413.60H335.74zM143.01 405.57H147.03V409.59H143.01zM335.74 405.57H339.76V409.59H335.74z"/>
<path fill="#5caf9c" d="M171.12 598.30H175.13V602.32H171.12zM163.09 594.29H175.13V598.30H163.09zM159.07 590.27H167.10V594.29H159.07zM159.07 586.26H163.09V590.27H159.07zM235.36 570.20H239.38V574.21H235.36zM199.23 562.17H203.24V566.18H199.23zM243.39 562.17H247.41V566.18H243.39zM187.18 558.15H195.21V562.17H187.18zM247.41 558.15H251.42V562.17H247.41zM155.06 554.13H183.17V558.15H155.06zM251.42 554.13H255.44V558.15H251.42zM126.95 550.12H139.00V554.13H126.95zM259.45 550.12H263.47V554.13H259.45zM275.51 546.10H279.53V550.12H275.51zM287.56 542.09H291.57V546.10H287.56zM311.65 522.01H315.67V526.03H311.65zM331.73 509.97H335.74V513.98H331.73zM347.79 505.95H355.82V509.97H347.79zM367.86 501.94H375.89V505.95H367.86zM351.80 433.68H359.83V437.70H351.80zM339.76 417.62H343.77V421.63H339.76zM335.74 401.56H339.76V405.57H335.74zM335.74 397.54H339.76V401.56H335.74z"/>
<path fill="#5fb196" d="M167.10 590.27H175.13V594.29H167.10zM155.06 586.26H159.07V590.27H155.06zM163.09 586.26H171.12V590.27H163.09zM151.04 582.24H167.10V586.26H151.04zM155.06 578.23H159.07V582.24H155.06zM215.29 574.21H227.33V578.23H215.29zM207.26 570.20H211.27V574.21H207.26zM203.24 566.18H207.26V570.20H203.24zM195.21 562.17H199.23V566.18H195.21zM130.97 558.15H139.00V562.17H130.97zM159.07 558.15H171.12V562.17H159.07zM183.17 558.15H187.18V562.17H183.17zM130.97 554.13H155.06V558.15H130.97zM263.47 550.12H267.48V554.13H263.47zM295.59 538.07H299.60V542.09H295.59zM323.70 513.98H327.71V518.00H323.70zM335.74 509.97H343.77V513.98H335.74zM355.82 505.95H363.85V509.97H355.82zM363.85 437.70H367.86V441.71H363.85zM359.83 433.68H363.85V437.70H359.83zM343.77 421.63H347.79V425.65H343.77zM339.76 413.60H343.77V417.62H339.76zM339.76 409.59H343.77V413.60H339.76zM339.76 405.57H343.77V409.59H339.76zM147.03 401.56H151.04V405.57H147.03zM339.76 401.56H343.77V405.57H339.76z"/>
<path fill="#62b28e" d="M175.13 598.30H179.15V602.32H175.13zM175.13 594.29H179.15V598.30H175.13zM171.12 586.26H175.13V590.27H171.12zM167.10 582.24H175.13V586.26H167.10zM147.03 578.23H155.06V582.24H147.03zM159.07 578.23H171.12V582.24H159.07zM143.01 574.21H167.10V578.23H143.01zM211.27 574.21H215.29V578.23H211.27zM227.33 574.21H231.35V578.23H227.33zM139.00 570.20H143.01V574.21H139.00zM155.06 570.20H167.10V574.21H155.06zM239.38 570.20H243.39V574.21H239.38zM139.00 566.18H143.01V570.20H139.00zM159.07 566.18H167.10V570.20H159.07zM243.39 566.18H247.41V570.20H243.39zM134.98 562.17H143.01V566.18H134.98zM159.07 562.17H171.12V566.18H159.07zM187.18 562.17H195.21V566.18H187.18zM247.41 562.17H251.42V566.18H247.41zM139.00 558.15H147.03V562.17H139.00zM155.06 558.15H159.07V562.17H155.06zM171.12 558.15H183.17V562.17H171.12zM251.42 558.15H255.44V562.17H251.42zM255.44 554.13H259.45V558.15H255.44zM267.48 550.12H271.50V554.13H267.48zM279.53 546.10H283.54V550.12H279.53zM319.68 518.00H323.70V522.01H319.68zM327.71 513.98H331.73V518.00H327.71zM343.77 509.97H351.80V513.98H343.77zM363.85 505.95H375.89V509.97H363.85zM347.79 429.67H351.80V433.68H347.79zM355.82 429.67H363.85V433.68H355.82zM347.79 425.65H351.80V429.67H347.79zM347.79 421.63H351.80V425.65H347.79zM343.77 417.62H351.80V421.63H343.77zM343.77 405.57H347.79V409.59H343.77z"/>
<path fill="#65b488" d="M175.13 602.32H179.15V606.33H175.13zM175.13 590.27H179.15V594.29H175.13zM175.13 586.26H179.15V590.27H175.13zM175.13 582.24H179.15V586.26H175.13zM171.12 578.23H179.15V582.24H171.12zM167.10 574.21H175.13V578.23H167.10zM207.26 574.21H211.27V578.23H207.26zM231.35 574.21H235.36V578.23H231.35zM143.01 570.20H155.06V574.21H143.01zM167.10 570.20H171.12V574.21H167.10zM143.01 566.18H159.07V570.20H143.01zM167.10 566.18H171.12V570.20H167.10zM187.18 566.18H195.21V570.20H187.18zM199.23 566.18H203.24V570.20H199.23zM143.01 562.17H147.03V566.18H143.01zM151.04 562.17H159.07V566.18H151.04zM171.12 562.17H175.13V566.18H171.12zM183.17 562.17H187.18V566.18H183.17zM147.03 558.15H155.06V562.17H147.03zM259.45 554.13H263.47V558.15H259.45zM271.50 550.12H275.51V554.13H271.50zM283.54 546.10H287.56V550.12H283.54zM291.57 542.09H295.59V546.10H291.57zM303.62 534.06H307.63V538.07H303.62zM307.63 530.04H311.65V534.06H307.63zM311.65 526.03H315.67V530.04H311.65zM315.67 522.01H319.68V526.03H315.67zM331.73 513.98H335.74V518.00H331.73zM351.80 509.97H355.82V513.98H351.80zM351.80 429.67H355.82V433.68H351.80zM351.80 425.65H359.83V429.67H351.80zM351.80 421.63H359.83V425.65H351.80zM351.80 417.62H355.82V421.63H351.80zM343.77 413.60H351.80V417.62H343.77zM343.77 409.59H351.80V413.60H343.77z"/>
<path fill="#68b680" d="M179.15 598.30H183.17V602.32H179.15zM179.15 594.29H183.17V598.30H179.15zM179.15 590.27H183.17V594.29H179.15zM179.15 586.26H183.17V590.27H179.15zM179.15 582.24H183.17V586.26H179.15zM179.15 578.23H183.17V582.24H179.15zM175.13 574.21H187.18V578.23H175.13zM235.36 574.21H239.38V578.23H235.36zM171.12 570.20H191.20V574.21H171.12zM203.24 570.20H207.26V574.21H203.24zM171.12 566.18H175.13V570.20H171.12zM183.17 566.18H187.18V570.20H183.17zM195.21 566.18H199.23V570.20H195.21zM247.41 566.18H251.42V570.20H247.41zM147.03 562.17H151.04V566.18H147.03zM175.13 562.17H183.17V566.18H175.13zM251.42 562.17H255.44V566.18H251.42zM255.44 558.15H259.45V562.17H255.44zM263.47 554.13H267.48V558.15H263.47zM299.60 538.07H303.62V542.09H299.60zM323.70 518.00H327.71V522.01H323.70zM335.74 513.98H343.77V518.00H335.74zM355.82 509.97H363.85V513.98H355.82z"/>
<path fill="#6eb879" d="M179.15 602.32H183.17V606.33H179.15zM183.17 590.27H187.18V594.29H183.17zM183.17 586.26H187.18V590.27H183.17zM183.17 582.24H191.20V586.26H183.17zM183.17 578.23H191.20V582.24H183.17zM207.26 578.23H223.32V582.24H207.26zM187.18 574.21H195.21V578.23H187.18zM203.24 574.21H207.26V578.23H203.24zM191.20 570.20H203.24V574.21H191.20zM243.39 570.20H247.41V574.21H243.39zM175.13 566.18H183.17V570.20H175.13zM259.45 558.15H263.47V562.17H259.45zM267.48 554.13H271.50V558.15H267.48zM275.51 550.12H279.53V554.13H275.51zM287.56 546.10H291.57V550.12H287.56zM295.59 542.09H299.60V546.10H295.59zM343.77 513.98H351.80V518.00H343.77zM363.85 509.97H375.89V513.98H363.85z"/>
<path fill="#74b971" d="M183.17 598.30H187.18V602.32H183.17zM183.17 594.29H187.18V598.30H183.17zM187.18 590.27H191.20V594.29H187.18zM187.18 586.26H191.20V590.27H187.18zM191.20 582.24H195.21V586.26H191.20zM191.20 578.23H207.26V582.24H191.20zM223.32 578.23H231.35V582.24H223.32zM195.21 574.21H203.24V578.23H195.21zM239.38 574.21H243.39V578.23H239.38zM247.41 570.20H251.42V574.21H247.41zM251.42 566.18H255.44V570.20H251.42zM255.44 562.17H259.45V566.18H255.44zM279.53 550.12H283.54V554.13H279.53zM303.62 538.07H307.63V542.09H303.62zM307.63 534.06H311.65V538.07H307.63zM311.65 530.04H315.67V534.06H311.65zM315.67 526.03H319.68V530.04H315.67zM319.68 522.01H323.70V526.03H319.68zM327.71 518.00H335.74V522.01H327.71zM351.80 513.98H363.85V518.00H351.80z"/>
<path fill="#7abb69" d="M183.17 606.33H187.18V610.35H183.17zM183.17 602.32H187.18V606.33H183.17zM187.18 598.30H191.20V602.32H187.18zM187.18 594.29H191.20V598.30H187.18zM191.20 590.27H195.21V594.29H191.20zM191.20 586.26H199.23V590.27H191.20zM195.21 582.24H215.29V586.26H195.21zM231.35 578.23H235.36V582.24H231.35zM243.39 574.21H247.41V578.23H243.39zM255.44 566.18H259.45V570.20H255.44zM259.45 562.17H263.47V566.18H259.45zM263.47 558.15H267.48V562.17H263.47zM271.50 554.13H275.51V558.15H271.50zM283.54 550.12H287.56V554.13H283.54zM291.57 546.10H295.59V550.12H291.57zM299.60 542.09H303.62V546.10H299.60zM323.70 522.01H327.71V526.03H323.70zM335.74 518.00H347.79V522.01H335.74zM363.85 513.98H375.89V518.00H363.85z"/>
<path fill="#80bd61" d="M187.18 602.32H191.20V606.33H187.18zM191.20 598.30H195.21V602.32H191.20zM191.20 594.29H195.21V598.30H191.20zM195.21 590.27H199.23V594.29H195.21zM199.23 586.26H207.26V590.27H199.23zM215.29 582.24H223.32V586.26H215.29zM235.36 578.23H239.38V582.24H235.36zM247.41 574.21H251.42V578.23H247.41zM251.42 570.20H255.44V574.21H251.42zM263.47 562.17H267.48V566.18H263.47zM267.48 558.15H271.50V562.17H267.48zM275.51 554.13H283.54V558.15H275.51zM287.56 550.12H291.57V554.13H287.56zM295.59 546.10H303.62V550.12H295.59zM303.62 542.09H307.63V546.10H303.62zM307.63 538.07H311.65V542.09H307.63zM311.65 534.06H315.67V538.07H311.65zM315.67 530.04H323.70V534.06H315.67zM319.68 526.03H327.71V530.04H319.68zM327.71 522.01H339.76V526.03H327.71zM347.79 518.00H363.85V522.01H347.79z"/>
<path fill="#87be5a" d="M187.18 606.33H191.20V610.35H187.18zM191.20 602.32H195.21V606.33H191.20zM195.21 598.30H199.23V602.32H195.21zM195.21 594.29H199.23V598.30H195.21zM199.23 590.27H207.26V594.29H199.23zM207.26 586.26H215.29V590.27H207.26zM223.32 582.24H231.35V586.26H223.32zM239.38 578.23H243.39V582.24H239.38zM255.44 570.20H259.45V574.21H255.44zM259.45 566.18H263.47V570.20H259.45zM271.50 558.15H275.51V562.17H271.50zM283.54 554.13H287.56V558.15H283.54zM291.57 550.12H299.60V554.13H291.57zM303.62 546.10H307.63V550.12H303.62zM307.63 542.09H315.67V546.10H307.63zM311.65 538.07H319.68V542.09H311.65zM315.67 534.06H323.70V538.07H315.67zM323.70 530.04H331.73V534.06H323.70zM327.71 526.03H335.74V530.04H327.71zM339.76 522.01H355.82V526.03H339.76zM363.85 518.00H375.89V522.01H363.85z"/>
<path fill="#8fbe56" d="M191.20 606.33H195.21V610.35H191.20zM199.23 594.29H203.24V598.30H199.23zM207.26 590.27H211.27V594.29H207.26zM215.29 586.26H219.30V590.27H215.29zM231.35 582.24H235.36V586.26H231.35zM243.39 578.23H247.41V582.24H243.39zM251.42 574.21H255.44V578.23H251.42zM263.47 566.18H267.48V570.20H263.47zM267.48 562.17H271.50V566.18H267.48zM275.51 558.15H283.54V562.17H275.51zM287.56 554.13H295.59V558.15H287.56zM299.60 550.12H307.63V554.13H299.60zM307.63 546.10H315.67V550.12H307.63zM315.67 542.09H323.70V546.10H315.67zM319.68 538.07H327.71V542.09H319.68zM323.70 534.06H331.73V538.07H323.70zM331.73 530.04H339.76V534.06H331.73zM335.74 526.03H347.79V530.04H335.74zM355.82 522.01H363.85V526.03H355.82z"/>
<path fill="#97be52" d="M191.20 610.35H195.21V614.36H191.20zM195.21 602.32H199.23V606.33H195.21zM199.23 598.30H203.24V602.32H199.23zM203.24 594.29H207.26V598.30H203.24zM211.27 590.27H215.29V594.29H211.27zM219.30 586.26H223.32V590.27H219.30zM235.36 582.24H239.38V586.26H235.36zM247.41 578.23H251.42V582.24H247.41zM255.44 574.21H259.45V578.23H255.44zM259.45 570.20H263.47V574.21H259.45zM271.50 562.17H275.51V566.18H271.50zM283.54 558.15H287.56V562.17H283.54zM295.59 554.13H307.63V558.15H295.59zM307.63 550.12H323.70V554.13H307.63zM315.67 546.10H327.71V550.12H315.67zM323.70 542.09H331.73V546.10H323.70zM327.71 538.07H335.74V542.09H327.71zM331.73 534.06H339.76V538.07H331.73zM339.76 530.04H343.77V534.06H339.76zM347.79 526.03H355.82V530.04H347.79zM363.85 522.01H375.89V526.03H363.85z"/>
<path fill="#9ebe4d" d="M195.21 606.33H199.23V610.35H195.21zM199.23 602.32H203.24V606.33H199.23zM203.24 598.30H207.26V602.32H203.24zM207.26 594.29H211.27V598.30H207.26zM223.32 586.26H227.33V590.27H223.32zM239.38 582.24H243.39V586.26H239.38zM331.73 582.24H339.76V586.26H331.73zM331.73 578.23H343.77V582.24H331.73zM331.73 574.21H347.79V578.23H331.73zM331.73 570.20H351.80V574.21H331.73zM267.48 566.18H271.50V570.20H267.48zM335.74 566.18H347.79V570.20H335.74zM275.51 562.17H279.53V566.18H275.51zM287.56 558.15H295.59V562.17H287.56zM307.63 554.13H335.74V558.15H307.63zM323.70 550.12H335.74V554.13H323.70zM327.71 546.10H335.74V550.12H327.71zM331.73 542.09H339.76V546.10H331.73zM335.74 538.07H339.76V542.09H335.74zM339.76 534.06H343.77V538.07H339.76zM343.77 530.04H347.79V534.06H343.77zM355.82 526.03H363.85V530.04H355.82z"/>
<path fill="#a6be49" d="M195.21 610.35H199.23V614.36H195.21zM199.23 606.33H203.24V610.35H199.23zM215.29 590.27H219.30V594.29H215.29zM227.33 586.26H231.35V590.27H227.33zM331.73 586.26H335.74V590.27H331.73zM327.71 582.24H331.73V586.26H327.71zM251.42 578.23H255.44V582.24H251.42zM327.71 578.23H331.73V582.24H327.71zM259.45 574.21H263.47V578.23H259.45zM327.71 574.21H331.73V578.23H327.71zM263.47 570.20H267.48V574.21H263.47zM323.70 570.20H331.73V574.21H323.70zM271.50 566.18H275.51V570.20H271.50zM323.70 566.18H335.74V570.20H323.70zM347.79 566.18H351.80V570.20H347.79zM279.53 562.17H283.54V566.18H279.53zM315.67 562.17H355.82V566.18H315.67zM295.59 558.15H347.79V562.17H295.59zM335.74 554.13H343.77V558.15H335.74zM335.74 550.12H343.77V554.13H335.74zM335.74 546.10H343.77V550.12H335.74zM339.76 542.09H343.77V546.10H339.76zM339.76 538.07H343.77V542.09H339.76zM343.77 534.06H347.79V538.07H343.77zM347.79 530.04H359.83V534.06H347.79zM363.85 526.03H371.88V530.04H363.85z"/>
<path fill="#afbc46" d="M199.23 610.35H203.24V614.36H199.23zM203.24 602.32H207.26V606.33H203.24zM207.26 598.30H211.27V602.32H207.26zM211.27 594.29H215.29V598.30H211.27zM219.30 590.27H223.32V594.29H219.30zM231.35 586.26H235.36V590.27H231.35zM327.71 586.26H331.73V590.27H327.71zM243.39 582.24H247.41V586.26H243.39zM323.70 582.24H327.71V586.26H323.70zM323.70 578.23H327.71V582.24H323.70zM323.70 574.21H327.71V578.23H323.70zM267.48 570.20H271.50V574.21H267.48zM319.68 570.20H323.70V574.21H319.68zM315.67 566.18H323.70V570.20H315.67zM283.54 562.17H291.57V566.18H283.54zM299.60 562.17H315.67V566.18H299.60zM347.79 558.15H359.83V562.17H347.79zM343.77 554.13H351.80V558.15H343.77zM343.77 550.12H351.80V554.13H343.77zM343.77 546.10H347.79V550.12H343.77zM343.77 542.09H347.79V546.10H343.77zM343.77 538.07H347.79V542.09H343.77zM347.79 534.06H355.82V538.07H347.79zM359.83 530.04H363.85V534.06H359.83z"/>
<path fill="#b7b944" d="M199.23 614.36H203.24V618.38H199.23zM203.24 606.33H207.26V610.35H203.24zM215.29 594.29H219.30V598.30H215.29zM223.32 590.27H227.33V594.29H223.32zM327.71 590.27H331.73V594.29H327.71zM235.36 586.26H239.38V590.27H235.36zM323.70 586.26H327.71V590.27H323.70zM247.41 582.24H251.42V586.26H247.41zM255.44 578.23H259.45V582.24H255.44zM319.68 578.23H323.70V582.24H319.68zM263.47 574.21H267.48V578.23H263.47zM315.67 574.21H323.70V578.23H315.67zM311.65 570.20H319.68V574.21H311.65zM275.51 566.18H279.53V570.20H275.51zM307.63 566.18H315.67V570.20H307.63zM291.57 562.17H299.60V566.18H291.57zM351.80 554.13H359.83V558.15H351.80zM351.80 550.12H355.82V554.13H351.80zM347.79 546.10H351.80V550.12H347.79zM347.79 542.09H351.80V546.10H347.79zM347.79 538.07H355.82V542.09H347.79zM355.82 534.06H363.85V538.07H355.82zM363.85 530.04H367.86V534.06H363.85z"/>
<path fill="#c0b742" d="M203.24 610.35H207.26V614.36H203.24zM207.26 602.32H211.27V606.33H207.26zM211.27 598.30H215.29V602.32H211.27zM323.70 590.27H327.71V594.29H323.70zM239.38 586.26H243.39V590.27H239.38zM319.68 586.26H323.70V590.27H319.68zM251.42 582.24H255.44V586.26H251.42zM319.68 582.24H323.70V586.26H319.68zM259.45 578.23H263.47V582.24H259.45zM315.67 578.23H319.68V582.24H315.67zM311.65 574.21H315.67V578.23H311.65zM271.50 570.20H275.51V574.21H271.50zM307.63 570.20H311.65V574.21H307.63zM279.53 566.18H287.56V570.20H279.53zM299.60 566.18H307.63V570.20H299.60zM355.82 550.12H363.85V554.13H355.82zM351.80 546.10H355.82V550.12H351.80zM351.80 542.09H355.82V546.10H351.80zM355.82 538.07H359.83V542.09H355.82zM363.85 534.06H367.86V538.07H363.85zM367.86 530.04H371.88V534.06H367.86z"/>
<path fill="#c8b440" d="M203.24 614.36H207.26V618.38H203.24zM207.26 606.33H211.27V610.35H207.26zM211.27 602.32H215.29V606.33H211.27zM215.29 598.30H219.30V602.32H215.29zM219.30 594.29H223.32V598.30H219.30zM323.70 594.29H327.71V598.30H323.70zM227.33 590.27H231.35V594.29H227.33zM319.68 590.27H323.70V594.29H319.68zM315.67 586.26H319.68V590.27H315.67zM315.67 582.24H319.68V586.26H315.67zM311.65 578.23H315.67V582.24H311.65zM267.48 574.21H271.50V578.23H267.48zM307.63 574.21H311.65V578.23H307.63zM275.51 570.20H279.53V574.21H275.51zM303.62 570.20H307.63V574.21H303.62zM287.56 566.18H299.60V570.20H287.56zM355.82 546.10H363.85V550.12H355.82zM355.82 542.09H359.83V546.10H355.82zM359.83 538.07H367.86V542.09H359.83zM367.86 534.06H371.88V538.07H367.86z"/>
<path fill="#d0b23e" d="M207.26 610.35H211.27V614.36H207.26zM223.32 594.29H227.33V598.30H223.32zM319.68 594.29H323.70V598.30H319.68zM231.35 590.27H235.36V594.29H231.35zM315.67 590.27H319.68V594.29H315.67zM243.39 586.26H247.41V590.27H243.39zM311.65 586.26H315.67V590.27H311.65zM255.44 582.24H259.45V586.26H255.44zM311.65 582.24H315.67V586.26H311.65zM263.47 578.23H267.48V582.24H263.47zM307.63 578.23H311.65V582.24H307.63zM303.62 574.21H307.63V578.23H303.62zM279.53 570.20H283.54V574.21H279.53zM299.60 570.20H303.62V574.21H299.60zM359.83 542.09H367.86V546.10H359.83z"/>
<path fill="#d6af3d" d="M207.26 614.36H211.27V618.38H207.26zM211.27 606.33H215.29V610.35H211.27zM215.29 602.32H219.30V606.33H215.29zM219.30 598.30H223.32V602.32H219.30zM315.67 598.30H319.68V602.32H315.67zM227.33 594.29H231.35V598.30H227.33zM315.67 594.29H319.68V598.30H315.67zM235.36 590.27H239.38V594.29H235.36zM311.65 590.27H315.67V594.29H311.65zM247.41 586.26H251.42V590.27H247.41zM307.63 586.26H311.65V590.27H307.63zM259.45 582.24H263.47V586.26H259.45zM307.63 582.24H311.65V586.26H307.63zM303.62 578.23H307.63V582.24H303.62zM271.50 574.21H275.51V578.23H271.50zM299.60 574.21H303.62V578.23H299.60zM283.54 570.20H299.60V574.21H283.54z"/>
<path fill="#dbad3c" d="M211.27 610.35H215.29V614.36H211.27zM215.29 606.33H219.30V610.35H215.29zM223.32 598.30H227.33V602.32H223.32zM311.65 598.30H315.67V602.32H311.65zM231.35 594.29H235.36V598.30H231.35zM307.63 594.29H315.67V598.30H307.63zM239.38 590.27H243.39V594.29H239.38zM307.63 590.27H311.65V594.29H307.63zM251.42 586.26H259.45V590.27H251.42zM303.62 586.26H307.63V590.27H303.62zM263.47 582.24H267.48V586.26H263.47zM303.62 582.24H307.63V586.26H303.62zM267.48 578.23H275.51V582.24H267.48zM299.60 578.23H303.62V582.24H299.60zM275.51 574.21H283.54V578.23H275.51zM295.59 574.21H299.60V578.23H295.59z"/>
<path fill="#e1ab3b" d="M211.27 618.38H215.29V622.39H211.27zM211.27 614.36H215.29V618.38H211.27zM215.29 610.35H219.30V614.36H215.29zM219.30 602.32H223.32V606.33H219.30zM311.65 602.32H315.67V606.33H311.65zM227.33 598.30H231.35V602.32H227.33zM307.63 598.30H311.65V602.32H307.63zM235.36 594.29H239.38V598.30H235.36zM303.62 594.29H307.63V598.30H303.62zM243.39 590.27H251.42V594.29H243.39zM303.62 590.27H307.63V594.29H303.62zM259.45 586.26H263.47V590.27H259.45zM299.60 586.26H303.62V590.27H299.60zM267.48 582.24H271.50V586.26H267.48zM295.59 582.24H303.62V586.26H295.59zM275.51 578.23H283.54V582.24H275.51zM291.57 578.23H299.60V582.24H291.57zM283.54 574.21H295.59V578.23H283.54z"/>
<path fill="#e6a93a" d="M215.29 614.36H219.30V618.38H215.29zM219.30 606.33H223.32V610.35H219.30zM223.32 602.32H227.33V606.33H223.32zM307.63 602.32H311.65V606.33H307.63zM231.35 598.30H235.36V602.32H231.35zM239.38 594.29H243.39V598.30H239.38zM251.42 590.27H255.44V594.29H251.42zM299.60 590.27H303.62V594.29H299.60zM263.47 586.26H267.48V590.27H263.47zM295.59 586.26H299.60V590.27H295.59zM271.50 582.24H279.53V586.26H271.50zM291.57 582.24H295.59V586.26H291.57zM283.54 578.23H291.57V582.24H283.54z"/>
<path fill="#e9af3a" d="M215.29 618.38H219.30V622.39H215.29zM219.30 610.35H223.32V614.36H219.30zM223.32 606.33H227.33V610.35H223.32zM227.33 602.32H231.35V606.33H227.33zM235.36 598.30H239.38V602.32H235.36zM303.62 598.30H307.63V602.32H303.62zM243.39 594.29H247.41V598.30H243.39zM299.60 594.29H303.62V598.30H299.60zM255.44 590.27H259.45V594.29H255.44zM295.59 590.27H299.60V594.29H295.59zM267.48 586.26H271.50V590.27H267.48zM291.57 586.26H295.59V590.27H291.57zM279.53 582.24H291.57V586.26H279.53z"/>
<path fill="#eabb3a" d="M219.30 614.36H223.32V618.38H219.30zM231.35 602.32H235.36V606.33H231.35zM303.62 602.32H307.63V606.33H303.62zM247.41 594.29H251.42V598.30H247.41zM259.45 590.27H263.47V594.29H259.45zM271.50 586.26H291.57V590.27H271.50z"/>
<path fill="#ebc63a" d="M219.30 618.38H223.32V622.39H219.30zM223.32 610.35H227.33V614.36H223.32zM227.33 606.33H231.35V610.35H227.33zM303.62 606.33H307.63V610.35H303.62zM239.38 598.30H243.39V602.32H239.38zM299.60 598.30H303.62V602.32H299.60zM251.42 594.29H255.44V598.30H251.42zM295.59 594.29H299.60V598.30H295.59zM263.47 590.27H267.48V594.29H263.47zM291.57 590.27H295.59V594.29H291.57z"/>
<path fill="#edd13a" d="M223.32 614.36H227.33V618.38H223.32zM235.36 602.32H239.38V606.33H235.36zM299.60 602.32H303.62V606.33H299.60zM243.39 598.30H247.41V602.32H243.39zM255.44 594.29H259.45V598.30H255.44zM267.48 590.27H291.57V594.29H267.48z"/>
<path fill="#eedc3a" d="M223.32 618.38H227.33V622.39H223.32zM227.33 610.35H231.35V614.36H227.33zM231.35 606.33H235.36V610.35H231.35zM239.38 602.32H243.39V606.33H239.38zM247.41 598.30H251.42V602.32H247.41zM295.59 598.30H299.60V602.32H295.59zM259.45 594.29H263.47V598.30H259.45zM291.57 594.29H295.59V598.30H291.57z"/>
<path fill="#efe239" d="M227.33 614.36H231.35V618.38H227.33zM235.36 606.33H239.38V610.35H235.36zM299.60 606.33H303.62V610.35H299.60zM243.39 602.32H247.41V606.33H243.39zM295.59 602.32H299.60V606.33H295.59zM251.42 598.30H255.44V602.32H251.42zM263.47 594.29H275.51V598.30H263.47zM283.54 594.29H291.57V598.30H283.54z"/>
<path fill="#f0e737" d="M227.33 618.38H231.35V622.39H227.33zM231.35 610.35H235.36V614.36H231.35zM239.38 606.33H243.39V610.35H239.38zM247.41 602.32H251.42V606.33H247.41zM255.44 598.30H263.47V602.32H255.44zM291.57 598.30H295.59V602.32H291.57zM275.51 594.29H283.54V598.30H275.51z"/>
<path fill="#f1ec36" d="M231.35 618.38H235.36V622.39H231.35zM231.35 614.36H239.38V618.38H231.35zM235.36 610.35H239.38V614.36H235.36zM295.59 610.35H299.60V614.36H295.59zM295.59 606.33H299.60V610.35H295.59zM251.42 602.32H255.44V606.33H251.42zM291.57 602.32H295.59V606.33H291.57zM263.47 598.30H271.50V602.32H263.47zM283.54 598.30H291.57V602.32H283.54z"/>
<path fill="#f2f135" d="M235.36 618.38H279.53V622.39H235.36zM239.38 614.36H291.57V618.38H239.38zM239.38 610.35H295.59V614.36H239.38zM243.39 606.33H295.59V610.35H243.39zM255.44 602.32H291.57V606.33H255.44zM271.50 598.30H283.54V602.32H271.50z"/>
</g>
<g fill="none" stroke="#111" stroke-width="0.85">
<path d="M133.0,424.2C136.5,422.1 140.0,420.3 143.5,417.9C147.0,415.4 151.0,412.3 154.0,409.5C157.0,406.7 159.6,403.9 161.3,401.1C163.1,398.3 163.8,395.1 164.5,392.7C165.2,390.2 165.2,388.5 165.5,386.4"/>
<path d="M187.6,374.8C185.5,378.0 183.4,380.3 181.3,384.3C179.2,388.3 176.8,394.4 175.0,399.0C173.2,403.6 173.2,407.8 170.8,411.6C168.4,415.5 163.9,418.6 160.3,422.1C156.7,425.6 152.5,428.8 149.0,432.6C145.5,436.5 142.4,441.1 139.5,445.2C136.6,449.3 133.8,453.4 131.5,457.5C129.2,461.6 127.2,466.4 126.0,470.0C124.8,473.6 124.5,476.0 124.4,479.0C124.3,482.0 124.4,485.3 125.2,488.0C126.0,490.7 127.0,492.6 129.0,495.0C131.1,497.4 134.7,500.7 137.5,502.6C140.3,504.5 142.8,505.6 145.6,506.4C148.3,507.2 150.5,506.6 154.0,507.5C157.5,508.4 162.0,510.0 166.6,512.0C171.2,514.0 176.4,517.8 181.3,519.4C186.2,521.0 192.2,521.7 196.0,521.9C199.8,522.1 202.3,521.9 204.4,520.4C206.5,518.9 208.1,516.1 208.6,513.1C209.1,510.1 208.2,505.8 207.5,502.6C206.8,499.5 205.4,497.1 204.4,494.2C203.4,491.3 202.2,489.0 201.5,485.0C200.8,481.0 199.4,475.3 200.2,470.4C201.0,465.5 203.4,460.8 206.5,455.7C209.6,450.6 214.6,444.5 219.0,440.0C223.4,435.5 228.9,432.5 233.0,428.5C237.1,424.5 241.2,420.4 243.5,416.0C245.8,411.6 245.3,405.8 247.0,402.0C248.7,398.2 250.9,394.1 253.4,393.1C255.9,392.1 259.0,393.8 261.8,395.8C264.6,397.8 267.4,402.0 270.2,405.3C273.0,408.6 275.5,413.2 278.6,415.8C281.8,418.4 285.6,420.3 289.1,421.0C292.6,421.7 296.6,421.2 299.6,420.0C302.6,418.8 305.1,417.2 306.9,413.7C308.6,410.2 309.6,403.9 310.1,399.0C310.6,394.1 310.3,388.1 310.1,384.3C309.9,380.6 309.4,379.1 309.0,376.5"/>
<path d="M165.5,447.3C165.5,443.8 166.0,441.4 167.6,436.8C169.2,432.2 172.4,425.2 175.0,420.0C177.6,414.8 180.6,409.9 183.4,405.3C186.2,400.8 188.7,395.9 191.8,392.7C195.0,389.5 198.8,387.6 202.3,386.4C205.8,385.2 209.7,384.6 212.8,385.3C216.0,386.0 219.3,387.6 221.2,390.6C223.1,393.6 224.1,398.6 224.3,403.2C224.5,407.8 224.1,413.3 222.2,417.9C220.3,422.4 216.8,426.3 212.8,430.5C208.8,434.7 202.7,439.2 198.1,443.1C193.5,447.0 189.3,450.8 185.5,453.6C181.7,456.4 178.0,459.2 175.0,459.9C172.0,460.6 169.2,459.9 167.6,457.8C166.0,455.7 165.5,450.8 165.5,447.3Z"/>
<path d="M288.0,452.5C288.1,450.6 288.7,447.7 290.1,446.2C291.5,444.7 294.4,443.3 296.4,443.5C298.4,443.7 301.2,445.4 302.1,447.3C303.0,449.2 302.8,452.6 301.7,454.6C300.6,456.6 297.4,459.0 295.4,459.5C293.4,460.0 290.7,459.0 289.5,457.8C288.3,456.6 287.9,454.4 288.0,452.5Z"/>
<path d="M331.1,393.0C330.4,397.1 329.0,400.8 329.0,405.3C329.0,409.8 329.7,415.8 331.1,420.0C332.5,424.2 334.6,427.4 337.4,430.5C340.2,433.6 344.0,436.4 347.9,438.9C351.8,441.3 356.6,442.8 360.5,445.2C364.4,447.6 368.5,451.1 371.0,453.6C373.5,456.2 374.0,458.2 375.5,460.5"/>
<path d="M245.0,450.4C247.9,448.6 250.6,448.9 253.4,449.4C256.2,449.9 259.4,451.2 261.8,453.6C264.2,456.1 265.7,460.6 268.1,464.1C270.6,467.6 273.4,471.8 276.5,474.6C279.6,477.4 283.5,479.8 287.0,480.9C290.5,481.9 294.0,481.9 297.5,480.9C301.0,479.8 304.5,477.4 308.0,474.6C311.5,471.8 315.4,466.9 318.5,464.1C321.6,461.3 324.1,458.5 326.9,457.8C329.7,457.1 332.9,458.1 335.3,459.9C337.8,461.6 340.9,465.5 341.6,468.3C342.3,471.1 341.6,474.2 339.5,476.7C337.4,479.1 332.5,481.2 329.0,483.0C325.5,484.8 321.3,485.7 318.5,487.2C315.7,488.7 314.1,489.8 312.2,492.0C310.3,494.2 308.6,497.3 306.9,500.5C305.1,503.7 303.6,507.5 301.7,511.0C299.8,514.5 297.8,518.7 295.4,521.5C292.9,524.3 290.1,526.6 287.0,527.8C283.9,529.0 280.0,529.3 276.5,528.8C273.0,528.3 269.5,526.5 266.0,524.6C262.5,522.7 259.0,519.4 255.5,517.3C252.0,515.2 248.3,514.1 245.0,512.0C241.7,509.9 238.8,507.3 235.9,504.7C233.0,502.1 229.4,498.8 227.5,496.3C225.6,493.9 224.7,492.2 224.3,490.0C224.0,487.8 224.7,486.3 225.4,483.0C226.1,479.7 226.8,474.2 228.5,470.4C230.2,466.5 233.2,463.2 235.9,459.9C238.7,456.6 242.1,452.1 245.0,450.4Z"/>
<path d="M121.4,537.2C125.3,538.3 129.0,539.4 133.0,540.4C137.0,541.4 141.0,543.1 145.6,543.5C150.2,543.9 155.4,542.9 160.3,542.5C165.2,542.1 170.1,541.2 175.0,541.4C179.9,541.6 185.8,542.5 189.7,543.5C193.5,544.5 195.6,545.8 198.1,547.7C200.6,549.6 202.3,552.5 204.4,555.1C206.5,557.7 207.9,561.0 210.7,563.5C213.5,566.0 217.7,568.9 221.2,569.8C224.7,570.7 228.9,570.1 231.7,568.7C234.5,567.3 236.6,564.4 238.0,561.4C239.4,558.4 239.3,553.9 240.1,550.9C240.9,547.9 241.3,545.2 243.0,543.5C244.7,541.8 247.6,541.0 250.0,540.6C252.4,540.2 253.9,540.9 257.6,541.4C261.3,541.9 267.4,543.7 272.3,543.5C277.2,543.3 282.4,542.3 287.0,540.4C291.6,538.5 295.1,536.2 299.6,532.0C304.2,527.8 310.1,519.4 314.3,515.2C318.5,511.0 321.0,508.9 324.8,506.8C328.6,504.7 332.5,504.0 337.4,502.6C342.3,501.2 349.3,499.9 354.2,498.4C359.1,496.9 363.4,495.4 366.5,493.5C369.6,491.6 371.3,488.9 373.1,487.2C374.9,485.4 376.0,484.4 377.5,483.0"/>
<path d="M185.5,607.6C187.9,604.1 190.4,600.2 192.8,597.1C195.2,594.0 196.9,590.6 200.2,588.7C203.5,586.8 208.2,586.5 212.8,585.5C217.4,584.5 222.1,583.6 227.5,582.4C232.9,581.2 240.3,580.0 245.0,578.2C249.7,576.5 252.0,574.5 255.5,571.9C259.0,569.3 261.8,565.2 266.0,562.4C270.2,559.6 275.8,557.4 280.7,555.1C285.6,552.8 290.8,551.2 295.4,548.8C299.9,546.3 304.1,543.5 308.0,540.4C311.9,537.2 315.0,532.7 318.5,529.9C322.0,527.1 325.1,525.0 329.0,523.6C332.9,522.2 336.7,522.2 341.6,521.5C346.5,520.8 352.9,520.3 358.4,519.4C363.9,518.5 369.1,517.3 374.5,516.2"/>
<path d="M210.0,619.0C213.7,613.8 217.2,607.2 221.2,603.4C225.2,599.6 229.5,597.9 233.8,596.0C238.1,594.1 243.0,593.0 247.0,591.8C251.0,590.6 253.7,590.3 257.6,588.7C261.5,587.1 266.0,584.5 270.2,582.4C274.4,580.3 279.1,577.5 282.8,576.1C286.5,574.7 289.6,573.8 292.2,574.0C294.8,574.2 296.8,575.4 298.5,577.1C300.2,578.9 301.5,581.9 302.7,584.5C303.9,587.1 304.7,590.4 305.9,592.9C307.1,595.4 308.7,597.3 310.1,599.2C311.5,601.1 312.9,602.7 314.3,604.4"/>
<path d="M227.5,622.8C231.0,618.8 234.8,613.4 238.0,610.7C241.2,608.0 243.7,607.9 247.0,606.5C250.3,605.1 253.7,603.5 257.6,602.3C261.5,601.1 266.0,599.9 270.2,599.2C274.4,598.5 279.3,597.8 282.8,598.1C286.3,598.5 288.9,599.9 291.2,601.3C293.5,602.7 294.9,604.8 296.4,606.5C297.9,608.2 298.8,610.0 300.0,611.8"/>
</g>
<path d="M145.7,571.6l4,4m0,-4l-4,4M176.8,560.4l4,4m0,-4l-4,4M198.6,573.0l4,4m0,-4l-4,4M226.1,580.8l4,4m0,-4l-4,4M202.6,606.0l4,4m0,-4l-4,4M243.5,609.4l4,4m0,-4l-4,4M327.0,515.3l4,4m0,-4l-4,4M310.6,530.0l4,4m0,-4l-4,4M331.4,540.5l4,4m0,-4l-4,4M264.0,559.4l4,4m0,-4l-4,4M310.6,560.4l4,4m0,-4l-4,4M341.7,571.6l4,4m0,-4l-4,4M288.8,573.0l4,4m0,-4l-4,4M260.8,580.8l4,4m0,-4l-4,4M315.9,591.5l4,4m0,-4l-4,4M284.6,605.6l4,4m0,-4l-4,4" stroke="#222" stroke-width="0.8" fill="none"/>
<path d="M379.85,147.40 L384.00,144.30 L386.50,143.10 L389.60,143.90 L392.10,146.80 L393.00,149.90 L393.40,161.10 L393.70,173.50 L394.20,187.20 L392.70,193.40 L390.30,197.80 L384.70,201.10 L377.15,196.50" fill="none" stroke="#000" stroke-width="1.8" stroke-linejoin="round"/>
<path d="M117.85,147.40 L113.70,144.30 L111.20,143.10 L108.10,143.90 L105.60,146.80 L104.70,149.90 L104.30,161.10 L104.00,173.50 L103.50,187.20 L105.00,193.40 L107.40,197.80 L113.00,201.10 L120.55,196.50" fill="none" stroke="#000" stroke-width="1.8" stroke-linejoin="round"/>
<path d="M225.25,33.50 L248.85,11.90 L272.45,33.50" fill="none" stroke="#000" stroke-width="1.8" stroke-linejoin="miter"/>
<circle cx="248.85" cy="164.5" r="132.5" fill="none" stroke="#000" stroke-width="1.9"/>
<path d="M376.40,474.80 L380.55,471.70 L383.05,470.50 L386.15,471.30 L388.65,474.20 L389.55,477.30 L389.95,488.50 L390.25,500.90 L390.75,514.60 L389.25,520.80 L386.85,525.20 L381.25,528.50 L373.70,523.90" fill="none" stroke="#000" stroke-width="1.8" stroke-linejoin="round"/>
<path d="M114.40,474.80 L110.25,471.70 L107.75,470.50 L104.65,471.30 L102.15,474.20 L101.25,477.30 L100.85,488.50 L100.55,500.90 L100.05,514.60 L101.55,520.80 L103.95,525.20 L109.55,528.50 L117.10,523.90" fill="none" stroke="#000" stroke-width="1.8" stroke-linejoin="round"/>
<path d="M221.80,360.90 L245.40,339.30 L269.00,360.90" fill="none" stroke="#000" stroke-width="1.8" stroke-linejoin="miter"/>
<circle cx="245.4" cy="491.9" r="132.5" fill="none" stroke="#000" stroke-width="1.9"/></svg></body></html>
